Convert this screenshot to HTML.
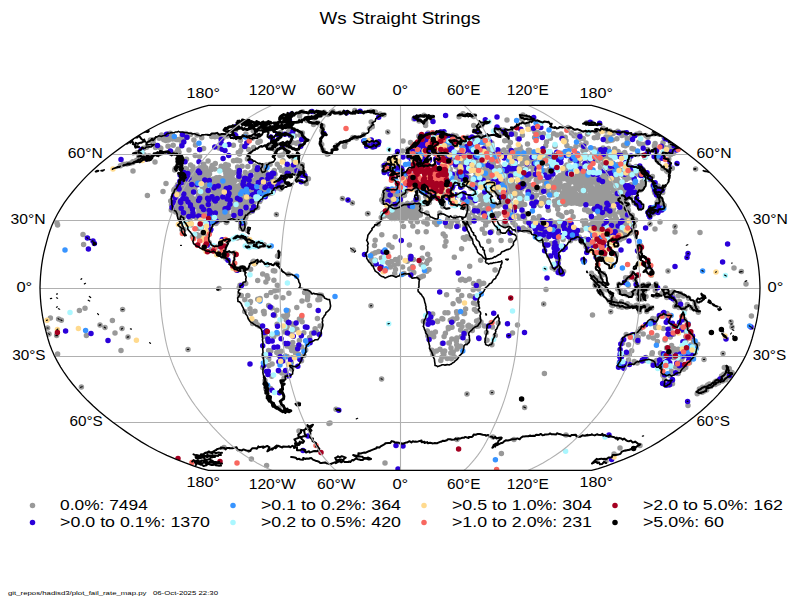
<!DOCTYPE html><html><head><meta charset="utf-8"><style>html,body{margin:0;padding:0;background:#fff}</style></head><body><svg width="800" height="600" viewBox="0 0 800 600" style="display:block;font-family:'Liberation Sans',sans-serif" fill="#000"><rect width="800" height="600" fill="#fff"/><clipPath id="c"><path d="M591.59 470.40L598.28 468.55L605.99 466.04L614.53 462.94L623.67 459.34L633.14 455.30L642.35 450.98L650.83 446.48L658.70 441.83L666.21 437.04L673.49 432.12L680.59 427.09L687.50 421.95L694.18 416.73L700.60 411.42L706.72 406.04L712.44 400.59L717.70 395.09L722.63 389.55L727.36 383.97L731.78 378.36L735.77 372.73L739.37 367.08L742.66 361.42L745.60 355.76L748.14 350.10L750.28 344.44L752.04 338.78L753.59 333.12L755.07 327.46L756.40 321.80L757.49 316.15L758.34 310.49L759.01 304.83L759.50 299.17L759.82 293.51L760.00 287.85L759.82 282.19L759.50 276.53L759.01 270.87L758.34 265.21L757.49 259.55L756.40 253.90L755.07 248.24L753.59 242.58L752.04 236.92L750.28 231.26L748.14 225.60L745.60 219.94L742.66 214.28L739.37 208.62L735.77 202.97L731.78 197.34L727.36 191.73L722.63 186.15L717.70 180.61L712.44 175.11L706.72 169.66L700.60 164.28L694.18 158.97L687.50 153.75L680.59 148.61L673.49 143.58L666.21 138.66L658.70 133.87L650.83 129.22L642.35 124.72L633.14 120.40L623.67 116.36L614.53 112.76L605.99 109.66L598.28 107.15L591.59 105.30L208.41 105.30L201.72 107.15L194.01 109.66L185.47 112.76L176.33 116.36L166.86 120.40L157.65 124.72L149.17 129.22L141.30 133.87L133.79 138.66L126.51 143.58L119.41 148.61L112.50 153.75L105.82 158.97L99.40 164.28L93.28 169.66L87.56 175.11L82.30 180.61L77.37 186.15L72.64 191.73L68.22 197.34L64.23 202.97L60.63 208.62L57.34 214.28L54.40 219.94L51.86 225.60L49.72 231.26L47.96 236.92L46.41 242.58L44.93 248.24L43.60 253.90L42.51 259.55L41.66 265.21L40.99 270.87L40.50 276.53L40.18 282.19L40.00 287.85L40.18 293.51L40.50 299.17L40.99 304.83L41.66 310.49L42.51 316.15L43.60 321.80L44.93 327.46L46.41 333.12L47.96 338.78L49.72 344.44L51.86 350.10L54.40 355.76L57.34 361.42L60.63 367.08L64.23 372.73L68.22 378.36L72.64 383.97L77.37 389.55L82.30 395.09L87.56 400.59L93.28 406.04L99.40 411.42L105.82 416.73L112.50 421.95L119.41 427.09L126.51 432.12L133.79 437.04L141.30 441.83L149.17 446.48L157.65 450.98L166.86 455.30L176.33 459.34L185.47 462.94L194.01 466.04L201.72 468.55L208.41 470.40Z"/></clipPath><g clip-path="url(#c)"><path d="M207.9 193.5h0M194.8 188.0h0M210.7 196.7h0M184.7 178.5h0M189.1 214.5h0M207.4 202.6h0M221.6 178.5h0M203.3 184.9h0M191.9 184.6h0M189.3 213.7h0M210.1 211.5h0M174.2 189.4h0M213.3 178.9h0M180.5 180.6h0M215.2 186.7h0M193.5 177.9h0M176.3 198.1h0M213.7 191.1h0M187.7 178.9h0M181.4 200.3h0M189.8 216.8h0M185.7 211.9h0M175.1 198.6h0M200.4 203.8h0M192.7 198.5h0M213.0 183.4h0M199.4 201.0h0M213.2 183.9h0M192.9 178.3h0M206.6 212.3h0M189.5 210.3h0M206.4 178.0h0M196.0 179.1h0M187.3 209.6h0M177.0 200.1h0M222.6 181.2h0M179.6 215.3h0M187.1 186.0h0M175.4 197.5h0M182.3 207.4h0M179.0 201.0h0M183.4 217.4h0M178.8 206.9h0M216.9 177.9h0M180.8 209.0h0M212.4 199.9h0M176.8 188.0h0M183.0 216.9h0M182.5 192.2h0M208.1 204.1h0M201.1 203.6h0M190.3 193.4h0M207.8 194.3h0M176.2 187.4h0M186.8 200.2h0M179.5 206.7h0M201.5 203.0h0M198.5 206.4h0M181.2 202.6h0M181.9 200.0h0M183.9 181.0h0M213.8 187.4h0M200.9 178.0h0M201.1 209.2h0M213.4 190.6h0M177.1 201.9h0M187.0 188.8h0M181.6 193.2h0M207.7 193.5h0M205.7 206.7h0M199.7 203.9h0M220.6 183.7h0M193.3 205.7h0M210.5 210.8h0M184.7 190.0h0M192.8 193.1h0M175.2 193.0h0M205.5 207.2h0M182.7 202.4h0M211.5 183.6h0M207.5 214.2h0M191.4 189.9h0M204.7 190.1h0M203.2 195.8h0M189.2 193.1h0M177.6 208.3h0M190.7 205.2h0M201.4 213.6h0M214.0 182.6h0M195.0 177.8h0M211.7 186.6h0M198.1 197.1h0M218.7 190.2h0M172.6 205.9h0M207.9 207.8h0M213.1 182.4h0M173.6 203.9h0M202.5 203.6h0M204.0 215.6h0M187.4 178.2h0M176.7 195.0h0M205.5 186.8h0M175.5 205.0h0M207.1 197.5h0M177.8 185.3h0M184.8 211.7h0M221.1 179.2h0M213.8 186.7h0M190.9 200.7h0M207.2 198.2h0M197.2 181.5h0M211.3 207.2h0M171.3 209.9h0M189.6 215.0h0M188.9 185.9h0M180.8 190.7h0M196.1 199.6h0M200.8 182.6h0M219.7 182.8h0M207.8 199.7h0M203.2 215.1h0M184.1 205.7h0M198.6 192.2h0M192.2 185.5h0M205.4 184.2h0M214.4 184.8h0M206.6 201.0h0M214.0 193.9h0M194.8 182.2h0M184.3 182.6h0M198.8 209.8h0M211.0 203.0h0M193.6 188.5h0M206.7 199.8h0M213.7 201.1h0M184.6 192.4h0M187.1 189.1h0M203.9 195.5h0M196.8 181.5h0M196.2 201.0h0M189.4 197.8h0M214.4 185.7h0M177.3 203.2h0M215.7 181.4h0M215.8 189.4h0M216.5 177.8h0M203.6 186.4h0M205.1 178.3h0M205.8 181.3h0M194.5 180.1h0M191.2 183.6h0M188.1 196.3h0M206.4 202.9h0M198.9 211.7h0M192.7 183.1h0M207.9 191.7h0M215.4 192.2h0M203.6 180.4h0M181.2 181.5h0M192.3 190.4h0M200.8 203.5h0M183.3 188.1h0M191.1 213.6h0M180.4 193.8h0M170.7 201.1h0M193.3 190.7h0M191.6 188.3h0M192.6 184.8h0M209.4 215.0h0M195.5 199.3h0M206.2 210.1h0M198.6 194.8h0M179.2 183.5h0M192.8 211.0h0M192.8 199.4h0M184.6 190.3h0M174.4 208.9h0M197.0 206.8h0M201.6 180.9h0M184.9 190.2h0M213.3 191.3h0M208.2 198.8h0M208.2 191.0h0M175.7 212.0h0M195.4 216.0h0M210.4 200.5h0M193.6 205.0h0M183.4 191.6h0M187.7 210.4h0M222.5 181.2h0M207.7 195.0h0M206.8 204.2h0M177.9 200.9h0M204.7 185.2h0M171.5 204.7h0M181.1 212.4h0M187.6 191.1h0M202.2 186.7h0M195.8 182.8h0M198.5 215.6h0M203.9 190.3h0M176.8 206.0h0M188.2 194.8h0M206.1 191.4h0M191.3 194.5h0M194.6 182.0h0M205.5 199.8h0M188.8 208.8h0M198.0 200.2h0M184.7 197.0h0M206.4 178.4h0M190.2 205.9h0M183.4 179.8h0M202.8 208.3h0M194.8 178.6h0M207.6 213.3h0M198.6 200.0h0M175.1 190.3h0M202.7 209.7h0M188.0 210.9h0M202.5 199.7h0M181.1 205.4h0M177.6 194.3h0M179.1 213.5h0M189.8 186.4h0M193.8 214.4h0M192.9 216.1h0M200.0 203.2h0M185.2 177.8h0M187.3 187.7h0M176.0 187.6h0M217.5 186.0h0M208.7 217.4h0M177.5 184.8h0M187.0 214.4h0M218.4 181.0h0M213.6 180.7h0M189.8 217.7h0M218.6 181.7h0M201.3 194.3h0M207.3 212.0h0M200.8 214.9h0M219.5 183.9h0M198.1 205.4h0M206.1 201.6h0M206.1 193.5h0M206.6 211.1h0M207.3 180.2h0M188.1 195.7h0M187.0 185.3h0M190.7 211.0h0M184.8 215.1h0M209.8 207.8h0M173.9 200.1h0M175.3 193.3h0M185.6 181.4h0M190.7 194.9h0M202.0 191.2h0M173.8 190.6h0M208.3 177.4h0M198.8 178.1h0M217.7 185.2h0M199.5 181.0h0M200.2 209.3h0M219.4 177.6h0M216.3 211.5h0M244.5 196.5h0M234.1 181.7h0M233.2 185.2h0M249.8 199.6h0M216.3 197.4h0M273.4 178.2h0M256.3 199.5h0M227.3 221.2h0M215.9 217.3h0M229.5 188.7h0M220.7 214.0h0M241.0 206.7h0M238.4 206.9h0M234.8 209.0h0M223.7 218.8h0M223.1 207.6h0M283.0 181.0h0M228.9 196.6h0M220.6 189.0h0M229.9 197.0h0M230.7 191.7h0M226.7 219.6h0M277.4 187.7h0M218.9 192.5h0M239.5 204.5h0M221.2 205.5h0M230.4 198.0h0M280.7 187.3h0M268.9 186.9h0M241.5 206.7h0M220.0 192.5h0M222.8 200.7h0M236.6 205.1h0M251.4 201.7h0M228.7 216.0h0M217.1 210.4h0M245.0 181.0h0M245.1 195.6h0M236.4 215.3h0M226.5 201.7h0M243.9 196.8h0M227.9 218.7h0M261.1 192.1h0M240.5 190.6h0M246.9 188.6h0M231.4 194.1h0M243.6 178.1h0M242.6 181.8h0M247.5 230.4h0M240.4 195.3h0M223.6 190.7h0M211.3 213.4h0M215.5 211.4h0M228.3 202.0h0M248.6 198.8h0M242.0 203.3h0M246.4 179.4h0M217.2 218.9h0M274.0 188.5h0M214.6 218.6h0M214.9 214.9h0M250.9 188.2h0M243.3 221.5h0M211.6 216.2h0M230.4 207.1h0M271.8 185.5h0M226.9 215.9h0M230.4 205.3h0M224.4 184.1h0M230.5 179.4h0M261.8 187.0h0M250.7 181.9h0M242.3 221.4h0M220.4 202.4h0M267.4 181.5h0M227.1 219.2h0M238.0 195.2h0M220.6 195.1h0M222.2 203.8h0M232.7 189.7h0M248.6 192.2h0M234.3 193.3h0M243.8 217.0h0M240.8 222.8h0M263.4 187.8h0M259.6 192.9h0M224.2 206.6h0M240.2 186.5h0M260.5 193.7h0M209.0 223.1h0M265.8 179.8h0M241.2 194.5h0M257.4 194.2h0M260.8 179.8h0M264.1 194.2h0M212.5 211.8h0M217.3 222.1h0M272.3 188.4h0M225.7 210.4h0M228.0 203.6h0M247.6 198.5h0M213.4 214.7h0M242.5 199.0h0M259.8 193.9h0M250.0 180.7h0M272.4 184.6h0M234.9 195.1h0M260.6 181.2h0M250.4 196.4h0M226.4 216.5h0M261.9 178.4h0M271.6 183.1h0M237.1 200.2h0M223.4 218.3h0M267.3 192.5h0M229.5 207.7h0M253.9 202.4h0M237.2 198.3h0M216.0 223.4h0M260.0 194.6h0M241.3 205.9h0M240.1 198.9h0M211.7 214.0h0M221.1 207.2h0M228.3 183.2h0M233.3 206.0h0M240.9 180.5h0M231.5 179.1h0M213.3 223.1h0M267.3 193.3h0M206.8 224.9h0M240.2 219.4h0M278.4 181.0h0M246.6 214.3h0M255.2 192.9h0M220.7 220.1h0M241.1 184.4h0M269.8 179.2h0M260.9 195.0h0M240.1 217.4h0M228.6 193.1h0M264.5 193.0h0M219.3 202.4h0M246.5 190.1h0M214.8 222.7h0M245.4 193.5h0M212.4 210.4h0M224.0 198.4h0M257.6 184.5h0M257.9 180.4h0M266.9 190.7h0M264.6 186.1h0M256.1 186.7h0M242.3 190.9h0M231.0 195.2h0M277.5 187.3h0M236.7 219.5h0M211.7 219.3h0M244.6 201.8h0M245.4 198.7h0M245.3 202.3h0M245.6 179.5h0M250.7 190.3h0M249.5 212.4h0M250.0 187.8h0M227.4 179.4h0M238.7 208.5h0M233.4 213.4h0M235.8 202.7h0M221.4 206.0h0M222.6 189.2h0M239.4 211.7h0M246.2 189.6h0M222.3 183.8h0M249.9 203.7h0M245.9 194.3h0M217.4 215.0h0M244.8 223.2h0M218.6 193.5h0M245.5 200.4h0M244.5 221.7h0M242.9 226.3h0M240.5 193.7h0M243.3 213.0h0M224.0 217.5h0M235.0 180.5h0M209.2 229.8h0M227.2 180.4h0M247.6 199.5h0M210.8 216.3h0M251.5 190.6h0M265.2 191.1h0M259.8 201.6h0M230.7 182.3h0M253.9 180.1h0M242.5 199.2h0M228.6 190.9h0M244.0 224.8h0M268.3 193.9h0M252.5 211.3h0M267.9 191.5h0M250.4 180.2h0M251.5 192.8h0M224.3 205.1h0M265.0 179.0h0M245.6 195.4h0M218.6 206.3h0M234.2 185.6h0M237.6 205.9h0M234.5 212.2h0M236.7 201.5h0M232.9 194.4h0M240.7 228.3h0M229.2 189.6h0M239.6 195.3h0M238.0 205.7h0M214.4 218.1h0M240.3 186.8h0M260.1 179.5h0M227.8 198.2h0M268.5 178.8h0M227.1 211.7h0M264.2 190.5h0M261.9 185.8h0M281.1 181.2h0M248.5 201.5h0M259.6 192.7h0M242.8 224.1h0M223.2 206.3h0M230.0 202.7h0M257.6 207.4h0M242.0 178.7h0M265.5 182.6h0M260.8 199.3h0M274.5 182.6h0M233.2 179.6h0M232.2 186.0h0M215.4 202.6h0M210.2 218.7h0M275.8 180.6h0M242.4 212.2h0M251.9 201.1h0M216.0 206.6h0M247.1 196.0h0M245.7 197.7h0M245.8 217.1h0M252.6 180.9h0M216.9 201.8h0M224.3 191.0h0M256.8 199.4h0M273.6 178.8h0M239.0 212.4h0M221.6 204.0h0M276.7 187.3h0M236.6 211.6h0M227.7 192.2h0M277.0 180.3h0M252.6 184.7h0M265.5 183.6h0M271.7 193.0h0M266.4 188.3h0M237.1 207.2h0M244.9 182.7h0M222.4 184.6h0M246.0 188.2h0M240.9 213.3h0M237.6 207.7h0M249.8 189.0h0M219.7 200.9h0M261.6 195.0h0M226.5 209.6h0M262.6 192.5h0M247.2 208.4h0M261.3 198.3h0M250.0 186.1h0M221.7 195.2h0M225.6 215.8h0M267.2 194.0h0M245.0 218.8h0M267.9 189.2h0M210.3 230.8h0M234.4 199.2h0M254.3 193.9h0M240.9 225.3h0M265.9 191.4h0M252.6 208.7h0M218.3 214.3h0M230.6 198.0h0M214.3 215.6h0M225.2 188.2h0M269.4 180.4h0M245.3 212.1h0M219.1 206.6h0M237.6 213.1h0M233.3 212.3h0M238.5 186.1h0M243.3 180.6h0M253.1 208.1h0M254.5 208.4h0M245.5 181.4h0M281.9 183.5h0M248.0 191.8h0M223.6 184.5h0M237.4 191.9h0M226.3 222.6h0M224.0 180.7h0M218.9 208.4h0M218.1 198.5h0M266.2 185.5h0M269.0 186.5h0M243.9 187.1h0M250.3 202.9h0M235.8 216.8h0M250.4 196.3h0M256.5 189.9h0M278.5 185.1h0M269.0 188.8h0M280.6 189.1h0M222.2 190.2h0M243.1 187.0h0M232.5 191.1h0M227.0 194.2h0M261.2 180.5h0M224.5 211.4h0M245.1 197.1h0M235.8 187.4h0M207.3 224.1h0M243.6 196.4h0M228.2 184.7h0M228.2 194.0h0M245.3 187.6h0M247.0 204.2h0M216.5 208.5h0M248.3 190.6h0M262.2 190.2h0M272.6 192.3h0M220.8 219.3h0M222.1 192.4h0M260.6 198.0h0M249.7 197.7h0M252.1 199.4h0M227.5 219.4h0M246.3 185.0h0M243.6 228.8h0M256.8 178.9h0M236.2 191.9h0M239.4 200.2h0M217.6 214.8h0M227.9 186.8h0M242.7 195.4h0M210.5 225.0h0M278.0 180.4h0M220.7 211.4h0M259.8 191.6h0M234.9 210.5h0M247.8 199.4h0M259.8 199.3h0M252.4 210.5h0M245.2 206.0h0M230.2 189.6h0M220.6 214.7h0M240.5 186.0h0M257.3 186.8h0M229.1 188.1h0M219.6 191.4h0M213.6 209.5h0M249.5 190.9h0M216.0 220.5h0M246.0 202.4h0M253.4 202.9h0M239.7 179.7h0M300.4 169.4h0M275.1 174.2h0M274.0 171.0h0M238.5 176.3h0M203.2 168.4h0M196.5 175.3h0M285.9 168.9h0M227.5 174.5h0M259.6 169.9h0M301.3 171.2h0M186.5 169.1h0M221.2 166.3h0M257.8 171.5h0M268.1 176.1h0M202.3 167.9h0M259.4 173.9h0M266.3 165.0h0M279.6 167.4h0M183.7 176.9h0M189.2 176.6h0M202.4 167.0h0M296.3 173.8h0M302.3 164.8h0M265.3 169.9h0M211.0 169.8h0M281.3 170.4h0M298.6 176.5h0M254.9 165.9h0M191.6 171.3h0M284.8 177.3h0M270.1 164.3h0M295.4 172.0h0M191.0 173.4h0M299.6 167.8h0M250.8 172.5h0M254.9 168.7h0M247.5 176.3h0M247.8 166.5h0M250.4 174.0h0M184.3 175.5h0M237.6 167.1h0M203.8 165.3h0M287.7 174.9h0M229.4 177.1h0M203.7 164.3h0M285.1 174.2h0M198.3 168.4h0M184.6 171.5h0M245.2 172.5h0M286.8 175.3h0M219.9 169.7h0M194.3 171.9h0M225.8 173.3h0M214.6 169.0h0M261.0 166.2h0M205.6 171.5h0M263.0 165.9h0M228.9 170.2h0M228.3 165.2h0M265.8 173.4h0M206.9 171.3h0M284.8 173.9h0M175.2 168.4h0M203.6 175.6h0M267.6 174.0h0M192.9 166.7h0M236.1 172.2h0M207.9 175.5h0M271.8 176.9h0M193.2 170.4h0M223.0 169.4h0M187.3 176.1h0M190.6 165.0h0M290.3 168.5h0M199.4 167.9h0M231.7 172.3h0M209.5 173.9h0M272.4 176.4h0M299.8 174.0h0M300.0 174.4h0M225.7 164.6h0M202.8 176.6h0M262.5 174.9h0M181.5 174.5h0M211.4 168.1h0M232.3 175.1h0M268.8 177.1h0M174.7 170.0h0M256.8 170.1h0M226.0 176.0h0M242.1 166.3h0M225.8 169.4h0M212.2 165.6h0M286.1 173.4h0M304.2 173.3h0M240.7 176.3h0M256.2 175.8h0M292.9 170.6h0M202.3 168.8h0M292.2 169.7h0M226.7 167.2h0M277.3 164.3h0M290.1 166.4h0M202.6 167.9h0M231.1 171.9h0M274.3 170.6h0M256.4 171.9h0M183.9 176.9h0M253.9 170.5h0M202.0 171.1h0M287.7 173.4h0M185.4 168.4h0M297.3 165.7h0M257.9 175.6h0M265.2 172.5h0M205.7 167.7h0M218.9 147.9h0M195.2 155.4h0M257.9 142.6h0M218.4 136.5h0M199.9 149.7h0M247.4 158.9h0M282.3 155.1h0M252.3 138.2h0M233.5 160.7h0M279.9 155.6h0M293.7 158.7h0M208.1 161.1h0M283.0 160.8h0M237.1 159.9h0M233.4 145.3h0M240.7 150.5h0M288.7 131.3h0M294.2 161.8h0M237.0 160.4h0M296.3 143.2h0M278.9 137.2h0M227.3 136.1h0M215.3 163.5h0M260.2 141.3h0M186.5 159.3h0M180.3 157.2h0M215.0 136.8h0M240.4 140.6h0M299.9 135.3h0M223.1 135.8h0M271.1 147.0h0M239.7 160.8h0M253.7 147.6h0M272.0 148.2h0M189.0 150.1h0M292.8 155.9h0M303.6 138.9h0M290.5 135.8h0M201.7 137.8h0M292.3 142.5h0M193.9 140.0h0M199.6 156.4h0M248.6 149.4h0M285.7 145.4h0M241.8 146.0h0M285.3 145.2h0M251.2 161.5h0M276.6 143.9h0M253.2 130.8h0M195.5 145.1h0M298.6 142.4h0M227.1 134.9h0M211.6 136.6h0M285.5 151.4h0M280.7 132.4h0M238.3 152.4h0M203.6 148.4h0M179.0 152.2h0M222.9 138.0h0M269.6 147.0h0M294.6 135.8h0M239.5 154.1h0M197.0 135.1h0M149.0 155.8h0M173.2 145.2h0M126.9 164.1h0M152.7 140.5h0M143.0 157.2h0M185.4 137.0h0M123.5 164.3h0M172.6 138.9h0M150.6 140.4h0M182.5 140.4h0M187.0 137.6h0M164.4 140.1h0M177.5 151.1h0M132.8 161.7h0M168.5 139.9h0M144.1 154.7h0M168.0 146.3h0M170.2 133.2h0M173.5 153.3h0M143.1 149.0h0M182.1 135.8h0M138.6 157.4h0M186.4 134.5h0M178.5 139.6h0M190.5 134.6h0M136.4 160.4h0M160.8 148.3h0M161.6 134.9h0M137.1 152.7h0M153.7 143.8h0M181.9 143.8h0M164.6 136.2h0M142.4 154.9h0M143.6 148.2h0M160.5 148.0h0M161.1 136.9h0M159.2 138.2h0M120.4 165.7h0M169.1 133.5h0M130.3 163.3h0M176.2 139.5h0M150.4 139.9h0M146.7 147.3h0M133.0 162.5h0M166.3 137.7h0M178.1 149.2h0M165.8 140.5h0M153.2 139.7h0M185.8 133.5h0M155.5 147.4h0M170.2 138.1h0M163.8 139.8h0M185.2 134.8h0M196.5 234.5h0M192.5 236.7h0M190.7 225.0h0M207.3 225.2h0M183.9 229.5h0M179.8 217.8h0M200.4 227.5h0M180.8 224.7h0M209.2 217.3h0M190.0 221.0h0M201.5 227.0h0M197.8 234.9h0M198.5 228.4h0M204.5 220.7h0M205.0 236.4h0M200.1 236.1h0M188.5 222.6h0M198.3 216.7h0M196.5 217.7h0M199.1 236.9h0M189.4 215.5h0M181.8 229.5h0M227.7 240.9h0M216.6 247.0h0M211.3 249.6h0M214.4 250.2h0M209.2 242.6h0M227.7 253.9h0M236.4 270.3h0M225.8 258.2h0M237.6 269.3h0M240.9 267.9h0M267.5 264.7h0M254.3 245.1h0M234.3 253.0h0M251.3 242.9h0M277.5 255.9h0M254.4 244.0h0M254.0 245.0h0M237.4 238.1h0M263.9 245.2h0M252.8 262.0h0M247.0 238.7h0M279.2 253.9h0M253.5 261.2h0M308.6 292.4h0M268.6 305.6h0M299.4 319.0h0M319.7 299.5h0M277.3 285.2h0M244.7 311.4h0M265.9 282.1h0M317.4 318.6h0M287.2 315.4h0M266.9 275.7h0M309.5 305.4h0M301.6 316.9h0M319.4 294.9h0M250.0 308.8h0M288.0 310.8h0M242.8 269.3h0M306.0 291.2h0M250.0 302.8h0M288.4 274.3h0M260.1 298.6h0M257.7 299.3h0M302.0 301.0h0M276.9 310.2h0M263.5 311.5h0M266.5 295.4h0M278.1 290.0h0M247.8 295.5h0M254.7 263.8h0M270.9 292.6h0M267.8 278.5h0M277.3 263.3h0M287.5 314.9h0M276.1 296.9h0M288.9 293.3h0M264.2 313.8h0M239.5 295.2h0M250.5 301.5h0M239.2 287.7h0M307.4 299.7h0M274.7 315.5h0M255.0 311.3h0M257.7 280.4h0M307.7 294.7h0M273.3 270.7h0M240.0 285.3h0M296.8 307.6h0M245.7 283.5h0M250.7 313.5h0M274.9 290.7h0M307.7 297.0h0M241.3 295.4h0M287.2 312.9h0M317.9 299.8h0M264.1 311.6h0M271.9 307.9h0M274.8 271.0h0M283.0 316.3h0M321.4 295.2h0M255.6 321.7h0M273.9 280.3h0M262.7 274.0h0M274.3 314.6h0M304.6 292.6h0M286.3 320.0h0M238.4 269.4h0M250.6 269.3h0M282.9 297.7h0M244.8 299.7h0M278.7 371.1h0M291.7 369.0h0M284.0 378.3h0M293.8 329.9h0M290.1 362.8h0M269.0 365.6h0M293.0 348.6h0M292.8 348.1h0M290.6 347.4h0M267.4 341.2h0M290.1 334.0h0M292.2 324.1h0M265.0 336.3h0M252.6 323.4h0M285.5 356.0h0M279.1 355.2h0M279.0 352.4h0M281.4 360.6h0M320.1 326.1h0M262.6 367.4h0M311.6 333.2h0M263.7 356.1h0M292.1 357.7h0M293.6 350.3h0M299.4 340.6h0M292.6 348.1h0M303.9 355.5h0M318.4 333.7h0M270.8 351.0h0M268.7 359.2h0M277.1 324.2h0M286.2 328.8h0M303.8 332.8h0M284.6 332.1h0M302.1 321.8h0M294.9 347.5h0M291.7 350.4h0M276.8 352.5h0M259.1 325.9h0M271.7 376.2h0M287.1 356.4h0M271.8 334.8h0M273.7 336.7h0M316.4 331.5h0M301.5 360.7h0M291.3 362.7h0M301.6 346.9h0M305.7 349.9h0M287.1 326.8h0M277.5 333.8h0M268.6 350.6h0M315.1 328.8h0M296.9 329.3h0M309.6 337.4h0M292.7 342.6h0M272.1 364.1h0M299.8 359.1h0M298.8 357.7h0M286.3 376.6h0M257.5 324.8h0M286.3 373.6h0M281.9 373.1h0M281.2 351.3h0M287.0 345.9h0M295.6 353.2h0M293.8 325.0h0M297.9 357.1h0M298.5 354.0h0M265.1 383.3h0M270.5 388.4h0M266.8 392.6h0M265.0 380.6h0M265.8 388.8h0M278.9 408.0h0M267.9 386.7h0M395.1 175.1h0M383.4 166.1h0M401.3 167.6h0M401.3 167.6h0M394.8 166.0h0M391.7 159.4h0M394.6 172.2h0M386.1 163.5h0M396.0 189.4h0M396.7 189.3h0M390.3 206.2h0M403.0 195.7h0M386.2 190.1h0M384.9 192.7h0M402.8 194.8h0M403.2 205.2h0M400.6 200.7h0M385.3 202.5h0M397.1 190.7h0M392.0 194.0h0M393.6 192.8h0M386.2 189.0h0M397.9 194.0h0M389.2 200.0h0M399.6 196.1h0M405.8 191.5h0M387.3 202.6h0M391.8 191.5h0M401.3 190.2h0M403.4 194.6h0M400.5 195.6h0M395.0 193.9h0M402.7 195.2h0M401.3 194.4h0M392.3 196.1h0M385.9 202.7h0M385.9 195.3h0M398.5 190.6h0M400.5 194.8h0M404.4 195.2h0M389.4 190.8h0M391.0 190.5h0M381.7 200.1h0M401.4 195.8h0M393.5 197.3h0M391.7 194.0h0M394.1 199.3h0M392.5 204.6h0M383.7 195.2h0M402.8 205.9h0M389.9 199.9h0M387.1 189.6h0M382.1 199.5h0M395.8 203.3h0M400.3 192.3h0M383.2 201.9h0M387.4 202.9h0M395.3 203.2h0M385.8 195.1h0M403.8 190.8h0M394.1 196.3h0M405.0 192.1h0M397.8 191.7h0M392.8 195.1h0M386.0 201.8h0M406.8 176.5h0M402.7 178.6h0M404.9 190.1h0M395.3 175.1h0M408.4 179.7h0M409.5 178.5h0M393.1 190.1h0M392.4 177.4h0M397.2 187.7h0M452.8 184.6h0M431.7 196.2h0M445.3 194.3h0M423.4 191.7h0M447.7 189.6h0M429.4 188.2h0M427.7 200.3h0M443.3 197.7h0M431.3 187.3h0M450.9 197.8h0M438.0 187.0h0M433.1 197.8h0M426.5 196.5h0M451.6 193.0h0M440.2 193.2h0M425.6 196.2h0M424.3 204.0h0M453.8 204.6h0M451.9 189.5h0M442.4 200.7h0M443.5 185.5h0M425.5 193.4h0M422.6 186.2h0M412.9 203.0h0M418.2 199.3h0M416.9 190.4h0M429.8 189.5h0M421.2 188.8h0M431.8 196.1h0M418.9 184.8h0M423.3 186.4h0M417.6 190.9h0M423.8 184.9h0M416.4 184.2h0M427.9 184.4h0M419.3 204.6h0M418.0 197.2h0M424.5 190.0h0M417.7 205.4h0M428.4 196.7h0M418.5 186.3h0M417.0 203.7h0M424.9 186.0h0M418.5 189.3h0M429.4 202.4h0M426.0 193.7h0M430.8 193.7h0M427.2 202.9h0M435.5 159.3h0M440.0 151.6h0M422.1 137.2h0M449.8 159.4h0M439.0 151.0h0M438.4 135.7h0M421.5 150.3h0M411.7 153.1h0M431.8 135.3h0M410.2 156.2h0M443.6 145.8h0M411.9 153.8h0M415.9 148.8h0M410.9 154.1h0M435.2 142.0h0M410.0 153.4h0M419.8 159.6h0M440.5 152.1h0M438.5 141.8h0M420.9 137.9h0M407.7 149.3h0M413.0 151.9h0M426.3 157.9h0M410.4 153.3h0M419.1 142.8h0M441.4 131.9h0M426.2 143.8h0M418.8 136.3h0M416.5 149.9h0M445.0 161.1h0M419.5 154.8h0M422.7 144.7h0M415.3 159.9h0M436.0 146.0h0M428.1 133.0h0M427.1 160.3h0M421.7 146.0h0M436.9 147.2h0M420.7 143.4h0M434.0 136.5h0M444.3 138.1h0M434.1 152.9h0M439.6 157.9h0M437.8 135.5h0M480.0 168.3h0M450.0 143.3h0M433.7 143.9h0M435.0 174.1h0M462.2 186.8h0M449.3 168.4h0M441.5 165.9h0M447.3 148.4h0M486.2 151.0h0M487.7 166.7h0M441.1 147.3h0M503.6 186.9h0M439.6 168.4h0M462.0 148.8h0M483.4 137.5h0M441.3 135.2h0M438.1 188.0h0M441.1 176.4h0M436.0 153.2h0M486.1 168.6h0M490.5 179.0h0M470.2 153.5h0M476.1 168.1h0M460.3 180.4h0M442.0 143.9h0M478.4 185.7h0M441.8 169.8h0M489.5 152.5h0M497.7 167.8h0M470.9 141.8h0M468.1 159.1h0M485.2 177.3h0M445.4 177.4h0M449.9 143.9h0M470.0 144.6h0M452.7 143.3h0M457.2 183.0h0M452.8 135.3h0M479.1 167.0h0M487.1 159.2h0M441.2 149.4h0M488.3 172.0h0M493.6 162.9h0M457.8 178.8h0M453.3 182.8h0M477.1 149.7h0M439.2 159.9h0M453.1 145.8h0M434.3 139.0h0M501.9 187.0h0M485.5 151.0h0M462.3 181.5h0M466.3 162.2h0M441.7 172.2h0M445.6 162.0h0M475.8 172.2h0M439.3 186.2h0M449.2 179.5h0M470.2 170.7h0M438.8 155.6h0M451.9 143.5h0M432.6 152.2h0M477.3 172.1h0M436.0 178.6h0M482.7 171.1h0M499.9 167.1h0M441.9 165.1h0M460.8 152.4h0M456.5 136.9h0M462.4 146.6h0M481.4 157.0h0M485.6 143.9h0M437.6 145.7h0M474.9 162.5h0M498.3 180.0h0M481.2 136.7h0M462.2 152.8h0M436.2 159.8h0M474.9 141.5h0M436.6 136.3h0M454.8 182.5h0M441.7 160.3h0M470.0 156.1h0M435.3 174.5h0M478.7 167.6h0M469.9 156.5h0M447.9 166.4h0M459.0 169.0h0M488.2 167.3h0M472.4 137.9h0M463.7 157.2h0M452.5 154.1h0M460.3 166.4h0M484.2 172.9h0M481.0 136.1h0M497.6 175.0h0M445.9 183.7h0M435.2 137.5h0M491.5 157.1h0M465.6 149.9h0M482.3 187.6h0M475.7 157.8h0M468.0 163.0h0M470.9 151.2h0M486.2 160.0h0M454.1 160.8h0M486.1 170.7h0M435.9 160.1h0M462.7 168.1h0M479.0 141.2h0M488.9 172.8h0M456.0 166.8h0M478.4 163.5h0M467.8 144.3h0M505.1 179.5h0M472.5 144.3h0M436.6 180.5h0M471.0 146.6h0M461.5 184.7h0M438.3 147.7h0M454.5 139.3h0M461.1 156.0h0M456.7 144.5h0M481.1 141.6h0M470.6 159.9h0M499.8 177.3h0M481.5 149.2h0M441.9 161.6h0M500.6 169.9h0M436.3 153.7h0M482.4 184.7h0M469.6 156.6h0M436.4 176.8h0M451.8 140.5h0M454.7 152.2h0M458.7 140.8h0M448.3 167.6h0M468.9 177.5h0M485.4 155.1h0M467.6 171.7h0M488.8 148.9h0M451.7 175.6h0M439.9 147.1h0M489.7 162.5h0M492.3 180.5h0M468.5 140.9h0M484.0 150.6h0M488.5 139.2h0M472.1 149.3h0M467.6 137.2h0M506.4 184.6h0M440.6 137.6h0M442.0 165.2h0M451.5 156.0h0M494.9 167.4h0M478.4 155.2h0M499.0 171.9h0M476.6 138.9h0M492.9 179.5h0M475.8 150.7h0M471.9 147.3h0M485.7 165.8h0M471.5 161.6h0M437.6 184.4h0M436.7 153.9h0M456.4 165.3h0M490.0 147.7h0M455.6 165.7h0M491.0 162.4h0M464.0 161.0h0M445.6 136.7h0M475.1 176.9h0M469.2 154.5h0M460.9 142.5h0M439.2 179.0h0M433.1 147.3h0M455.0 176.2h0M494.8 180.9h0M484.0 179.0h0M473.4 179.9h0M463.7 160.8h0M460.8 139.6h0M481.4 182.6h0M459.3 175.6h0M489.9 176.5h0M456.1 136.1h0M485.7 167.3h0M462.6 158.0h0M462.1 163.1h0M485.9 177.7h0M461.2 159.3h0M479.4 183.1h0M492.7 168.6h0M442.6 140.0h0M501.7 178.0h0M459.4 169.1h0M450.9 175.8h0M463.6 182.9h0M503.1 172.4h0M466.1 178.1h0M460.4 144.6h0M492.2 145.9h0M478.7 141.8h0M472.7 140.9h0M461.1 142.2h0M462.6 172.3h0M447.9 154.6h0M441.4 144.7h0M488.7 142.3h0M476.6 165.0h0M477.1 185.3h0M438.2 150.1h0M466.4 143.4h0M483.4 149.5h0M470.7 182.8h0M474.6 157.6h0M494.9 178.3h0M456.5 173.4h0M500.1 168.1h0M483.8 161.1h0M485.6 142.6h0M444.7 150.3h0M461.6 160.8h0M490.3 170.8h0M462.6 169.9h0M449.9 176.3h0M454.6 141.9h0M469.7 183.8h0M476.3 156.6h0M461.6 161.5h0M477.2 183.9h0M502.5 182.8h0M454.4 181.7h0M449.8 138.5h0M437.9 180.4h0M459.4 173.4h0M442.1 172.9h0M440.3 162.5h0M466.7 169.9h0M450.2 169.2h0M437.8 185.5h0M456.3 155.6h0M455.8 182.6h0M484.2 140.4h0M465.9 174.4h0M469.3 162.7h0M464.9 170.0h0M432.7 136.6h0M476.2 158.9h0M466.5 179.3h0M465.7 162.9h0M493.1 151.5h0M484.6 150.8h0M466.2 171.1h0M449.5 138.7h0M458.2 175.9h0M452.3 187.5h0M442.3 175.6h0M474.3 141.4h0M440.0 181.3h0M457.5 164.9h0M488.0 172.4h0M463.7 149.4h0M446.2 153.5h0M484.5 185.7h0M458.2 156.6h0M495.1 182.9h0M448.4 167.0h0M479.2 164.7h0M451.8 174.1h0M476.3 138.6h0M478.3 143.3h0M491.5 173.6h0M501.1 168.5h0M487.9 179.9h0M461.9 167.8h0M470.5 186.0h0M480.3 158.1h0M434.0 143.1h0M450.4 158.8h0M499.6 172.3h0M436.9 188.3h0M446.8 144.0h0M459.0 153.1h0M494.1 174.6h0M456.3 143.6h0M466.2 147.1h0M461.4 182.2h0M486.5 157.3h0M480.1 178.6h0M492.7 178.2h0M463.7 168.2h0M490.6 168.7h0M475.4 141.2h0M490.2 145.3h0M466.4 143.5h0M484.9 161.3h0M490.0 169.6h0M446.1 149.7h0M432.6 141.6h0M462.9 182.2h0M436.9 137.7h0M460.8 162.8h0M467.0 144.5h0M445.7 159.5h0M490.5 170.4h0M488.0 171.0h0M431.8 142.9h0M489.3 167.2h0M483.7 151.5h0M452.1 186.5h0M470.9 188.2h0M446.2 176.4h0M477.5 164.9h0M476.1 171.5h0M447.4 183.0h0M473.5 179.3h0M441.6 171.4h0M480.7 157.8h0M497.2 187.7h0M502.6 175.0h0M492.4 159.4h0M457.6 143.7h0M482.8 174.2h0M505.6 181.7h0M434.1 137.3h0M495.7 156.5h0M443.6 162.0h0M481.8 154.5h0M456.1 178.2h0M456.0 158.5h0M465.1 157.3h0M492.7 172.4h0M486.8 163.9h0M480.5 136.7h0M447.1 141.4h0M451.7 185.2h0M486.3 170.3h0M445.3 174.9h0M489.7 169.1h0M457.5 141.1h0M472.1 202.9h0M467.7 203.1h0M451.2 194.8h0M482.9 198.2h0M450.9 197.7h0M469.3 199.4h0M483.1 203.4h0M456.6 194.7h0M481.8 195.0h0M458.3 195.6h0M480.3 205.6h0M470.7 202.0h0M462.5 200.2h0M453.5 204.8h0M479.5 199.3h0M468.6 199.1h0M479.8 196.4h0M447.5 195.1h0M600.4 167.2h0M608.7 171.3h0M588.4 162.7h0M529.6 150.3h0M528.7 158.6h0M561.0 153.3h0M518.9 157.7h0M533.8 152.3h0M586.8 156.4h0M597.2 153.3h0M632.7 167.8h0M554.0 161.6h0M587.2 174.0h0M612.5 163.0h0M537.1 167.0h0M542.7 160.6h0M515.2 163.6h0M527.8 159.0h0M505.8 153.5h0M521.0 150.5h0M599.3 152.2h0M506.0 175.0h0M577.7 168.7h0M579.0 174.1h0M566.9 165.1h0M519.1 170.0h0M512.5 158.3h0M531.5 160.3h0M527.1 161.9h0M499.7 151.2h0M576.0 156.4h0M601.2 168.4h0M565.5 170.8h0M621.4 154.3h0M580.9 174.3h0M578.5 161.6h0M551.3 160.6h0M561.0 154.9h0M524.3 154.4h0M544.1 155.5h0M607.5 157.2h0M594.1 173.6h0M628.4 167.7h0M625.3 167.3h0M578.6 159.8h0M580.8 175.1h0M604.9 162.1h0M635.2 170.5h0M524.9 169.3h0M509.4 172.8h0M519.4 173.9h0M554.7 156.0h0M520.4 169.1h0M508.1 152.4h0M629.1 165.7h0M583.7 169.7h0M580.9 158.9h0M563.9 172.2h0M605.3 152.7h0M568.8 153.2h0M533.4 168.6h0M596.2 157.0h0M552.3 154.7h0M631.0 174.4h0M528.6 152.5h0M613.3 164.8h0M610.1 160.3h0M607.3 157.2h0M527.0 167.6h0M602.3 172.8h0M547.6 155.9h0M541.1 154.4h0M522.9 154.4h0M626.7 172.8h0M598.8 149.9h0M635.0 172.7h0M525.4 159.4h0M539.7 163.4h0M565.3 166.8h0M589.1 174.8h0M600.9 157.9h0M586.9 158.9h0M592.7 161.9h0M605.8 166.1h0M582.2 156.2h0M537.9 174.3h0M506.6 175.1h0M528.3 150.2h0M509.7 170.0h0M532.1 167.0h0M507.9 174.2h0M626.1 162.3h0M610.0 174.7h0M522.8 160.6h0M509.5 153.2h0M547.1 162.3h0M607.6 170.0h0M592.3 155.0h0M525.9 155.1h0M534.0 164.0h0M580.7 158.9h0M535.3 157.9h0M581.3 168.5h0M617.7 164.5h0M618.1 151.4h0M512.0 166.5h0M544.4 170.8h0M611.1 154.6h0M585.6 173.7h0M516.3 156.0h0M600.7 165.2h0M548.7 169.9h0M508.0 170.7h0M570.4 160.4h0M579.1 158.5h0M564.1 168.0h0M549.6 151.8h0M608.0 162.6h0M533.9 152.9h0M613.2 155.2h0M531.3 173.3h0M584.7 171.5h0M518.2 166.8h0M585.8 149.8h0M641.2 174.7h0M510.5 164.9h0M592.5 175.0h0M522.3 163.7h0M581.9 165.7h0M590.1 159.5h0M513.7 152.6h0M515.4 174.7h0M595.0 158.3h0M576.5 168.6h0M548.5 171.9h0M590.9 168.8h0M513.5 163.5h0M546.9 174.4h0M625.7 171.6h0M546.8 163.8h0M573.2 168.6h0M612.4 168.2h0M499.1 155.8h0M626.7 168.7h0M543.3 152.1h0M598.1 160.5h0M580.1 157.8h0M563.6 174.7h0M503.9 150.0h0M616.1 172.9h0M506.9 171.0h0M516.1 150.3h0M619.7 170.0h0M503.1 155.9h0M555.0 161.3h0M510.8 157.3h0M604.0 172.3h0M585.7 156.4h0M629.3 159.8h0M512.5 169.0h0M583.0 150.6h0M545.5 156.3h0M613.9 155.5h0M534.7 159.7h0M512.5 172.6h0M537.0 152.4h0M514.5 163.4h0M602.4 159.0h0M530.3 161.1h0M605.4 160.2h0M549.6 169.3h0M603.1 166.5h0M542.1 160.3h0M633.6 173.2h0M606.7 166.3h0M579.0 139.6h0M546.5 141.9h0M500.1 129.6h0M510.1 133.7h0M597.9 134.4h0M550.0 136.7h0M566.9 145.6h0M533.8 128.7h0M491.8 143.0h0M497.6 128.5h0M543.4 133.7h0M607.1 140.9h0M539.5 134.3h0M503.9 130.1h0M568.1 127.5h0M596.1 131.7h0M597.4 137.5h0M577.9 135.6h0M541.7 134.5h0M593.9 148.7h0M566.0 140.8h0M608.4 148.4h0M570.8 148.7h0M517.8 138.7h0M574.1 135.7h0M575.3 135.0h0M614.7 148.8h0M555.0 146.3h0M527.5 144.1h0M501.2 134.0h0M534.6 137.5h0M507.8 140.5h0M579.5 134.5h0M510.4 142.4h0M594.3 137.7h0M564.8 137.8h0M522.4 135.2h0M550.4 138.3h0M512.5 133.2h0M507.8 134.6h0M557.0 135.1h0M537.8 122.9h0M534.9 132.1h0M537.6 132.5h0M529.3 129.1h0M575.9 146.6h0M538.0 132.7h0M515.2 133.9h0M504.7 140.8h0M545.7 145.7h0M587.5 134.0h0M565.2 137.2h0M578.2 137.5h0M603.1 148.1h0M571.4 133.0h0M586.0 143.1h0M553.7 133.4h0M527.6 125.0h0M583.2 138.5h0M581.2 145.1h0M561.1 134.1h0M533.1 129.0h0M520.1 146.8h0M508.9 147.0h0M626.1 179.5h0M638.5 174.5h0M606.5 167.5h0M637.8 189.9h0M636.0 166.5h0M624.7 180.0h0M612.3 174.3h0M629.0 177.4h0M634.1 179.4h0M614.1 171.0h0M639.5 173.1h0M641.8 185.4h0M653.3 187.1h0M637.5 172.3h0M601.9 164.8h0M649.9 179.8h0M622.1 187.3h0M644.6 180.9h0M641.4 189.2h0M637.4 171.7h0M615.3 173.4h0M604.8 163.3h0M611.5 179.1h0M631.4 176.1h0M637.5 171.6h0M610.2 177.3h0M608.5 166.2h0M634.5 167.6h0M632.7 171.3h0M640.9 169.0h0M619.5 174.1h0M617.4 180.5h0M636.4 172.9h0M628.8 178.1h0M637.6 185.5h0M617.7 165.7h0M606.6 170.1h0M622.0 170.8h0M640.4 190.0h0M643.3 182.6h0M623.1 175.8h0M642.3 182.0h0M631.0 184.7h0M629.5 170.0h0M611.6 162.8h0M642.7 175.3h0M625.7 179.4h0M613.2 133.4h0M625.4 145.7h0M609.8 136.2h0M633.6 148.9h0M627.3 138.4h0M606.0 137.0h0M667.2 149.8h0M645.9 135.5h0M666.8 150.3h0M612.4 140.1h0M627.3 142.1h0M656.6 150.9h0M653.5 133.8h0M646.9 142.9h0M628.7 156.9h0M626.6 132.9h0M660.8 156.6h0M665.1 147.8h0M610.2 140.6h0M670.8 154.4h0M638.7 142.2h0M621.9 135.5h0M624.5 134.7h0M642.6 144.5h0M632.0 148.4h0M647.6 149.5h0M655.1 143.6h0M626.8 144.9h0M663.5 152.3h0M616.9 138.8h0M669.6 147.2h0M654.4 146.0h0M631.6 136.4h0M639.1 133.8h0M668.6 148.9h0M670.5 142.4h0M639.5 143.7h0M663.0 142.8h0M623.6 145.2h0M627.8 142.8h0M624.7 152.4h0M673.6 153.2h0M606.0 131.1h0M624.5 133.5h0M625.9 155.1h0M636.5 134.3h0M506.7 182.9h0M516.6 195.2h0M490.7 203.5h0M512.3 190.0h0M499.7 195.5h0M532.0 194.3h0M560.4 203.7h0M495.1 175.5h0M543.9 197.8h0M500.7 202.8h0M491.2 189.4h0M536.2 186.5h0M555.1 183.0h0M509.2 206.2h0M561.1 196.8h0M509.3 205.0h0M523.5 178.0h0M503.9 203.9h0M521.4 201.0h0M511.1 190.0h0M518.3 188.4h0M487.8 178.1h0M482.9 180.7h0M496.8 182.2h0M541.3 192.6h0M504.3 176.5h0M507.5 179.1h0M544.9 185.5h0M533.8 201.8h0M510.7 198.7h0M487.6 196.2h0M530.8 189.2h0M508.2 191.1h0M550.8 182.7h0M535.0 196.8h0M508.4 195.2h0M497.6 194.8h0M508.6 199.8h0M556.0 203.4h0M514.6 188.6h0M528.9 189.3h0M550.9 182.9h0M506.3 180.7h0M551.1 177.0h0M536.3 180.1h0M516.7 191.2h0M534.4 205.6h0M526.4 183.7h0M499.2 196.7h0M543.1 202.4h0M510.0 195.3h0M508.4 185.5h0M547.8 188.5h0M529.5 177.2h0M517.5 195.8h0M550.5 194.6h0M512.8 184.2h0M503.0 204.4h0M531.1 185.5h0M499.9 192.8h0M529.8 191.2h0M510.9 178.1h0M516.0 188.2h0M489.2 193.7h0M553.8 194.7h0M488.5 180.6h0M544.6 181.5h0M499.1 189.5h0M544.2 201.9h0M518.6 187.3h0M520.3 202.6h0M516.5 204.2h0M548.2 201.2h0M549.6 177.5h0M557.5 204.7h0M495.9 191.2h0M562.0 197.8h0M537.4 179.5h0M498.2 194.0h0M555.0 205.0h0M521.8 189.0h0M498.9 190.4h0M513.1 196.1h0M516.7 186.2h0M492.1 176.0h0M499.7 190.6h0M530.6 194.9h0M528.8 179.5h0M511.6 188.5h0M486.3 175.4h0M499.3 176.6h0M493.9 176.6h0M508.3 177.0h0M541.5 201.4h0M557.2 187.3h0M529.9 185.2h0M548.9 188.0h0M523.9 186.6h0M496.6 181.1h0M557.3 205.9h0M499.1 179.0h0M512.3 181.0h0M496.9 205.3h0M521.9 185.2h0M521.4 181.1h0M521.6 182.7h0M550.0 179.8h0M505.2 202.5h0M505.0 201.8h0M526.8 198.2h0M520.0 188.0h0M536.0 175.6h0M505.9 176.5h0M538.2 177.6h0M520.2 193.7h0M514.9 194.0h0M512.1 195.8h0M557.9 199.2h0M553.9 185.1h0M531.3 176.2h0M522.2 196.3h0M505.2 200.7h0M507.7 198.7h0M493.2 177.6h0M546.1 184.3h0M484.9 197.7h0M518.7 181.3h0M540.6 179.6h0M493.2 181.0h0M519.5 181.7h0M524.0 176.6h0M529.3 177.7h0M536.7 182.7h0M560.5 198.3h0M509.9 177.2h0M548.1 192.7h0M521.4 204.9h0M540.7 188.5h0M554.5 201.2h0M520.4 187.5h0M553.6 190.2h0M541.7 198.6h0M504.7 205.9h0M551.1 187.3h0M535.6 189.5h0M488.9 178.1h0M549.5 194.0h0M540.6 205.4h0M556.6 200.9h0M558.4 189.8h0M523.9 178.7h0M536.0 187.4h0M507.3 192.6h0M506.4 195.0h0M551.2 195.0h0M530.7 198.1h0M508.4 192.5h0M537.2 202.9h0M559.0 202.2h0M548.5 200.6h0M498.1 205.9h0M504.5 188.9h0M481.4 178.1h0M554.2 184.7h0M519.4 204.1h0M509.8 197.8h0M518.5 206.2h0M546.2 175.7h0M539.4 180.9h0M540.9 188.6h0M497.9 189.8h0M516.1 205.5h0M528.1 191.0h0M536.6 195.2h0M494.7 178.5h0M536.3 189.4h0M493.9 190.8h0M485.4 179.8h0M597.8 203.1h0M576.6 185.2h0M624.6 192.2h0M591.9 191.3h0M588.6 182.9h0M609.9 193.3h0M591.4 187.5h0M571.8 195.0h0M564.3 192.7h0M615.4 179.8h0M595.7 202.7h0M602.7 196.2h0M597.2 182.4h0M604.9 183.1h0M617.1 191.9h0M581.8 198.8h0M607.4 203.9h0M622.8 202.6h0M589.0 180.1h0M589.6 178.1h0M606.4 198.7h0M605.1 190.2h0M611.7 198.5h0M568.9 184.1h0M614.5 175.6h0M600.5 198.8h0M606.0 194.2h0M567.0 188.7h0M606.4 202.9h0M577.7 195.4h0M560.1 175.4h0M608.0 188.8h0M586.2 175.4h0M612.6 188.1h0M571.6 193.8h0M570.6 194.0h0M563.4 194.2h0M591.0 178.8h0M599.9 192.8h0M566.2 177.4h0M559.5 182.9h0M555.7 180.9h0M568.0 202.9h0M593.9 180.3h0M587.9 186.0h0M580.6 190.0h0M581.5 187.5h0M575.1 179.7h0M558.9 186.0h0M611.8 187.2h0M620.9 186.9h0M617.0 178.2h0M607.4 180.2h0M625.7 200.7h0M624.0 193.3h0M587.9 199.3h0M570.1 191.3h0M595.0 178.9h0M585.0 203.4h0M579.1 188.3h0M602.7 188.2h0M561.0 186.3h0M607.4 186.6h0M560.5 176.7h0M618.7 183.2h0M578.5 196.8h0M590.2 203.4h0M561.7 195.8h0M595.1 199.1h0M583.5 202.2h0M575.5 193.6h0M612.3 176.8h0M602.5 181.7h0M626.4 194.3h0M587.4 195.9h0M619.4 197.1h0M584.4 192.3h0M615.0 187.7h0M586.2 187.6h0M580.5 190.5h0M611.4 180.4h0M608.8 186.8h0M573.6 179.5h0M564.4 200.6h0M578.6 178.5h0M571.5 190.2h0M590.1 197.4h0M557.4 177.6h0M579.8 175.1h0M603.6 189.8h0M583.3 196.3h0M622.2 192.8h0M567.5 188.3h0M585.5 200.3h0M589.9 188.9h0M597.9 200.4h0M583.8 177.9h0M562.6 192.7h0M627.6 197.2h0M582.4 201.3h0M584.4 193.9h0M562.0 187.1h0M587.4 182.6h0M610.6 201.5h0M576.8 182.1h0M567.0 177.0h0M624.7 194.8h0M569.7 200.4h0M592.5 200.0h0M590.8 192.9h0M569.7 202.2h0M610.3 183.4h0M615.3 185.0h0M564.7 189.1h0M599.6 196.6h0M618.2 197.1h0M606.9 191.9h0M568.3 199.8h0M597.9 202.6h0M613.2 201.1h0M594.4 181.4h0M563.5 178.8h0M565.2 198.4h0M610.0 185.3h0M593.4 175.6h0M583.5 182.4h0M582.8 191.7h0M602.3 203.1h0M603.3 199.9h0M618.0 203.9h0M614.8 197.0h0M576.8 203.3h0M570.2 200.1h0M622.8 191.2h0M615.7 201.2h0M597.5 184.3h0M608.3 183.9h0M613.8 185.3h0M588.5 190.0h0M599.6 203.2h0M596.2 188.7h0M579.8 203.9h0M593.6 180.2h0M577.3 175.4h0M614.9 191.1h0M587.7 200.6h0M560.0 182.9h0M564.3 194.4h0M589.8 194.2h0M587.7 197.4h0M604.7 192.1h0M607.6 199.5h0M592.2 176.6h0M583.7 180.3h0M570.0 176.9h0M599.2 189.2h0M605.0 175.4h0M604.1 189.5h0M581.9 198.7h0M623.9 198.7h0M624.5 199.3h0M567.9 180.2h0M617.0 193.3h0M586.6 183.7h0M593.5 182.1h0M593.0 202.0h0M592.3 175.9h0M594.7 196.5h0M599.8 201.1h0M609.7 203.7h0M578.8 184.3h0M571.9 178.7h0M595.6 199.0h0M580.5 185.2h0M612.9 179.4h0M565.1 185.6h0M575.7 184.1h0M601.4 202.7h0M616.6 185.6h0M590.6 182.5h0M572.9 193.7h0M595.5 193.8h0M601.8 177.7h0M573.1 188.7h0M562.0 177.7h0M574.6 177.9h0M579.4 179.1h0M612.4 196.0h0M576.5 188.8h0M605.0 178.4h0M619.4 201.0h0M609.5 199.4h0M614.1 185.6h0M580.8 203.2h0M581.1 193.9h0M587.8 180.8h0M603.6 176.0h0M584.4 179.3h0M593.5 203.7h0M617.7 180.0h0M577.1 185.4h0M604.3 203.3h0M593.9 203.7h0M599.5 198.8h0M620.9 195.1h0M612.7 188.1h0M618.7 195.7h0M560.7 175.4h0M581.3 198.7h0M589.4 198.7h0M589.1 179.1h0M615.7 189.2h0M558.5 185.2h0M576.1 199.5h0M581.1 195.4h0M586.3 181.4h0M580.6 178.1h0M571.5 203.2h0M586.7 201.2h0M564.3 175.2h0M616.3 185.9h0M596.9 185.9h0M567.4 196.2h0M586.0 184.6h0M602.0 187.2h0M605.8 202.6h0M563.8 198.6h0M572.8 197.5h0M613.4 180.4h0M579.3 179.6h0M619.7 191.1h0M580.3 196.7h0M574.3 201.9h0M579.2 188.0h0M573.9 181.9h0M580.8 203.9h0M600.6 179.1h0M587.6 198.5h0M619.0 181.6h0M578.5 178.9h0M624.7 203.1h0M564.7 190.0h0M573.7 197.0h0M556.7 179.8h0M599.2 200.8h0M603.3 201.3h0M582.5 191.4h0M587.4 177.1h0M581.7 181.3h0M613.1 189.3h0M609.8 195.9h0M557.7 179.5h0M621.7 202.7h0M578.1 200.9h0M621.9 188.3h0M606.0 194.2h0M603.3 184.9h0M612.6 180.5h0M568.8 187.3h0M572.2 200.3h0M568.1 193.6h0M601.1 191.0h0M623.9 194.1h0M558.8 182.3h0M586.8 189.6h0M568.4 192.9h0M568.4 198.4h0M591.0 199.3h0M577.0 187.6h0M627.2 198.0h0M567.9 178.6h0M568.2 196.7h0M623.8 193.3h0M581.1 183.1h0M570.7 180.6h0M613.7 181.3h0M601.4 198.3h0M608.5 181.2h0M576.6 185.6h0M613.4 189.5h0M582.5 180.1h0M573.4 203.1h0M594.8 194.5h0M591.2 186.6h0M577.9 179.1h0M569.8 182.4h0M576.8 177.1h0M600.1 190.8h0M588.4 189.1h0M557.7 209.3h0M560.9 225.8h0M562.0 216.6h0M565.2 204.4h0M571.4 211.8h0M566.9 226.2h0M584.4 225.2h0M566.5 212.6h0M573.1 216.7h0M584.6 209.8h0M548.4 210.2h0M558.5 214.3h0M586.5 224.4h0M560.5 215.3h0M550.9 220.8h0M585.7 220.8h0M582.6 221.1h0M595.9 218.5h0M607.0 212.8h0M604.6 215.3h0M608.8 212.6h0M628.5 210.8h0M595.5 208.4h0M628.2 209.8h0M609.8 215.7h0M625.6 215.0h0M623.0 211.2h0M618.8 223.3h0M628.2 218.3h0M615.6 224.4h0M600.3 223.0h0M633.1 218.5h0M598.2 212.4h0M627.1 226.5h0M604.4 214.7h0M613.6 208.7h0M633.8 225.1h0M609.2 222.5h0M632.9 220.1h0M602.8 226.4h0M610.1 205.8h0M612.5 220.6h0M604.8 210.0h0M616.4 219.0h0M603.6 215.3h0M612.9 212.2h0M610.3 210.4h0M621.6 213.1h0M608.3 207.8h0M607.0 206.6h0M617.9 204.4h0M629.7 224.0h0M632.2 215.2h0M604.6 222.7h0M624.6 208.5h0M610.8 208.7h0M609.2 210.4h0M599.1 204.3h0M628.1 205.6h0M604.9 206.7h0M608.3 214.6h0M619.4 221.7h0M614.7 223.0h0M613.4 206.4h0M610.9 208.5h0M623.1 219.5h0M595.8 206.1h0M623.8 212.3h0M594.6 207.9h0M631.1 223.9h0M599.5 214.2h0M607.3 213.8h0M635.5 220.0h0M626.4 225.9h0M599.3 215.1h0M614.8 214.1h0M618.9 226.1h0M602.8 223.1h0M626.5 217.6h0M634.4 226.1h0M623.1 222.9h0M627.1 218.6h0M601.4 215.2h0M621.7 223.6h0M630.4 218.4h0M601.0 218.5h0M627.4 226.4h0M602.6 223.7h0M615.3 216.4h0M599.2 214.6h0M631.5 218.4h0M607.5 206.9h0M611.0 220.9h0M625.7 223.3h0M603.3 209.8h0M599.2 213.5h0M624.3 215.6h0M603.0 207.4h0M598.2 211.1h0M616.1 224.6h0M622.2 215.6h0M602.0 217.2h0M633.5 222.8h0M624.0 206.9h0M622.5 206.3h0M607.9 206.6h0M603.4 210.7h0M619.3 211.9h0M631.1 226.2h0M610.0 221.2h0M598.0 232.3h0M601.8 232.8h0M588.3 211.5h0M600.1 230.5h0M600.2 212.9h0M603.5 222.6h0M599.7 214.9h0M597.8 222.6h0M599.2 231.3h0M599.7 215.6h0M590.2 212.5h0M597.0 222.2h0M593.8 209.6h0M591.9 218.7h0M597.7 207.6h0M587.5 210.0h0M591.2 224.4h0M595.2 221.1h0M591.7 231.6h0M590.6 211.2h0M601.4 216.5h0M592.4 223.2h0M597.2 232.6h0M608.3 234.4h0M594.8 229.7h0M602.1 232.1h0M601.8 229.5h0M608.8 229.1h0M596.8 235.2h0M612.1 235.4h0M593.5 232.9h0M611.5 235.9h0M596.7 232.7h0M614.1 240.2h0M623.2 230.0h0M598.7 231.2h0M617.8 232.9h0M603.8 236.4h0M595.4 228.8h0M612.4 233.9h0M599.7 229.7h0M606.7 228.4h0M598.8 228.3h0M611.1 232.0h0M606.4 235.2h0M620.9 227.9h0M590.8 230.5h0M622.5 236.9h0M621.8 227.3h0M604.0 231.2h0M632.6 231.6h0M614.2 227.8h0M600.9 230.0h0M622.9 234.2h0M622.3 232.8h0M597.9 232.0h0M601.6 227.7h0M598.0 231.5h0M602.8 227.1h0M615.9 233.6h0M628.2 229.1h0M607.8 231.2h0M618.7 227.2h0M596.3 235.3h0M610.9 228.0h0M618.8 228.8h0M608.2 237.9h0M602.6 227.3h0M629.8 230.7h0M603.7 234.0h0M624.3 235.7h0M622.0 233.9h0M602.0 238.4h0M624.1 237.8h0M594.3 235.0h0M626.6 230.8h0M620.9 231.8h0M615.1 235.5h0M624.2 233.7h0M630.2 233.0h0M596.9 227.3h0M619.9 239.8h0M606.9 228.0h0M597.7 227.8h0M600.1 231.2h0M593.9 236.3h0M621.9 238.5h0M615.7 231.6h0M610.6 234.6h0M612.0 232.1h0M616.7 234.4h0M632.3 229.3h0M626.8 234.6h0M610.2 233.2h0M594.3 238.0h0M610.1 235.5h0M617.7 236.2h0M597.6 227.4h0M626.2 231.7h0M592.3 231.2h0M601.9 237.0h0M597.0 232.0h0M611.4 235.0h0M597.0 235.6h0M612.0 232.8h0M599.5 236.8h0M612.1 235.0h0M594.2 230.4h0M625.0 233.1h0M613.0 239.8h0M602.4 228.0h0M609.8 226.7h0M607.8 235.9h0M593.9 226.8h0M624.4 237.3h0M606.1 227.7h0M603.0 232.7h0M627.2 227.6h0M621.6 236.2h0M626.4 231.4h0M609.9 227.0h0M606.5 229.7h0M596.9 228.9h0M656.4 211.6h0M658.2 205.0h0M629.2 195.8h0M637.6 189.3h0M630.9 197.6h0M637.4 204.5h0M654.4 191.4h0M654.9 192.9h0M629.9 188.6h0M628.6 192.4h0M634.1 202.8h0M628.3 185.7h0M622.7 185.1h0M658.9 201.0h0M639.1 205.3h0M655.9 185.8h0M661.8 204.7h0M653.5 213.7h0M660.5 199.8h0M659.4 202.0h0M639.6 203.0h0M637.6 190.4h0M628.2 192.1h0M540.7 222.2h0M559.7 269.4h0M567.2 221.5h0M556.8 248.5h0M555.2 269.5h0M557.9 245.7h0M535.6 220.4h0M540.9 236.9h0M540.0 220.4h0M537.7 220.6h0M559.3 226.4h0M541.0 223.4h0M570.5 240.7h0M562.1 237.0h0M536.2 232.6h0M553.2 267.8h0M538.9 220.4h0M537.5 224.7h0M558.7 259.4h0M550.5 223.1h0M548.8 255.7h0M563.6 271.4h0M548.3 226.0h0M552.2 267.7h0M563.1 239.5h0M540.8 240.6h0M545.3 244.5h0M567.1 233.9h0M557.7 247.0h0M532.0 221.7h0M570.5 237.1h0M558.0 262.9h0M557.2 241.4h0M545.3 246.1h0M555.1 250.4h0M573.6 237.1h0M555.7 245.8h0M567.6 221.3h0M555.8 269.3h0M546.3 239.3h0M557.9 260.9h0M558.6 230.5h0M557.8 260.0h0M538.5 231.8h0M550.2 221.4h0M558.6 236.4h0M551.1 243.6h0M566.0 233.5h0M555.5 222.9h0M538.3 220.1h0M555.9 225.6h0M561.7 274.0h0M564.2 228.0h0M533.1 222.6h0M582.6 242.4h0M574.2 228.5h0M585.3 238.9h0M585.9 226.3h0M589.5 241.9h0M581.5 230.3h0M584.6 224.5h0M579.1 237.0h0M573.0 235.8h0M576.6 231.9h0M583.5 240.2h0M575.4 238.4h0M589.7 229.2h0M584.5 241.0h0M533.4 220.7h0M517.2 230.6h0M498.7 213.7h0M504.3 222.8h0M505.2 225.0h0M520.8 216.9h0M530.1 226.1h0M504.5 221.6h0M485.4 221.0h0M508.8 210.9h0M540.8 233.2h0M525.4 221.8h0M492.0 217.6h0M529.4 231.4h0M509.2 204.7h0M488.8 203.6h0M516.2 205.6h0M540.3 227.0h0M523.5 212.9h0M494.0 206.0h0M525.9 229.9h0M517.3 215.9h0M539.1 216.6h0M509.8 217.5h0M533.5 217.8h0M506.4 215.1h0M524.7 204.6h0M495.5 216.0h0M545.5 230.9h0M496.9 215.8h0M498.8 232.8h0M490.2 214.4h0M488.7 221.0h0M494.6 204.0h0M519.1 217.4h0M491.6 231.6h0M518.4 227.9h0M485.9 219.0h0M486.5 222.1h0M507.9 205.3h0M507.3 210.0h0M506.7 225.2h0M485.9 202.2h0M486.2 209.9h0M533.1 222.9h0M505.1 202.8h0M485.7 224.9h0M517.7 206.1h0M523.1 228.1h0M540.7 226.2h0M506.8 204.2h0M534.7 222.3h0M539.3 219.5h0M495.9 213.9h0M524.5 217.6h0M524.3 230.3h0M492.3 204.4h0M512.9 222.4h0M536.8 224.0h0M543.3 221.6h0M487.1 205.4h0M487.7 210.2h0M484.6 209.9h0M468.3 215.3h0M490.9 213.4h0M478.5 218.5h0M482.5 210.4h0M492.3 207.0h0M478.4 207.8h0M472.6 212.7h0M479.6 213.0h0M469.4 218.2h0M488.4 219.8h0M482.9 219.5h0M475.0 217.5h0M487.2 214.7h0M474.7 208.1h0M488.5 208.4h0M480.6 260.3h0M491.4 250.0h0M515.2 225.1h0M501.1 240.4h0M484.7 233.2h0M482.2 229.2h0M510.4 240.6h0M488.7 241.2h0M609.4 248.7h0M603.9 245.2h0M586.0 246.8h0M589.1 246.2h0M588.9 244.0h0M599.9 247.3h0M616.4 255.3h0M610.4 260.2h0M591.8 242.4h0M616.3 253.8h0M587.1 244.8h0M593.4 241.2h0M605.0 246.6h0M604.4 255.7h0M599.4 282.6h0M639.5 291.3h0M600.2 284.2h0M639.6 311.7h0M672.8 295.9h0M628.4 285.3h0M624.7 292.1h0M675.2 301.0h0M598.5 279.5h0M641.8 286.0h0M674.9 306.6h0M620.1 291.7h0M624.1 292.8h0M647.5 287.7h0M641.6 287.0h0M600.2 277.8h0M640.4 295.2h0M678.4 295.8h0M651.4 275.3h0M595.1 285.6h0M593.2 276.1h0M678.9 307.6h0M638.3 298.7h0M640.8 306.7h0M679.5 301.4h0M646.6 286.5h0M648.4 284.3h0M657.6 295.5h0M643.8 306.2h0M628.0 277.8h0M603.3 273.4h0M646.0 296.6h0M637.5 293.9h0M602.9 274.7h0M642.3 298.9h0M626.4 282.9h0M683.4 295.9h0M631.7 293.4h0M596.7 286.2h0M620.2 290.7h0M639.4 245.5h0M640.7 245.6h0M639.4 257.1h0M648.6 267.0h0M639.9 252.1h0M412.1 216.5h0M397.1 213.8h0M410.9 208.6h0M381.7 217.1h0M402.0 215.5h0M399.3 203.5h0M419.0 212.3h0M400.1 218.1h0M409.9 209.6h0M414.0 214.8h0M389.4 208.4h0M393.6 214.2h0M420.6 209.7h0M387.4 213.8h0M405.9 205.5h0M384.6 216.1h0M402.9 212.8h0M405.5 212.1h0M391.7 203.7h0M398.5 203.8h0M396.7 211.7h0M387.4 209.4h0M403.7 207.6h0M385.3 212.8h0M416.5 217.6h0M406.7 213.4h0M387.1 213.6h0M384.6 213.4h0M402.6 217.2h0M420.3 214.9h0M397.6 215.4h0M398.2 208.0h0M411.1 212.8h0M414.1 214.6h0M389.1 215.7h0M388.1 213.1h0M393.1 210.3h0M419.2 215.3h0M398.8 213.4h0M406.2 212.0h0M384.0 212.4h0M411.4 208.4h0M407.7 214.5h0M414.8 206.4h0M405.2 212.8h0M404.7 212.1h0M392.5 204.4h0M394.8 218.0h0M406.0 210.5h0M394.8 218.5h0M390.0 210.3h0M403.7 205.2h0M390.5 206.1h0M415.7 218.2h0M407.8 206.1h0M413.6 218.5h0M419.0 207.6h0M413.4 216.2h0M403.8 212.8h0M389.6 208.5h0M416.1 216.3h0M405.3 218.3h0M410.7 217.2h0M391.8 218.6h0M419.6 205.7h0M415.4 212.6h0M386.1 211.2h0M412.7 216.7h0M398.4 214.3h0M401.5 211.5h0M412.5 206.6h0M411.9 204.5h0M414.2 206.8h0M382.6 213.4h0M407.4 203.4h0M383.2 215.1h0M395.5 215.3h0M402.3 215.6h0M415.3 216.8h0M381.2 217.6h0M399.1 217.6h0M389.4 216.5h0M393.8 209.1h0M382.3 216.6h0M397.6 205.0h0M385.8 214.3h0M413.1 209.0h0M391.9 206.8h0M413.3 217.1h0M410.4 206.6h0M388.3 208.0h0M418.9 208.1h0M394.3 217.8h0M407.8 206.9h0M413.1 207.5h0M410.9 206.0h0M385.8 211.4h0M392.3 203.2h0M416.2 217.5h0M390.5 217.2h0M407.6 203.5h0M403.7 209.8h0M404.2 214.9h0M413.8 203.7h0M399.4 209.2h0M413.5 208.1h0M415.2 209.9h0M388.8 208.3h0M393.8 201.9h0M405.4 216.2h0M427.6 218.9h0M411.0 208.8h0M408.3 211.5h0M453.5 200.1h0M401.9 220.7h0M423.8 222.0h0M386.4 200.3h0M469.6 222.5h0M456.0 218.2h0M450.4 226.7h0M457.3 221.5h0M393.6 200.3h0M464.9 226.0h0M467.9 209.0h0M414.6 204.0h0M441.0 200.4h0M443.4 204.6h0M403.5 226.6h0M442.8 206.4h0M455.3 217.6h0M463.1 207.1h0M426.8 212.9h0M396.8 208.2h0M447.7 219.0h0M451.0 223.9h0M464.7 206.3h0M439.8 213.0h0M465.0 223.4h0M419.6 208.1h0M467.9 208.1h0M418.6 207.1h0M451.5 221.7h0M410.7 209.0h0M458.5 225.7h0M409.1 211.1h0M436.8 224.4h0M390.8 206.8h0M402.9 207.9h0M465.5 226.3h0M455.4 219.8h0M434.6 222.3h0M378.1 224.1h0M417.3 221.8h0M405.2 205.1h0M410.8 221.2h0M412.8 226.0h0M446.6 226.0h0M381.8 234.8h0M470.0 238.5h0M445.2 236.3h0M422.4 247.8h0M388.8 245.0h0M443.2 234.0h0M395.2 236.8h0M444.9 245.9h0M375.2 240.2h0M374.5 245.4h0M409.4 244.9h0M426.2 231.8h0M417.6 231.7h0M463.3 237.7h0M465.0 239.3h0M446.0 241.4h0M427.2 224.0h0M461.6 248.7h0M466.8 236.8h0M392.0 247.3h0M381.4 258.1h0M375.3 260.2h0M386.2 256.7h0M378.7 251.4h0M371.8 261.0h0M387.6 253.1h0M387.8 262.5h0M375.3 252.8h0M388.3 263.2h0M372.5 254.1h0M371.5 259.3h0M374.8 264.4h0M391.5 261.4h0M426.5 263.5h0M410.3 259.2h0M429.0 269.6h0M412.6 266.5h0M398.2 263.7h0M427.7 254.3h0M411.9 259.2h0M395.5 269.4h0M395.5 259.4h0M407.3 261.3h0M427.6 260.8h0M400.0 257.8h0M397.6 259.5h0M402.6 267.0h0M421.2 264.6h0M394.3 265.3h0M420.8 277.1h0M429.7 259.3h0M398.4 262.4h0M419.3 277.6h0M394.7 273.4h0M390.4 266.9h0M422.1 258.3h0M413.4 259.6h0M413.8 272.6h0M410.1 256.3h0M423.3 276.1h0M426.8 271.2h0M409.8 269.0h0M404.1 273.5h0M453.1 303.7h0M446.6 294.8h0M445.0 312.8h0M456.6 311.8h0M495.2 269.9h0M469.7 266.2h0M454.3 257.3h0M495.0 270.1h0M473.8 296.8h0M458.2 299.6h0M469.2 279.0h0M465.6 308.9h0M458.2 289.9h0M477.0 304.3h0M462.1 279.3h0M480.2 284.2h0M479.1 283.7h0M474.4 309.5h0M483.7 283.2h0M461.7 295.6h0M479.0 281.5h0M478.5 288.9h0M473.5 302.9h0M473.5 283.5h0M476.4 311.2h0M459.2 300.9h0M469.7 295.7h0M465.4 280.6h0M473.2 289.8h0M460.5 279.9h0M448.4 328.7h0M456.9 318.2h0M450.8 352.9h0M467.2 341.4h0M466.0 331.2h0M444.1 336.6h0M429.9 317.4h0M449.3 343.0h0M450.3 320.3h0M460.8 346.2h0M451.4 358.7h0M435.4 331.9h0M453.2 351.9h0M427.3 331.0h0M447.2 358.6h0M462.0 326.5h0M462.8 321.7h0M471.9 328.9h0M431.6 333.3h0M454.2 356.8h0M476.8 326.2h0M476.6 320.9h0M444.7 351.0h0M460.6 330.0h0M437.6 321.5h0M429.4 321.8h0M471.2 326.7h0M441.9 357.3h0M451.8 339.0h0M469.2 327.1h0M458.8 324.4h0M437.2 320.9h0M464.8 334.0h0M436.5 351.0h0M443.9 354.3h0M481.0 322.0h0M478.6 325.9h0M442.8 319.0h0M467.9 326.0h0M431.9 350.2h0M442.3 343.5h0M453.1 320.8h0M433.7 336.8h0M457.0 349.0h0M423.4 321.3h0M456.3 341.1h0M443.0 352.6h0M472.3 330.4h0M456.7 344.7h0M445.4 333.2h0M440.0 349.3h0M440.8 360.6h0M448.3 327.6h0M442.0 318.4h0M432.9 354.3h0M448.9 342.9h0M429.1 335.7h0M464.6 313.5h0M457.0 313.4h0M432.7 314.1h0M451.0 347.9h0M479.1 320.0h0M427.8 335.7h0M431.0 320.7h0M447.9 312.8h0M456.8 338.1h0M468.7 325.2h0M461.2 336.8h0M452.0 327.2h0M452.9 319.0h0M463.9 313.5h0M492.4 327.1h0M627.0 364.3h0M629.4 354.5h0M619.3 363.0h0M619.9 366.6h0M631.7 350.8h0M628.5 360.0h0M626.1 354.5h0M637.7 342.2h0M622.6 343.2h0M628.5 344.8h0M635.4 340.0h0M630.8 335.4h0M663.4 328.6h0M663.4 316.1h0M661.7 315.5h0M670.9 328.2h0M655.7 327.6h0M654.8 324.3h0M643.2 334.0h0M638.2 337.3h0M657.4 341.6h0M653.3 337.9h0M651.9 354.2h0M670.4 335.6h0M665.0 339.9h0M648.8 336.9h0M666.6 348.1h0M657.0 335.5h0M640.4 328.7h0M670.3 337.0h0M660.5 352.9h0M652.3 352.8h0M678.3 349.2h0M671.6 345.5h0M685.9 336.7h0M682.7 327.1h0M672.5 334.3h0M678.8 324.5h0M672.5 350.4h0M673.5 334.2h0M674.3 348.8h0M678.0 326.4h0M681.4 330.2h0M689.1 333.5h0M696.5 343.9h0M685.6 354.3h0M691.1 344.8h0M685.8 341.1h0M696.5 348.6h0M685.7 331.3h0M681.7 359.1h0M662.7 356.5h0M675.3 357.5h0M677.6 364.9h0M673.3 357.5h0M667.6 354.0h0M671.8 355.8h0M683.0 356.9h0M695.3 352.5h0M669.2 366.2h0M659.8 361.2h0M662.7 375.1h0M671.4 371.2h0M677.5 353.8h0M661.6 357.3h0M686.3 351.6h0M689.5 362.7h0M694.6 353.2h0M686.7 354.8h0M681.0 360.1h0M675.7 367.1h0M668.3 359.4h0M679.3 368.4h0M685.4 366.2h0M676.6 351.8h0M634.3 361.5h0M644.6 360.4h0M646.1 357.6h0M656.6 360.4h0M664.6 380.1h0M668.6 385.1h0M725.4 373.9h0M732.0 372.4h0M704.0 388.6h0M729.3 376.5h0M729.7 376.2h0M722.6 381.0h0M701.0 389.5h0M715.8 381.3h0M306.3 119.8h0M314.3 118.2h0M324.1 112.2h0M327.9 114.6h0M332.8 111.3h0M340.1 112.9h0M354.8 110.6h0M371.1 111.3h0M375.3 112.1h0M380.3 114.1h0M384.0 114.7h0M371.2 122.0h0M372.3 126.7h0M369.5 128.6h0M363.6 134.5h0M356.5 138.0h0M352.8 137.5h0M345.7 142.4h0M344.5 146.4h0M336.9 145.2h0M335.4 148.0h0M327.3 154.2h0M323.1 150.0h0M321.7 144.5h0M322.0 130.6h0M322.8 125.9h0M318.0 122.9h0M313.5 124.4h0M306.8 120.6h0M372.4 147.2h0M729.2 368.4h0M728.7 371.4h0M730.7 374.1h0M732.1 372.7h0M729.2 376.9h0M725.8 379.7h0M721.8 380.6h0M718.7 382.7h0M721.5 379.1h0M722.6 378.3h0M721.6 376.0h0M723.8 374.3h0M727.5 371.4h0M726.3 368.3h0M724.3 367.4h0M721.4 379.7h0M717.3 383.3h0M715.3 384.6h0M710.8 386.5h0M705.8 386.9h0M706.7 390.0h0M704.5 391.1h0M702.3 392.3h0M697.6 392.8h0M697.2 393.7h0M699.4 389.1h0M702.4 387.7h0M702.6 387.3h0M707.7 385.0h0M709.4 384.1h0M714.6 382.4h0M717.7 381.3h0M413.9 119.1h0M425.7 122.5h0M430.1 117.7h0M432.4 117.2h0M424.0 115.3h0M473.7 125.5h0M481.7 125.4h0M474.5 131.1h0M521.6 118.6h0M527.8 117.4h0M522.9 115.1h0M522.6 119.4h0M592.4 123.2h0M586.9 122.7h0M459.0 116.7h0M473.7 116.5h0M474.4 115.7h0M463.0 113.7h0M289.1 146.6h0M273.8 128.2h0M302.4 133.1h0M245.9 134.0h0M250.4 126.6h0M302.5 111.7h0M321.9 114.0h0M314.4 117.1h0M299.6 116.0h0M290.2 125.6h0M285.6 121.8h0M235.5 130.3h0M234.1 126.9h0M226.5 129.6h0M275.1 150.1h0M273.8 145.1h0M593.6 275.9h0M595.1 277.2h0M596.4 280.9h0M604.4 284.3h0M606.6 289.7h0M611.4 295.1h0M613.1 299.1h0M609.3 301.1h0M601.9 294.1h0M601.4 289.8h0M595.3 282.7h0M596.5 281.2h0M591.4 273.3h0M615.2 301.3h0M621.5 301.8h0M627.5 303.7h0M626.8 307.2h0M622.0 307.2h0M618.6 306.6h0M612.7 305.6h0M611.8 305.0h0M618.9 284.3h0M625.6 277.8h0M632.2 273.1h0M637.6 275.6h0M635.1 280.0h0M635.0 291.0h0M633.8 293.0h0M628.4 294.8h0M626.7 294.7h0M623.8 293.2h0M620.0 292.2h0M617.7 289.1h0M643.3 285.0h0M648.0 287.3h0M644.4 287.6h0M643.2 290.8h0M647.5 288.4h0M644.4 291.3h0M645.5 296.8h0M642.0 296.0h0M639.0 299.4h0M640.6 299.1h0M639.9 297.2h0M637.7 291.4h0M638.6 290.6h0M665.5 288.1h0M668.6 292.6h0M672.7 292.0h0M680.4 293.5h0M688.6 298.3h0M695.0 303.0h0M696.0 308.5h0M696.9 308.1h0M698.3 312.2h0M691.6 307.7h0M687.3 304.4h0M684.9 309.2h0M683.2 308.6h0M678.0 305.5h0M676.7 303.2h0M666.8 297.6h0M668.1 292.0h0M629.9 306.2h0M636.0 305.5h0M638.2 306.0h0M647.5 306.1h0M636.9 305.3h0M630.7 306.1h0M646.7 311.4h0M651.6 307.9h0M646.4 309.0h0M656.0 284.0h0M655.3 290.6h0M653.8 286.6h0M662.0 293.5h0M656.7 296.3h0M650.6 210.2h0M664.2 205.5h0M661.0 200.4h0M658.4 198.8h0M657.0 202.6h0M662.7 192.4h0M663.5 188.2h0M658.2 186.0h0M655.8 190.0h0M650.3 212.3h0M663.9 136.9h0M670.7 142.9h0M671.8 150.1h0M666.6 153.4h0M663.3 153.1h0M668.8 159.0h0M672.3 168.2h0M667.5 171.8h0M666.7 170.9h0M662.8 168.6h0M658.2 161.4h0M656.4 158.2h0M603.1 128.3h0M609.9 130.9h0M617.8 131.3h0M621.2 132.9h0M639.6 133.3h0M647.9 137.3h0M654.4 133.7h0M658.4 133.9h0M655.1 149.4h0M656.4 150.5h0M645.0 157.2h0M637.9 154.5h0M642.7 169.2h0M652.4 176.6h0M498.3 322.9h0M495.3 335.5h0M491.9 344.7h0M487.0 340.2h0M486.5 332.6h0M491.2 322.8h0M250.4 244.0h0M241.4 237.4h0M264.2 244.8h0M259.2 246.1h0M626.2 334.6h0M636.4 333.9h0M638.3 331.6h0M652.8 318.5h0M655.9 319.0h0M667.1 313.4h0M666.9 315.3h0M684.6 319.8h0M687.7 325.8h0M686.4 328.4h0M693.6 340.7h0M697.7 344.2h0M693.4 357.0h0M686.1 364.7h0M685.7 367.4h0M683.6 369.3h0M678.2 373.5h0M670.1 375.4h0M663.9 376.6h0M660.8 367.0h0M654.1 363.1h0M652.7 362.0h0M637.2 363.1h0M620.7 362.7h0M622.5 340.8h0M672.5 383.8h0M298.1 177.1h0M302.8 173.0h0M308.4 178.7h0M306.2 183.5h0M297.9 177.7h0M133.0 171.0h0M155.0 162.0h0M166.0 183.6h0M163.0 191.4h0M147.4 195.6h0M57.0 223.0h0M57.6 225.0h0M83.0 234.6h0M83.6 244.4h0M79.4 310.6h0M85.0 308.2h0M122.6 309.6h0M50.4 318.0h0M58.6 319.0h0M61.4 320.2h0M112.4 320.6h0M100.0 325.0h0M105.0 327.6h0M122.0 328.6h0M115.0 333.0h0M128.0 337.0h0M86.4 335.6h0M56.6 335.6h0M47.6 328.0h0M49.0 334.0h0M121.0 350.4h0M57.6 354.0h0M188.0 349.4h0M81.4 387.0h0M342.4 198.6h0M352.4 203.0h0M368.0 213.6h0M276.4 214.4h0M353.0 250.0h0M371.0 305.7h0M381.6 379.0h0M336.0 409.2h0M330.0 423.0h0M367.5 213.7h0M517.5 325.0h0M512.5 333.0h0M484.5 326.0h0M467.0 394.0h0M492.0 392.6h0M524.6 407.4h0M544.4 373.4h0M660.0 222.0h0M655.0 229.0h0M675.0 226.6h0M675.0 232.0h0M700.0 232.6h0M668.0 271.0h0M734.0 268.0h0M741.4 271.6h0M746.0 284.0h0M650.0 224.0h0M751.4 316.0h0M756.6 307.0h0M723.0 353.6h0M704.0 359.4h0M688.0 405.6h0M731.0 322.0h0M732.0 327.0h0M457.0 439.6h0M493.0 437.0h0M514.0 439.4h0M566.0 435.0h0M501.4 453.4h0M620.0 448.0h0M640.0 445.6h0M614.0 454.0h0M606.0 461.0h0M329.0 423.6h0M385.0 463.0h0M224.0 447.4h0M251.4 459.0h0M266.6 465.4h0M299.0 431.0h0M546.0 289.5h0M543.7 304.0h0M592.5 315.0h0M610.7 311.7h0M219.0 288.6h0M298.0 404.0h0M419.0 121.0h0M425.6 125.4h0M507.0 120.0h0M695.6 169.0h0M387.8 132.0h0M403.0 141.0h0M410.5 142.5h0M402.5 151.0h0" stroke="#999999" stroke-width="5.5" stroke-linecap="round" fill="none"/><path d="M188.9 178.3h0M188.8 216.4h0M179.9 181.3h0M192.9 213.1h0M201.9 207.0h0M182.9 198.4h0M209.2 210.6h0M214.6 186.7h0M218.2 186.0h0M214.3 199.7h0M180.3 201.1h0M198.6 216.0h0M178.3 186.6h0M199.8 183.6h0M187.9 179.3h0M209.3 180.5h0M190.3 204.7h0M212.0 196.7h0M173.4 202.6h0M188.0 201.9h0M193.3 215.8h0M181.2 208.3h0M208.6 199.8h0M179.1 188.9h0M199.7 198.3h0M197.4 184.8h0M203.6 209.5h0M175.3 197.7h0M192.5 209.2h0M183.5 212.8h0M191.8 184.5h0M207.6 198.2h0M183.8 194.0h0M208.2 190.4h0M173.8 195.9h0M180.8 202.4h0M181.2 182.8h0M186.2 199.0h0M208.3 204.4h0M214.1 187.8h0M193.6 192.0h0M198.6 200.5h0M204.8 180.0h0M190.5 205.9h0M172.0 207.4h0M272.8 190.9h0M227.3 192.0h0M216.2 221.1h0M256.3 191.4h0M267.9 178.4h0M247.7 194.6h0M228.3 195.4h0M252.3 186.4h0M265.2 196.7h0M225.1 208.8h0M240.5 211.5h0M233.9 215.6h0M246.4 178.8h0M243.8 185.9h0M229.4 187.7h0M229.0 193.6h0M215.4 201.1h0M279.5 181.3h0M269.7 184.2h0M252.8 194.7h0M261.0 193.3h0M242.0 223.0h0M243.0 184.2h0M237.5 198.2h0M209.7 214.8h0M240.1 199.7h0M208.8 221.3h0M230.2 200.2h0M271.8 188.3h0M245.9 191.7h0M253.7 206.7h0M258.3 182.5h0M210.8 229.6h0M277.9 185.7h0M210.4 212.3h0M226.3 188.6h0M209.7 221.6h0M228.1 207.7h0M249.1 185.1h0M246.0 207.2h0M265.0 187.6h0M249.1 180.0h0M283.5 178.5h0M248.3 186.7h0M227.2 199.0h0M225.5 191.4h0M229.9 204.2h0M271.2 185.4h0M240.4 213.5h0M252.3 210.3h0M251.8 201.2h0M243.5 181.7h0M252.6 187.6h0M259.7 199.2h0M257.5 191.4h0M215.3 213.1h0M270.8 188.7h0M208.3 224.2h0M244.7 178.2h0M265.3 187.3h0M261.9 179.8h0M282.4 179.9h0M264.2 182.8h0M246.0 207.7h0M222.8 197.0h0M217.2 198.5h0M272.3 173.3h0M183.4 175.5h0M257.7 167.8h0M293.5 164.9h0M250.8 175.4h0M271.0 176.2h0M239.0 176.2h0M180.1 175.0h0M199.6 172.7h0M287.2 173.2h0M287.2 164.3h0M239.1 172.7h0M271.1 176.5h0M198.2 171.1h0M257.2 169.5h0M296.9 170.8h0M183.8 172.6h0M273.7 173.4h0M239.4 170.4h0M288.3 173.4h0M268.4 174.9h0M187.8 173.4h0M288.5 173.8h0M228.7 155.6h0M221.0 143.1h0M244.8 146.6h0M250.8 161.4h0M222.1 149.3h0M199.6 149.6h0M234.7 134.8h0M221.2 139.5h0M199.0 161.7h0M301.7 139.4h0M214.8 147.1h0M228.9 144.5h0M185.0 161.7h0M225.0 150.5h0M246.8 143.1h0M272.5 138.9h0M223.1 158.4h0M270.9 137.0h0M181.9 145.8h0M166.5 134.2h0M141.2 149.5h0M182.5 134.6h0M170.4 151.1h0M143.8 159.6h0M183.8 142.0h0M169.4 152.4h0M186.9 137.2h0M157.5 145.5h0M210.0 230.7h0M199.9 216.4h0M222.2 239.7h0M218.4 253.2h0M207.2 245.3h0M228.0 260.2h0M237.3 270.2h0M241.5 285.4h0M270.2 306.9h0M318.2 310.4h0M273.4 315.0h0M274.1 347.3h0M285.4 343.4h0M281.1 338.7h0M288.3 322.5h0M319.5 334.4h0M268.3 371.2h0M266.4 331.8h0M264.3 332.5h0M278.4 370.5h0M272.2 341.0h0M268.5 341.6h0M310.0 340.6h0M282.7 360.9h0M267.9 339.0h0M263.7 365.6h0M290.5 359.8h0M278.9 361.8h0M300.0 359.5h0M289.0 322.6h0M266.4 330.7h0M287.4 333.0h0M297.8 366.3h0M301.3 335.7h0M289.0 375.8h0M298.8 345.1h0M297.7 348.7h0M262.7 345.8h0M296.1 322.9h0M285.6 370.4h0M269.7 354.9h0M305.4 326.9h0M267.5 371.9h0M293.3 336.3h0M277.6 346.9h0M277.5 326.2h0M287.8 343.4h0M262.6 326.1h0M266.5 371.5h0M314.0 332.9h0M307.0 327.3h0M310.1 342.8h0M267.9 374.4h0M280.3 356.8h0M279.4 392.8h0M272.0 390.2h0M394.8 175.0h0M388.9 164.9h0M396.8 168.0h0M385.4 171.2h0M384.2 172.4h0M393.2 170.2h0M402.1 170.6h0M397.0 167.6h0M400.6 169.5h0M388.2 167.2h0M394.8 174.3h0M391.3 168.2h0M392.6 163.8h0M393.3 163.1h0M392.7 169.7h0M402.0 173.2h0M394.7 169.6h0M398.8 172.4h0M394.7 156.2h0M397.1 163.3h0M392.7 170.1h0M401.6 168.4h0M396.0 199.6h0M387.9 201.6h0M400.3 199.4h0M390.2 195.1h0M388.4 189.5h0M395.2 204.1h0M409.8 172.9h0M407.1 185.3h0M395.3 174.3h0M407.2 180.7h0M399.4 190.2h0M411.2 176.7h0M408.6 173.3h0M397.8 173.0h0M447.8 197.8h0M425.5 189.5h0M426.9 188.2h0M432.4 196.5h0M452.2 187.5h0M454.7 194.8h0M433.8 192.9h0M432.4 186.9h0M432.6 188.8h0M416.0 199.4h0M427.3 187.2h0M425.3 192.2h0M417.5 156.0h0M436.0 146.4h0M431.6 140.8h0M424.0 163.2h0M412.7 147.4h0M434.0 147.7h0M427.1 134.4h0M442.6 133.2h0M422.8 144.3h0M414.0 160.6h0M443.9 131.8h0M427.8 135.3h0M421.9 137.8h0M412.8 149.5h0M426.1 141.5h0M428.8 147.0h0M425.2 154.5h0M443.1 144.4h0M433.1 147.1h0M418.3 151.4h0M413.9 156.3h0M421.0 157.6h0M445.0 161.5h0M424.9 161.5h0M423.6 148.2h0M415.3 152.0h0M418.2 160.2h0M420.9 161.4h0M431.5 143.7h0M435.9 138.8h0M428.5 145.9h0M412.4 157.7h0M429.4 160.3h0M426.1 162.6h0M418.2 157.8h0M439.9 132.5h0M428.2 147.1h0M442.9 152.1h0M440.2 133.3h0M413.7 150.3h0M449.2 158.4h0M442.0 140.0h0M432.6 147.9h0M436.8 140.3h0M426.2 138.9h0M440.6 131.9h0M443.7 158.8h0M411.2 159.0h0M414.4 152.8h0M435.1 137.2h0M418.1 146.2h0M438.5 154.1h0M415.0 148.0h0M433.1 145.1h0M422.8 163.8h0M428.1 148.9h0M441.6 139.7h0M443.6 152.1h0M421.7 153.3h0M425.0 158.0h0M433.0 149.7h0M422.3 145.4h0M427.2 142.2h0M449.3 161.3h0M419.8 141.7h0M417.2 159.7h0M439.0 162.5h0M427.8 150.8h0M440.0 155.9h0M437.2 149.3h0M435.8 159.1h0M438.9 136.1h0M440.5 145.1h0M449.0 152.9h0M420.9 136.0h0M426.2 154.9h0M432.8 133.0h0M433.0 133.3h0M413.6 160.6h0M420.1 153.2h0M420.9 137.8h0M425.9 150.2h0M448.2 150.1h0M429.9 134.2h0M408.8 156.9h0M431.1 144.8h0M438.9 144.7h0M450.3 178.3h0M460.5 176.6h0M473.1 152.2h0M485.6 161.3h0M463.6 180.2h0M497.1 179.0h0M455.2 183.6h0M472.0 137.0h0M463.4 171.4h0M467.1 146.4h0M437.0 138.3h0M432.4 137.5h0M464.2 167.2h0M470.0 167.5h0M439.6 183.6h0M495.9 182.0h0M476.6 157.0h0M483.2 180.3h0M433.6 136.9h0M437.3 138.6h0M491.5 167.1h0M475.6 156.0h0M448.4 136.6h0M467.9 138.6h0M439.1 178.9h0M464.3 151.2h0M488.2 139.3h0M451.2 162.8h0M457.3 159.6h0M477.3 142.3h0M483.8 148.7h0M466.1 177.5h0M452.8 186.6h0M462.6 169.3h0M498.7 182.2h0M431.3 144.7h0M459.9 171.3h0M478.2 172.5h0M488.1 165.3h0M452.3 174.3h0M469.1 150.0h0M458.1 155.4h0M460.3 173.8h0M489.7 141.4h0M468.2 161.6h0M461.0 155.8h0M499.9 188.1h0M460.7 187.2h0M442.0 176.6h0M451.4 136.7h0M477.3 178.9h0M476.1 157.1h0M451.7 148.2h0M464.0 176.8h0M455.5 164.8h0M466.9 171.0h0M441.7 162.9h0M473.2 143.3h0M445.8 152.3h0M493.9 181.1h0M471.4 163.1h0M439.0 151.1h0M476.9 178.3h0M459.0 173.6h0M438.2 148.9h0M477.5 179.7h0M444.6 186.8h0M474.9 188.1h0M489.0 182.3h0M502.0 177.8h0M446.2 159.0h0M469.4 141.9h0M439.9 148.1h0M437.9 143.0h0M436.6 141.6h0M486.4 139.7h0M496.7 156.9h0M448.6 138.6h0M454.0 195.4h0M472.6 197.4h0M475.2 200.6h0M464.0 193.3h0M470.3 196.8h0M463.4 198.0h0M453.9 201.8h0M363.8 141.1h0M374.2 146.1h0M374.8 146.6h0M373.2 144.0h0M373.0 146.7h0M558.6 159.9h0M534.4 163.6h0M501.2 155.4h0M556.7 166.9h0M510.4 168.8h0M593.1 174.2h0M566.2 155.5h0M618.8 155.5h0M532.2 157.2h0M605.1 149.7h0M537.5 167.7h0M620.4 157.1h0M592.3 160.9h0M561.0 158.5h0M619.3 156.4h0M584.4 168.4h0M625.8 162.8h0M536.8 169.3h0M495.7 150.9h0M505.1 157.1h0M621.0 155.8h0M632.3 168.0h0M597.5 174.5h0M567.9 173.5h0M507.7 156.5h0M614.0 166.2h0M603.4 154.2h0M571.9 157.7h0M503.1 169.2h0M539.1 152.6h0M576.4 161.7h0M514.7 166.8h0M609.4 173.4h0M585.3 166.2h0M570.9 155.4h0M604.2 170.7h0M527.0 163.8h0M535.4 174.2h0M552.9 173.9h0M627.0 166.2h0M497.7 149.8h0M560.9 162.6h0M610.7 166.2h0M556.8 152.2h0M509.8 157.1h0M527.1 174.9h0M512.4 168.8h0M580.4 168.7h0M522.4 174.5h0M528.7 174.1h0M585.0 163.6h0M572.3 158.6h0M550.1 153.5h0M516.4 169.8h0M507.9 167.6h0M551.9 169.9h0M544.7 175.0h0M590.4 160.3h0M504.2 158.0h0M506.6 170.8h0M624.7 174.2h0M565.9 151.5h0M600.8 149.8h0M515.4 161.8h0M511.3 150.5h0M615.6 169.0h0M540.8 127.4h0M504.6 131.9h0M511.4 134.3h0M603.2 139.5h0M542.9 148.7h0M562.0 138.5h0M520.8 129.3h0M519.1 139.1h0M533.6 128.2h0M583.7 146.2h0M542.3 137.6h0M503.9 131.4h0M579.9 136.6h0M611.8 173.1h0M632.5 192.6h0M634.2 178.4h0M640.9 175.6h0M629.0 189.1h0M619.8 172.8h0M613.8 174.4h0M661.2 146.3h0M618.8 132.8h0M665.1 138.5h0M632.5 139.5h0M643.2 148.2h0M648.1 142.6h0M669.0 164.8h0M548.9 176.9h0M504.2 190.5h0M510.5 176.0h0M520.8 184.2h0M484.8 191.9h0M509.4 202.2h0M520.7 187.4h0M531.6 196.9h0M522.5 186.0h0M543.7 191.2h0M533.5 205.9h0M531.8 203.4h0M523.8 185.0h0M547.5 177.6h0M522.3 186.4h0M499.8 197.6h0M528.3 191.8h0M602.5 181.4h0M606.9 203.2h0M617.4 193.5h0M599.1 179.7h0M547.6 206.4h0M585.9 204.7h0M620.6 222.6h0M609.8 211.1h0M630.8 222.0h0M622.0 220.9h0M608.0 205.1h0M617.2 204.5h0M611.5 225.6h0M597.5 206.5h0M602.3 212.6h0M606.3 221.6h0M606.5 208.7h0M599.9 207.8h0M618.1 226.1h0M619.8 207.3h0M627.6 214.8h0M604.1 225.8h0M594.4 209.0h0M591.4 216.6h0M593.0 235.6h0M595.6 235.3h0M604.9 234.0h0M606.9 237.4h0M612.8 233.2h0M597.6 237.0h0M593.6 227.7h0M590.8 229.6h0M615.1 231.8h0M615.2 235.9h0M628.9 228.5h0M597.7 235.4h0M602.9 237.4h0M627.7 195.1h0M639.3 204.3h0M661.9 210.1h0M648.8 214.9h0M628.3 193.5h0M628.3 194.4h0M639.4 206.2h0M636.6 198.4h0M650.6 207.8h0M625.7 185.7h0M653.3 185.3h0M662.0 190.3h0M636.5 203.7h0M628.3 185.7h0M658.0 212.5h0M632.3 187.2h0M661.5 208.2h0M626.7 187.7h0M654.6 189.8h0M657.3 208.6h0M659.4 189.2h0M634.9 192.2h0M552.4 230.8h0M547.9 244.9h0M556.5 254.7h0M550.9 256.1h0M572.5 237.0h0M557.2 249.2h0M555.5 233.0h0M536.2 233.5h0M539.8 234.4h0M548.9 236.6h0M543.5 235.0h0M565.2 247.8h0M570.4 227.8h0M570.1 234.3h0M537.5 225.3h0M544.6 250.7h0M571.1 223.7h0M531.6 225.4h0M563.4 246.4h0M558.4 257.0h0M564.4 223.5h0M549.0 224.5h0M556.2 237.0h0M554.1 248.0h0M535.2 229.1h0M542.6 220.3h0M558.3 231.3h0M537.1 227.9h0M546.3 223.7h0M549.9 222.0h0M554.7 245.9h0M554.3 226.8h0M556.7 249.6h0M572.5 237.7h0M540.9 227.6h0M549.5 225.2h0M535.3 222.8h0M562.3 273.8h0M568.8 236.8h0M565.7 234.4h0M545.1 245.1h0M563.3 249.5h0M554.9 242.7h0M546.3 224.5h0M564.5 229.0h0M553.3 231.3h0M561.6 273.2h0M574.4 236.9h0M562.2 235.4h0M558.2 272.4h0M573.8 231.9h0M549.8 232.7h0M554.4 236.5h0M554.9 265.7h0M545.1 232.2h0M551.5 234.0h0M546.1 221.9h0M565.7 230.3h0M556.7 256.5h0M554.6 252.2h0M541.2 228.5h0M556.2 245.9h0M570.9 231.6h0M557.9 263.4h0M546.9 224.2h0M544.3 226.0h0M563.6 226.1h0M559.4 270.7h0M577.5 230.4h0M576.3 234.7h0M581.1 239.6h0M588.3 239.4h0M537.2 227.5h0M505.5 206.9h0M522.0 210.1h0M493.2 218.2h0M536.3 201.9h0M518.2 229.0h0M535.8 228.7h0M523.2 216.3h0M511.1 218.8h0M488.4 216.4h0M528.9 222.7h0M490.3 232.6h0M483.9 213.3h0M514.3 210.7h0M477.5 210.9h0M474.5 210.7h0M474.1 221.0h0M510.1 233.1h0M587.6 249.3h0M603.1 242.4h0M603.8 246.2h0M596.1 257.2h0M608.8 241.0h0M583.0 259.8h0M599.6 252.2h0M616.0 242.3h0M593.3 247.7h0M598.5 258.7h0M586.7 252.4h0M671.0 297.6h0M657.6 287.7h0M650.3 266.2h0M637.5 250.7h0M409.9 205.7h0M456.8 226.5h0M445.3 222.4h0M401.3 240.4h0M464.8 229.0h0M380.9 269.5h0M364.5 254.5h0M383.1 252.1h0M381.0 266.7h0M376.2 263.7h0M410.7 258.7h0M410.8 275.0h0M411.0 256.4h0M439.7 292.1h0M458.3 272.9h0M475.5 298.0h0M476.3 285.4h0M430.8 316.9h0M428.7 313.8h0M428.8 320.0h0M463.0 337.8h0M432.5 322.8h0M429.1 339.4h0M428.1 324.3h0M451.7 322.2h0M443.0 343.3h0M488.6 326.1h0M618.5 367.3h0M626.4 352.3h0M621.5 356.8h0M625.3 363.7h0M619.8 356.7h0M621.5 356.7h0M619.9 366.3h0M620.2 354.1h0M623.7 339.5h0M632.7 336.5h0M666.2 322.3h0M663.2 313.1h0M637.9 340.5h0M668.0 334.2h0M668.1 329.3h0M681.3 330.0h0M671.9 333.9h0M680.4 354.1h0M687.3 337.5h0M690.6 348.3h0M692.1 354.0h0M682.9 341.8h0M669.7 362.7h0M667.4 361.2h0M658.8 365.0h0M669.4 357.1h0M676.2 355.0h0M679.4 365.7h0M665.9 365.6h0M668.1 353.6h0M688.8 356.5h0M659.9 363.7h0M659.6 359.9h0M664.9 362.3h0M681.5 354.9h0M676.8 363.2h0M686.2 354.8h0M668.4 361.9h0M663.5 353.7h0M688.2 352.9h0M680.7 365.1h0M682.5 355.9h0M660.4 363.2h0M642.1 361.0h0M645.1 358.1h0M672.4 379.4h0M672.5 380.0h0M346.5 112.7h0M360.1 111.3h0M378.7 117.2h0M323.9 133.5h0M371.3 140.0h0M378.8 141.7h0M378.3 143.7h0M378.1 144.4h0M374.8 144.8h0M366.6 146.2h0M367.7 144.3h0M365.7 141.2h0M416.7 117.5h0M476.6 131.6h0M485.3 119.7h0M533.7 117.4h0M590.2 122.2h0M599.6 123.3h0M300.7 146.3h0M282.5 146.1h0M290.1 135.1h0M284.8 134.2h0M277.6 134.4h0M292.9 131.2h0M235.7 135.6h0M236.2 126.4h0M289.5 120.6h0M291.7 113.9h0M312.0 111.4h0M276.3 126.0h0M624.5 282.6h0M636.1 284.6h0M680.6 304.3h0M673.0 298.7h0M656.0 209.5h0M657.5 208.7h0M656.6 194.9h0M657.2 205.2h0M650.8 208.1h0M655.4 189.6h0M655.7 190.1h0M655.8 192.5h0M649.8 216.9h0M648.0 212.2h0M653.0 208.9h0M653.0 211.9h0M667.9 139.6h0M674.2 146.0h0M676.7 150.1h0M671.2 151.8h0M662.0 158.3h0M656.5 150.4h0M626.5 132.7h0M634.7 135.7h0M654.1 156.6h0M648.3 152.8h0M647.0 153.7h0M631.0 156.1h0M639.8 165.9h0M647.0 172.7h0M655.1 182.8h0M650.0 178.8h0M644.8 176.4h0M641.5 168.7h0M632.5 334.7h0M645.6 324.7h0M653.5 322.6h0M659.3 315.4h0M663.8 312.4h0M667.9 320.3h0M672.4 323.2h0M679.5 322.4h0M681.9 320.1h0M689.4 331.9h0M692.5 336.0h0M688.8 359.9h0M675.7 372.7h0M664.5 374.7h0M653.2 365.3h0M642.4 360.1h0M629.5 364.6h0M623.8 368.3h0M622.1 365.4h0M620.1 361.6h0M620.1 349.6h0M620.8 344.0h0M669.4 382.2h0M669.6 384.7h0M666.1 385.3h0M662.6 383.4h0M389.9 174.0h0M395.0 174.8h0M402.8 173.7h0M401.8 169.0h0M401.2 168.6h0M392.7 158.9h0M391.7 161.6h0M395.0 170.4h0M393.7 172.6h0M386.4 170.5h0M389.2 169.1h0M388.7 163.8h0M384.4 165.5h0M385.4 165.4h0M302.1 175.2h0M305.0 175.8h0M301.2 181.8h0M121.0 159.4h0M87.4 238.0h0M93.0 241.0h0M94.4 243.4h0M88.4 249.0h0M108.0 340.6h0M91.0 333.4h0M65.6 331.0h0M348.0 200.0h0M338.8 410.2h0M507.5 323.7h0M524.5 332.5h0M508.7 335.7h0M478.7 338.0h0M464.0 333.6h0M479.0 338.4h0M493.7 313.2h0M727.6 244.0h0M688.0 253.6h0M687.0 257.6h0M722.6 262.0h0M675.0 266.4h0M645.6 228.0h0M629.0 241.0h0M621.0 250.0h0M726.0 339.0h0M751.0 327.0h0M729.6 375.6h0M720.0 379.0h0M687.6 401.4h0M609.0 435.0h0M611.6 459.6h0M308.0 436.0h0M303.0 450.6h0M396.0 445.6h0M403.0 446.0h0M398.0 469.0h0M547.0 278.0h0M584.5 261.0h0M250.0 364.0h0M415.0 118.4h0M433.0 121.6h0M445.6 115.6h0M497.0 117.0h0M497.0 127.0h0M677.0 163.6h0M397.5 151.5h0M403.0 157.0h0" stroke="#2a00d9" stroke-width="5.5" stroke-linecap="round" fill="none"/><path d="M222.9 181.0h0M197.8 183.3h0M209.7 185.0h0M212.1 218.1h0M225.0 212.1h0M242.2 191.5h0M242.7 221.6h0M240.6 194.1h0M269.0 191.0h0M212.6 222.5h0M267.0 167.6h0M245.4 136.9h0M199.0 143.2h0M174.3 136.5h0M271.2 246.0h0M259.6 192.5h0M264.2 195.4h0M247.1 193.2h0M264.9 194.6h0M246.4 189.3h0M256.7 186.7h0M259.9 301.1h0M296.6 276.2h0M286.3 310.3h0M305.6 340.7h0M285.2 357.0h0M290.2 364.7h0M263.4 363.1h0M276.8 332.5h0M298.2 355.8h0M280.0 365.0h0M303.9 351.5h0M307.3 344.5h0M267.6 385.3h0M392.5 168.9h0M386.2 169.4h0M398.4 200.1h0M392.0 189.0h0M403.6 174.5h0M398.7 187.2h0M400.8 185.7h0M397.0 191.0h0M395.8 180.6h0M398.0 173.0h0M413.8 186.0h0M422.7 192.3h0M450.8 202.5h0M431.1 184.2h0M451.1 198.6h0M453.4 199.5h0M419.2 188.3h0M423.7 190.9h0M421.4 154.5h0M442.6 148.5h0M445.4 153.1h0M443.2 152.0h0M446.5 141.6h0M417.5 152.1h0M435.4 149.4h0M463.1 148.5h0M476.7 155.2h0M443.6 136.2h0M471.4 147.3h0M502.3 170.2h0M466.6 162.6h0M482.9 158.2h0M479.1 156.4h0M482.2 142.6h0M485.4 173.3h0M438.0 176.1h0M494.2 174.5h0M434.5 147.0h0M451.6 177.5h0M472.5 187.4h0M461.4 175.5h0M500.2 173.8h0M459.1 144.3h0M475.2 178.0h0M444.8 150.6h0M482.2 164.6h0M496.0 156.4h0M487.1 136.4h0M458.2 160.8h0M447.1 184.6h0M484.6 188.1h0M496.7 173.2h0M435.3 139.3h0M436.3 170.5h0M438.6 151.2h0M443.9 138.2h0M449.9 142.5h0M502.2 184.9h0M452.4 199.3h0M466.9 201.7h0M454.6 201.5h0M560.9 157.1h0M609.5 151.5h0M570.9 171.0h0M596.7 153.8h0M553.1 157.0h0M575.2 159.9h0M576.1 165.6h0M523.8 153.1h0M534.1 152.0h0M551.7 166.5h0M541.3 165.7h0M573.7 156.7h0M593.0 169.9h0M540.2 161.6h0M616.5 166.3h0M565.0 151.7h0M613.4 164.0h0M535.8 163.0h0M577.5 153.8h0M537.9 156.3h0M542.0 170.5h0M518.2 153.4h0M568.6 150.7h0M615.0 171.3h0M587.9 174.9h0M580.8 157.6h0M508.7 159.9h0M549.8 161.4h0M540.8 165.4h0M568.2 155.6h0M536.0 122.8h0M536.2 137.9h0M576.5 141.9h0M549.0 129.9h0M590.7 147.8h0M635.1 182.5h0M635.5 181.3h0M610.9 139.2h0M658.1 156.1h0M637.6 150.9h0M627.1 143.3h0M521.2 176.8h0M528.1 194.4h0M546.7 183.4h0M504.0 196.7h0M501.5 186.1h0M504.9 187.4h0M549.6 195.0h0M597.5 211.2h0M627.0 229.1h0M593.1 234.4h0M653.8 207.6h0M572.4 234.9h0M535.4 236.9h0M552.8 229.7h0M587.9 228.6h0M512.2 215.1h0M492.8 205.3h0M532.4 210.9h0M490.1 211.6h0M583.8 261.9h0M596.3 250.6h0M613.0 265.3h0M600.0 239.2h0M627.6 284.3h0M439.5 221.7h0M412.5 206.5h0M385.0 249.9h0M370.5 255.7h0M385.9 268.7h0M401.9 274.5h0M424.5 270.4h0M460.6 311.5h0M481.2 294.1h0M462.8 350.9h0M619.6 363.4h0M631.6 336.4h0M650.3 323.7h0M656.4 345.3h0M683.9 353.0h0M695.1 341.1h0M689.5 350.6h0M695.8 348.6h0M689.9 346.3h0M689.9 334.5h0M688.5 351.9h0M664.6 355.4h0M686.5 364.3h0M667.7 373.8h0M670.1 366.3h0M679.3 356.4h0M693.5 358.9h0M364.8 140.6h0M366.1 141.3h0M663.7 208.6h0M655.0 186.7h0M671.1 315.6h0M688.2 323.8h0M661.7 365.1h0M65.0 250.0h0M85.6 330.4h0M702.6 271.0h0M639.4 241.6h0M622.4 268.0h0M749.6 326.0h0M495.4 459.8h0M335.0 296.5h0M516.6 120.4h0M405.5 164.5h0M409.0 164.0h0" stroke="#3894ff" stroke-width="5.5" stroke-linecap="round" fill="none"/><path d="M201.1 184.3h0M200.6 191.6h0M259.9 198.5h0M236.0 204.4h0M272.4 192.6h0M214.5 217.5h0M219.8 171.1h0M224.9 145.4h0M292.5 135.9h0M295.7 158.0h0M141.8 152.3h0M188.2 226.0h0M199.6 225.1h0M206.4 223.7h0M185.4 222.3h0M194.6 234.6h0M205.0 220.3h0M201.0 227.1h0M205.1 245.6h0M213.4 245.8h0M250.8 241.4h0M245.2 246.0h0M232.9 238.9h0M266.6 264.0h0M242.4 235.8h0M256.4 198.8h0M257.6 197.1h0M255.9 197.0h0M287.4 283.1h0M280.0 319.7h0M247.2 304.2h0M250.0 274.8h0M292.2 329.6h0M284.7 326.6h0M273.6 374.9h0M265.4 361.6h0M272.0 333.9h0M265.6 354.5h0M274.5 392.6h0M391.6 174.7h0M404.4 189.2h0M410.2 185.0h0M407.1 183.0h0M396.7 182.2h0M451.9 202.3h0M438.0 198.5h0M441.5 203.6h0M439.3 185.7h0M428.3 185.9h0M434.2 185.3h0M447.2 187.8h0M421.8 185.1h0M422.7 202.4h0M429.8 189.8h0M456.2 161.7h0M487.3 137.9h0M482.2 157.6h0M448.1 176.3h0M455.9 144.4h0M489.9 183.4h0M434.6 174.3h0M473.3 179.3h0M449.8 174.0h0M489.7 155.0h0M493.0 149.3h0M491.9 145.6h0M479.0 165.4h0M444.4 134.2h0M466.1 184.2h0M480.8 183.9h0M486.7 154.2h0M499.7 170.5h0M468.7 168.4h0M443.5 163.6h0M464.9 183.2h0M453.9 155.1h0M448.5 182.9h0M461.9 184.6h0M481.5 187.4h0M454.2 151.9h0M473.4 149.7h0M479.6 177.8h0M475.7 143.0h0M484.9 183.3h0M494.7 171.0h0M463.8 138.4h0M480.6 151.5h0M433.1 137.2h0M465.6 141.0h0M468.8 159.8h0M486.3 159.1h0M433.4 137.3h0M448.9 140.8h0M482.0 154.7h0M477.5 140.4h0M447.7 168.6h0M453.0 182.3h0M455.1 182.5h0M440.9 144.7h0M469.9 141.1h0M441.9 155.0h0M434.7 140.2h0M477.6 153.2h0M473.5 162.5h0M488.1 138.6h0M448.5 174.7h0M441.9 176.8h0M495.4 172.1h0M466.6 162.5h0M463.2 140.0h0M459.9 195.3h0M475.8 199.2h0M452.7 205.2h0M473.8 195.1h0M455.0 205.7h0M452.4 193.5h0M460.7 204.7h0M475.6 192.9h0M605.1 167.8h0M550.2 161.4h0M594.3 152.0h0M552.7 165.1h0M627.8 158.2h0M546.6 152.4h0M568.9 166.0h0M585.2 157.7h0M515.9 173.8h0M586.2 165.9h0M534.2 156.8h0M504.8 164.3h0M515.1 163.3h0M557.2 154.1h0M593.1 172.6h0M585.1 167.1h0M625.4 157.0h0M570.5 166.9h0M599.3 172.5h0M514.3 163.0h0M590.5 158.8h0M589.2 172.3h0M627.0 167.3h0M545.6 151.6h0M580.4 157.6h0M632.1 174.8h0M556.5 164.8h0M542.9 155.1h0M570.7 174.0h0M625.0 168.0h0M591.1 156.4h0M525.7 169.7h0M575.1 165.8h0M613.1 156.1h0M537.3 164.0h0M542.6 163.0h0M557.6 169.9h0M615.0 157.6h0M575.9 169.9h0M596.4 173.0h0M635.5 167.9h0M610.8 155.1h0M553.6 162.2h0M513.2 163.2h0M549.9 151.8h0M625.5 163.7h0M585.0 154.9h0M489.0 121.8h0M548.3 136.0h0M493.5 130.9h0M541.1 123.2h0M555.0 144.6h0M588.8 132.0h0M622.1 182.1h0M609.2 163.1h0M636.1 170.8h0M616.0 174.4h0M645.9 179.0h0M616.1 185.7h0M625.0 169.6h0M621.1 174.1h0M645.5 156.8h0M663.7 151.8h0M640.6 138.7h0M501.1 176.3h0M556.3 194.4h0M486.4 200.0h0M519.6 175.1h0M485.7 197.6h0M511.2 204.1h0M487.8 196.3h0M527.0 198.2h0M541.1 175.8h0M494.8 176.8h0M501.1 189.9h0M503.9 176.0h0M519.8 198.5h0M559.6 202.4h0M491.9 201.2h0M490.0 188.3h0M548.8 202.4h0M510.4 180.7h0M510.3 196.4h0M488.6 195.7h0M583.4 190.4h0M620.3 192.5h0M631.5 224.7h0M625.1 229.3h0M622.2 227.6h0M605.9 238.6h0M606.8 227.7h0M605.6 233.9h0M605.0 228.8h0M607.4 239.1h0M553.8 264.3h0M561.4 246.1h0M562.3 236.9h0M559.8 221.2h0M564.7 233.6h0M540.0 239.0h0M533.6 225.7h0M586.1 228.6h0M490.3 218.1h0M489.8 214.1h0M497.8 227.4h0M583.4 241.0h0M596.7 256.1h0M608.3 248.3h0M595.6 248.7h0M382.9 214.2h0M392.0 210.0h0M375.0 260.8h0M384.8 257.6h0M382.4 261.9h0M423.5 267.0h0M419.3 260.5h0M477.4 295.6h0M425.7 315.4h0M622.9 361.8h0M631.9 336.5h0M682.2 345.6h0M692.3 346.9h0M687.3 331.5h0M685.4 345.2h0M685.0 342.9h0M670.7 366.0h0M665.7 362.8h0M667.0 366.7h0M677.4 357.0h0M677.8 357.6h0M236.6 237.1h0M244.5 237.2h0M247.8 240.8h0M234.9 238.1h0M253.8 246.4h0M256.6 243.0h0M261.0 242.4h0M256.5 246.8h0M249.2 247.6h0M268.7 246.5h0M676.7 326.9h0M684.0 313.3h0M695.4 350.9h0M657.8 368.4h0M648.3 361.2h0M621.2 353.6h0M70.0 312.4h0M388.7 323.7h0M512.5 311.0h0M493.6 339.4h0M725.4 275.6h0M565.6 451.2h0M605.0 437.0h0M545.0 268.7h0M389.0 149.5h0" stroke="#aaf7ff" stroke-width="5.5" stroke-linecap="round" fill="none"/><path d="M201.3 183.8h0M176.9 194.8h0M263.5 182.0h0M273.8 182.0h0M224.3 191.9h0M282.3 161.9h0M295.6 162.3h0M142.4 160.5h0M187.4 224.6h0M206.1 230.9h0M178.4 224.4h0M191.4 223.7h0M206.5 226.2h0M200.7 220.1h0M221.5 241.4h0M206.1 251.6h0M219.6 253.8h0M202.6 240.1h0M216.7 254.7h0M203.8 248.2h0M215.9 252.3h0M203.9 238.3h0M233.0 268.3h0M236.1 254.1h0M254.1 263.6h0M246.6 196.9h0M259.2 300.0h0M251.8 318.7h0M294.5 357.7h0M292.3 336.1h0M280.7 361.3h0M283.2 325.9h0M298.8 332.7h0M289.0 364.6h0M389.0 168.8h0M389.6 161.2h0M393.5 158.8h0M395.1 160.6h0M386.6 204.9h0M393.8 199.2h0M403.1 180.3h0M411.4 175.8h0M403.8 179.6h0M435.3 174.7h0M444.8 183.9h0M427.7 175.7h0M428.8 187.7h0M425.4 174.7h0M414.8 185.9h0M440.3 180.6h0M439.9 173.4h0M441.7 169.2h0M438.6 178.1h0M430.1 177.4h0M410.0 177.8h0M443.2 164.8h0M418.8 176.8h0M424.4 180.8h0M414.7 179.0h0M428.6 183.2h0M434.0 180.8h0M420.0 186.3h0M422.9 179.1h0M421.9 184.8h0M437.8 178.1h0M445.9 186.3h0M423.2 170.6h0M421.4 170.2h0M420.0 166.9h0M439.2 173.3h0M443.0 164.5h0M420.7 187.4h0M439.6 195.6h0M438.3 195.3h0M452.6 198.5h0M450.7 193.2h0M442.8 189.8h0M429.0 199.2h0M411.8 189.6h0M430.3 191.0h0M427.7 160.7h0M431.6 139.7h0M443.3 160.5h0M444.4 160.7h0M444.4 147.5h0M424.2 150.8h0M449.6 154.9h0M413.1 160.4h0M419.9 157.8h0M438.4 137.5h0M421.6 139.2h0M438.1 147.8h0M430.9 146.5h0M435.2 149.7h0M434.9 176.6h0M456.5 145.2h0M446.8 166.5h0M471.1 170.6h0M460.6 158.6h0M460.5 167.0h0M484.1 151.3h0M498.4 187.3h0M473.9 170.2h0M496.5 174.0h0M467.6 182.5h0M477.9 173.8h0M438.2 139.2h0M439.1 147.2h0M481.2 172.1h0M438.9 184.5h0M488.2 182.3h0M471.9 164.9h0M441.6 155.4h0M481.0 187.3h0M488.4 143.8h0M493.3 184.0h0M443.0 184.6h0M499.5 176.3h0M501.0 178.9h0M444.2 145.6h0M461.0 168.7h0M484.7 160.9h0M463.0 150.4h0M441.8 140.3h0M455.2 202.2h0M447.6 193.9h0M539.8 157.5h0M509.7 157.0h0M519.2 168.9h0M519.4 170.9h0M579.9 158.3h0M619.0 170.5h0M527.0 162.9h0M611.1 163.2h0M606.0 161.2h0M501.3 156.6h0M542.0 153.9h0M520.0 158.7h0M614.2 152.2h0M625.9 173.0h0M512.0 161.6h0M576.9 171.2h0M538.1 150.6h0M568.7 154.3h0M562.7 168.5h0M621.5 158.3h0M538.9 171.0h0M564.2 141.7h0M522.1 131.5h0M518.3 144.4h0M563.3 140.8h0M528.0 129.2h0M625.7 167.0h0M666.1 165.8h0M610.1 132.4h0M602.0 131.6h0M666.5 149.6h0M511.5 180.1h0M548.3 186.2h0M541.4 203.5h0M503.6 190.0h0M517.7 179.9h0M514.7 193.4h0M492.6 189.8h0M510.9 206.1h0M611.2 178.5h0M613.7 205.8h0M629.2 220.9h0M612.9 237.5h0M606.6 233.7h0M620.2 235.1h0M629.2 231.5h0M602.1 233.3h0M592.8 230.2h0M590.9 229.1h0M595.0 238.5h0M596.9 234.1h0M626.3 230.0h0M546.2 224.4h0M573.7 227.3h0M549.8 229.3h0M515.9 202.2h0M514.0 216.8h0M535.6 222.8h0M607.3 259.2h0M611.4 259.8h0M601.5 253.7h0M606.1 250.4h0M591.2 250.4h0M594.8 251.6h0M609.8 242.4h0M614.4 245.5h0M611.2 266.0h0M651.3 274.8h0M638.6 263.9h0M383.2 271.7h0M405.2 260.6h0M464.5 302.9h0M659.0 327.6h0M678.6 333.0h0M692.0 349.9h0M682.4 348.9h0M688.1 363.4h0M369.0 140.5h0M249.7 239.7h0M399.0 161.4h0M394.9 157.5h0M394.0 164.0h0M113.0 169.0h0M47.0 320.2h0M136.4 340.2h0M78.4 328.6h0M57.4 329.4h0M716.0 272.0h0M639.0 249.0h0M725.0 336.0h0M614.0 457.0h0" stroke="#ffda8e" stroke-width="5.5" stroke-linecap="round" fill="none"/><path d="M249.2 140.9h0M209.3 234.2h0M194.9 228.8h0M204.0 215.9h0M182.4 233.6h0M197.5 245.2h0M199.7 241.0h0M225.3 254.6h0M193.5 238.7h0M206.6 238.8h0M222.4 251.2h0M214.5 248.0h0M205.2 245.2h0M225.6 239.6h0M206.5 241.6h0M234.7 263.3h0M236.1 269.4h0M301.9 315.5h0M392.8 173.8h0M393.2 190.6h0M402.0 177.7h0M409.9 189.0h0M405.5 183.2h0M391.4 180.3h0M410.5 185.0h0M406.9 181.9h0M400.4 187.5h0M408.0 182.6h0M396.9 174.4h0M423.5 180.6h0M415.3 174.5h0M434.8 171.8h0M411.7 182.7h0M437.2 169.6h0M422.8 169.3h0M429.7 184.9h0M435.2 182.9h0M434.2 173.9h0M418.9 166.5h0M436.4 172.5h0M409.7 172.9h0M444.4 179.6h0M425.5 165.6h0M438.6 177.8h0M414.9 180.1h0M440.1 169.1h0M446.2 177.9h0M433.9 176.9h0M414.9 167.4h0M412.0 185.7h0M426.2 178.7h0M431.0 178.5h0M435.3 169.4h0M408.9 181.4h0M439.1 180.4h0M410.5 175.2h0M417.2 181.9h0M418.8 177.6h0M431.2 178.2h0M444.9 166.8h0M436.7 175.9h0M413.0 186.8h0M422.4 179.2h0M419.4 167.1h0M441.9 166.6h0M437.5 187.7h0M417.8 165.8h0M422.3 166.8h0M415.2 165.3h0M425.6 170.8h0M442.1 183.3h0M418.3 164.4h0M418.9 167.9h0M417.7 169.6h0M428.6 188.4h0M434.8 185.3h0M452.3 203.6h0M446.4 195.3h0M432.7 191.8h0M438.4 188.4h0M438.0 158.7h0M443.4 139.9h0M432.5 132.8h0M415.5 162.2h0M414.4 144.5h0M440.0 138.4h0M413.0 146.3h0M427.8 144.5h0M450.4 162.4h0M445.0 150.1h0M412.2 153.9h0M417.4 149.4h0M413.0 153.7h0M416.1 162.3h0M441.2 149.7h0M426.4 154.7h0M480.0 149.9h0M430.8 141.8h0M463.3 137.8h0M435.9 153.7h0M477.3 146.8h0M478.5 170.5h0M472.5 184.7h0M492.1 175.3h0M497.9 161.1h0M457.6 157.8h0M487.4 157.3h0M436.3 181.5h0M438.8 185.2h0M492.0 159.6h0M452.7 138.9h0M442.0 157.6h0M464.1 156.0h0M462.0 150.5h0M485.3 140.6h0M486.7 153.5h0M441.2 176.8h0M463.5 204.4h0M590.0 167.3h0M560.6 154.3h0M512.5 152.8h0M498.6 154.2h0M600.1 157.7h0M577.9 155.4h0M539.0 167.0h0M593.0 163.6h0M594.7 157.0h0M538.7 174.0h0M558.5 152.7h0M574.5 151.1h0M620.8 164.0h0M583.2 171.3h0M545.6 160.7h0M536.1 140.5h0M566.9 130.3h0M536.1 134.5h0M537.6 126.5h0M641.8 174.3h0M628.1 170.4h0M659.9 146.9h0M562.8 201.6h0M503.4 192.4h0M540.2 177.5h0M533.6 184.4h0M553.8 187.4h0M594.7 234.9h0M609.4 229.9h0M610.3 231.2h0M627.8 227.9h0M603.3 235.4h0M618.7 235.4h0M558.6 237.0h0M570.0 220.3h0M488.5 208.7h0M493.6 219.9h0M505.3 215.2h0M484.5 216.1h0M507.0 214.2h0M602.0 247.0h0M613.6 239.8h0M601.9 247.8h0M602.0 247.8h0M614.5 238.1h0M598.7 244.5h0M604.4 240.6h0M597.8 264.8h0M597.4 252.4h0M592.4 242.1h0M594.6 252.9h0M639.6 249.7h0M650.8 265.6h0M650.8 274.5h0M387.0 212.5h0M385.1 270.7h0M388.7 256.4h0M413.1 267.5h0M630.3 337.3h0M661.8 316.2h0M669.5 316.1h0M665.3 338.8h0M651.6 332.8h0M686.5 336.3h0M683.1 327.2h0M689.2 338.1h0M673.2 332.9h0M687.0 325.1h0M690.7 335.5h0M665.8 365.4h0M677.5 363.8h0M683.6 351.8h0M688.4 363.0h0M678.2 149.5h0M665.4 159.5h0M643.0 327.0h0M681.9 316.5h0M662.8 371.2h0M492.0 322.5h0M636.4 233.0h0M627.6 264.4h0M496.6 469.5h0M316.0 445.6h0M192.0 462.4h0M237.0 463.0h0M346.0 128.5h0M386.5 168.0h0" stroke="#f8675f" stroke-width="5.5" stroke-linecap="round" fill="none"/><path d="M200.2 224.0h0M208.6 218.5h0M207.5 251.7h0M226.6 255.0h0M206.3 244.1h0M220.8 247.1h0M224.5 246.0h0M197.7 245.1h0M213.2 251.0h0M236.1 254.4h0M232.9 266.0h0M267.3 331.4h0M391.7 177.8h0M397.4 183.4h0M423.0 183.9h0M428.0 185.0h0M446.9 184.7h0M445.3 173.0h0M413.8 182.7h0M443.6 174.4h0M423.5 179.9h0M441.1 183.4h0M436.7 183.5h0M431.8 184.2h0M432.1 185.3h0M433.3 187.8h0M423.2 164.8h0M424.3 178.4h0M418.7 186.1h0M408.7 171.4h0M441.1 170.3h0M415.8 171.7h0M416.2 182.0h0M443.2 169.8h0M442.9 184.9h0M424.5 173.9h0M443.9 170.9h0M436.0 187.1h0M431.3 170.3h0M430.4 178.1h0M427.8 169.3h0M409.3 184.4h0M420.0 171.6h0M410.4 178.0h0M416.4 167.8h0M430.0 173.4h0M421.3 170.3h0M425.9 182.2h0M421.6 168.8h0M438.2 169.1h0M415.0 178.5h0M428.3 165.6h0M419.2 184.3h0M441.0 171.4h0M446.2 174.6h0M432.0 182.3h0M413.0 168.7h0M442.7 170.5h0M438.4 175.2h0M421.4 187.1h0M434.3 166.2h0M419.9 169.9h0M446.4 179.7h0M417.1 174.2h0M413.4 164.5h0M429.9 174.1h0M422.5 184.4h0M439.7 184.9h0M435.5 186.6h0M442.2 174.2h0M437.7 169.2h0M426.1 170.7h0M423.3 181.2h0M409.8 180.7h0M424.0 165.2h0M428.3 182.4h0M414.8 181.4h0M444.7 169.6h0M445.5 170.3h0M441.9 188.4h0M451.8 195.3h0M443.9 184.2h0M437.8 198.4h0M449.9 184.2h0M436.4 191.1h0M448.6 191.1h0M440.9 191.4h0M429.7 184.1h0M422.0 139.4h0M436.8 143.3h0M417.6 142.0h0M444.7 135.9h0M445.9 151.0h0M428.0 136.5h0M434.5 148.8h0M421.6 134.5h0M440.8 149.4h0M444.5 160.5h0M439.7 160.1h0M416.1 159.2h0M425.4 150.5h0M446.4 161.0h0M443.3 158.6h0M460.4 172.1h0M437.6 169.6h0M469.8 156.6h0M436.0 169.3h0M432.4 143.3h0M455.9 142.0h0M482.0 160.1h0M440.7 141.3h0M443.2 137.4h0M469.7 143.4h0M543.3 151.2h0M523.8 172.8h0M571.5 174.3h0M555.3 155.9h0M554.3 157.0h0M556.9 167.6h0M516.7 127.8h0M606.1 162.7h0M644.0 155.2h0M518.1 187.1h0M503.4 196.8h0M507.8 201.2h0M607.5 231.3h0M602.2 229.2h0M594.2 228.2h0M612.9 239.9h0M618.0 237.5h0M505.2 221.2h0M504.3 212.2h0M514.6 207.3h0M599.7 241.6h0M613.0 253.4h0M609.5 249.0h0M595.5 246.2h0M598.2 259.7h0M604.7 253.6h0M603.1 242.6h0M603.5 252.3h0M597.0 239.2h0M647.8 260.2h0M643.7 263.8h0M631.7 277.1h0M641.5 247.3h0M638.0 275.0h0M385.5 211.0h0M380.0 268.6h0M419.1 260.5h0M687.9 337.0h0M677.5 331.6h0M674.7 326.3h0M667.7 347.7h0M686.5 347.8h0M688.1 324.4h0M690.8 331.7h0M675.5 355.9h0M666.2 355.4h0M684.7 364.5h0M57.4 332.6h0M510.7 298.0h0M458.6 449.0h0M321.0 452.4h0M178.0 458.6h0M220.0 461.6h0" stroke="#a50021" stroke-width="5.5" stroke-linecap="round" fill="none"/><path d="M203.3 232.5h0M204.2 247.2h0M224.0 254.8h0M220.6 243.2h0M218.5 253.9h0M446.6 184.6h0M413.0 177.6h0M415.1 185.2h0M447.3 182.0h0M439.3 168.6h0M423.3 188.2h0M441.3 201.5h0M433.3 139.9h0M433.2 139.2h0M430.0 147.4h0M448.8 161.1h0M433.7 151.0h0M426.7 160.6h0M441.6 135.9h0M465.4 179.8h0M476.6 152.1h0M551.0 171.1h0M542.3 162.9h0M537.0 187.6h0M523.0 183.8h0M607.1 234.0h0M543.6 223.1h0M492.2 215.4h0M528.3 213.7h0M601.3 252.8h0M601.5 259.2h0M581.2 240.9h0M611.6 253.4h0M651.9 272.8h0M386.4 252.3h0M668.9 351.7h0M521.6 399.0h0M735.0 338.6h0M721.4 329.4h0M711.4 332.6h0M633.6 448.4h0" stroke="#000000" stroke-width="5.5" stroke-linecap="round" fill="none"/></g><g clip-path="url(#c)" fill="none" stroke="#000" stroke-linejoin="round" stroke-linecap="round"><path d="M156.0 137.1L157.5 136.7L158.7 135.8L160.7 136.3L161.3 136.4L163.0 135.8M163.0 135.8L164.8 135.5L166.0 134.9L167.5 133.3L168.7 133.3M168.7 133.3L170.0 133.0L171.1 132.5L173.3 132.7L174.2 132.8L175.2 132.0L177.2 132.0L178.4 131.4M178.4 131.4L179.8 132.1L181.2 132.0L182.9 132.0L183.6 132.4M183.6 132.4L184.5 132.5L187.0 132.7L188.3 133.1M188.3 133.1L191.0 133.2L192.0 133.9L194.1 133.7L194.7 133.7M194.7 133.7L196.4 134.6M196.4 134.6L197.6 134.9L199.3 135.4L200.8 135.8M200.8 135.8L201.9 134.9L203.3 134.9L204.8 134.8M204.8 134.8L206.0 134.5L207.7 134.8M248.2 160.0L249.3 159.8L250.8 159.2L252.3 160.0M252.3 160.0L253.3 161.1L254.9 161.1M254.9 161.1L256.0 162.1L257.5 162.9L258.4 163.6M258.4 163.6L260.1 163.4L261.5 164.1L262.8 163.9M262.8 163.9L262.5 165.0L262.1 166.9L260.8 168.6M260.8 168.6L261.4 170.7M261.4 170.7L262.3 172.5M262.3 172.5L264.4 171.8M264.4 171.8L265.5 170.9L265.5 169.1L266.6 167.5L267.0 166.4M267.0 166.4L266.7 164.7M266.7 164.7L267.9 164.6L269.4 163.1L270.7 162.8L272.5 162.1M272.5 162.1L273.5 161.9L274.7 160.1L275.0 159.0M278.6 179.5L277.6 180.6L276.5 180.8L275.3 181.4L274.1 182.2M274.1 182.2L276.0 181.8L276.5 181.4L278.2 180.6M285.9 187.0L284.0 187.6L283.5 188.5L281.6 189.5M281.6 189.5L280.8 187.9M276.7 187.7L274.8 187.7L273.6 189.0M273.6 189.0L273.3 190.2L271.6 191.3M271.6 191.3L272.2 193.3M272.2 193.3L270.7 193.5L269.2 194.2M269.2 194.2L267.7 194.2L266.6 195.0L265.2 195.1M265.2 195.1L264.0 196.2M264.0 196.2L263.3 196.7L262.2 198.9M262.2 198.9L260.9 199.4L259.8 200.7M259.8 200.7L258.5 202.1L257.9 204.1M257.9 204.1L257.6 205.4L257.6 207.5M257.6 207.5L256.1 208.8L254.6 209.5M254.6 209.5L253.8 211.4L252.3 211.1M252.3 211.1L250.7 211.4L250.1 212.1L248.9 213.1M248.9 213.1L248.3 213.5L246.9 215.3L245.5 215.4M245.5 215.4L245.0 217.3L244.0 218.8M244.0 218.8L243.7 220.0L244.5 222.7L244.7 223.3M244.7 223.3L244.9 225.4L245.0 227.2M245.0 227.2L244.4 228.8L243.8 230.6M243.8 230.6L242.2 230.8M242.2 230.8L241.3 228.5M241.3 228.5L240.3 227.4L240.2 224.9M240.2 224.9L241.0 223.2L240.7 222.2M240.7 222.2L239.6 220.7L238.7 219.9M238.7 219.9L237.3 220.9L235.7 220.4M235.7 220.4L234.5 219.7L233.2 219.0M233.2 219.0L231.7 218.7L230.2 219.3M230.2 219.3L228.2 219.7M228.2 219.7L228.1 222.0M228.1 222.0L225.8 221.8M225.8 221.8L224.6 221.3L223.1 220.8M223.1 220.8L220.9 220.7L219.3 220.8M219.3 220.8L218.2 221.2L216.7 222.2M216.7 222.2L214.9 223.4L214.3 224.0L212.5 224.9M212.5 224.9L212.8 226.1L211.7 227.5L211.1 229.0M211.1 229.0L210.5 230.2L210.1 231.8L209.5 233.5M209.5 233.5L209.1 234.7L209.3 236.7L208.7 237.4M208.7 237.4L208.7 238.8L208.9 240.2L209.2 241.4M209.2 241.4L210.6 243.0L211.1 244.8M211.1 244.8L212.9 245.7M212.9 245.7L214.8 246.7M214.8 246.7L216.0 245.9L217.5 246.4L218.8 245.7M218.8 245.7L220.9 244.8M220.9 244.8L221.2 243.8L221.3 241.7L222.5 240.8M220.6 256.4L218.9 255.9L217.7 255.0M217.7 255.0L216.7 254.0L215.4 252.6L215.1 252.1M215.1 252.1L213.2 251.2M213.2 251.2L212.1 251.7L210.1 252.3M210.1 252.3L209.1 251.0L207.8 251.3L206.3 251.0M206.3 251.0L205.0 250.3L204.0 249.7L202.6 249.4M202.6 249.4L202.0 248.9L200.1 248.1L199.0 247.1M199.0 247.1L198.3 246.5L196.2 246.0M196.2 246.0L194.8 244.4L193.6 243.7M193.6 243.7L192.9 241.4M192.9 241.4L193.7 239.2M193.7 239.2L194.0 237.3L192.9 235.8M192.9 235.8L192.0 234.3L191.2 233.3L190.6 232.4M190.6 232.4L189.5 231.3L188.2 229.7M188.2 229.7L187.7 229.0L187.9 226.7M187.9 226.7L186.5 224.7M186.5 224.7L185.5 223.0L184.3 222.2M184.3 222.2L184.4 220.7L183.7 219.6L183.7 217.7M183.7 217.7L181.8 217.0L181.1 215.9M181.1 215.9L180.4 217.3L180.1 218.8M180.1 218.8L180.8 220.1L181.4 222.2M181.4 222.2L181.9 223.3L182.4 225.6M182.4 225.6L183.4 227.2L183.9 229.0M183.9 229.0L184.7 230.4L184.7 232.4M184.7 232.4L185.0 233.7L186.1 235.3M186.1 235.3L184.7 235.8M184.7 235.8L183.2 233.9L182.6 233.2L181.9 231.9M181.9 231.9L181.3 230.3L182.1 228.5M182.1 228.5L180.9 227.6L179.3 226.3M179.3 226.3L177.8 224.9M177.8 224.9L179.1 223.8L180.1 223.3M180.1 223.3L179.8 222.3L179.1 220.4M179.1 220.4L177.8 218.4M177.8 218.4L177.7 217.4L177.1 215.5L177.3 214.3M177.3 214.3L176.4 212.3L175.9 211.3M175.9 211.3L174.3 210.5L172.4 209.8M172.4 209.8L172.3 207.5M172.3 207.5L172.4 206.0L171.7 204.6M171.7 204.6L171.8 202.3M171.8 202.3L171.6 200.2L171.2 198.5M171.2 198.5L171.4 196.4M171.4 196.4L172.1 196.5L172.5 193.4L173.7 192.9M173.7 192.9L174.4 190.6M174.4 190.6L175.0 189.3L176.5 188.6L176.8 187.4L177.7 186.2M177.7 186.2L178.4 184.8L179.5 183.3M138.2 161.5L137.4 162.3L135.6 161.9L133.5 163.4L133.0 163.2L131.8 163.6M131.8 163.6L130.4 164.0L129.2 164.8L127.3 164.7M127.3 164.7L125.3 165.1L123.6 165.4M123.6 165.4L124.9 164.6L126.4 164.3L127.9 163.2L129.8 163.2M129.8 163.2L130.9 163.6L132.4 162.9L134.2 162.1M143.3 148.2L145.1 148.4L146.0 147.1L147.9 147.0M147.9 147.0L149.4 146.9L151.2 147.0L152.1 146.2M152.1 146.2L154.1 144.6M154.1 144.6L152.5 144.8L151.3 144.4M151.3 144.4L149.0 144.8L147.8 144.5L146.5 144.6M283.3 272.0L285.3 273.2L286.2 274.3M286.2 274.3L286.9 274.6L288.9 274.3L290.2 274.5M290.2 274.5L291.6 274.3L293.2 275.2M293.2 275.2L294.3 275.6L296.1 277.2M296.1 277.2L297.7 278.8M297.7 278.8L298.4 279.6L298.6 280.5L299.0 282.4L300.0 283.8M300.0 283.8L300.2 285.3L300.0 286.7M300.0 286.7L299.0 287.9M299.0 287.9L300.2 288.1L301.8 288.4L303.0 288.5M303.0 288.5L304.0 289.4M304.0 289.4L305.0 289.9L307.3 290.0L308.0 290.3M308.0 290.3L309.4 291.0L311.0 292.4M311.0 292.4L312.0 294.0M312.0 294.0L313.6 293.2L315.0 294.0M315.0 294.0L316.1 293.7L318.0 294.4M318.0 294.4L318.6 294.5L321.1 294.6M321.1 294.6L322.7 295.5L324.1 296.9M324.1 296.9L324.4 298.1L326.1 298.7M326.1 298.7L327.7 299.5L329.5 299.6M329.5 299.6L329.8 301.1L330.0 302.0L330.2 303.7M330.2 303.7L330.6 306.0M330.6 306.0L330.3 307.2L329.7 309.4M329.7 309.4L328.8 310.2L327.4 311.6M327.4 311.6L326.0 312.5L325.5 314.6M325.5 314.6L324.3 315.7L323.6 317.3M323.6 317.3L322.3 318.8L322.7 320.7M322.7 320.7L322.2 322.2L322.9 324.5L322.9 325.2M322.9 325.2L322.7 326.3L322.1 328.6M322.1 328.6L321.2 330.1L321.2 331.6L321.4 333.1M321.4 333.1L320.5 334.7L320.0 335.6L319.7 337.0M319.7 337.0L318.9 338.1L317.9 339.7M317.9 339.7L315.4 339.8L315.0 339.9M315.0 339.9L313.7 340.8L312.2 341.5M312.2 341.5L310.9 342.0L309.4 342.6M309.4 342.6L308.2 344.4L306.7 345.1M306.7 345.1L306.2 347.1L305.8 347.8M305.8 347.8L305.7 348.6L305.8 351.0L306.0 351.9M306.0 351.9L305.1 353.3L304.9 354.5L303.9 355.3M303.9 355.3L303.1 356.8L302.2 357.3L301.6 359.2M301.6 359.2L301.1 360.6L300.2 362.6M300.2 362.6L299.2 364.1L298.7 364.8M298.7 364.8L296.9 366.1L296.2 366.6M296.2 366.6L295.1 366.6L293.3 366.4M293.3 366.4L291.3 365.5L289.9 365.3M289.9 365.3L289.7 365.9M289.7 365.9L290.6 367.3L292.4 368.2M292.4 368.2L293.2 370.5M293.2 370.5L292.7 371.9L292.6 373.9M292.6 373.9L290.6 375.4M290.6 375.4L288.7 376.2L287.2 375.9L288.1 376.1L285.2 376.1M285.2 376.1L285.2 377.5L285.5 379.5M285.5 379.5L283.6 380.6M264.2 377.2L263.6 375.4L263.3 374.7L262.9 372.7M262.9 372.7L263.0 370.9L262.9 370.4L263.2 368.2M263.2 368.2L264.0 367.0L264.3 365.7L264.0 363.7M264.0 363.7L263.8 361.9L263.9 361.2L263.5 359.2L263.2 358.0M263.2 358.0L263.3 356.8L262.6 354.9L262.5 353.5M262.5 353.5L263.0 352.7L262.9 350.6L262.7 349.0M262.7 349.0L263.3 347.0L262.7 345.9L262.8 344.4M262.8 344.4L263.0 343.0L262.8 341.7L262.4 339.9M262.4 339.9L262.8 338.8L262.3 337.3L262.3 335.4M262.3 335.4L262.1 333.7L262.3 332.4L261.7 331.0L261.5 329.5M261.5 329.5L259.8 327.7L258.9 327.0M258.9 327.0L257.6 326.0L255.8 325.6L254.7 324.7M254.7 324.7L253.8 324.1L252.3 322.9L251.2 322.5M251.2 322.5L249.9 321.4L248.7 319.5M248.7 319.5L248.1 318.5L247.5 316.5L247.0 315.5M247.0 315.5L245.7 314.0L245.5 312.7L244.8 311.2M244.8 311.2L243.8 309.6L243.2 307.8L242.5 306.6M242.5 306.6L241.9 305.4L241.4 304.0L240.3 302.6M240.3 302.6L239.3 301.7L237.9 301.4M237.9 301.4L237.9 299.9L237.6 298.0M237.6 298.0L238.6 296.6L239.5 295.5M239.5 295.5L240.1 293.5M240.1 293.5L238.3 292.8M238.3 292.8L238.2 291.7L239.0 290.1M239.0 290.1L240.0 287.9M240.0 287.9L240.0 286.0M240.0 286.0L241.2 285.4L242.4 284.7M242.4 284.7L243.1 282.2M243.1 282.2L245.1 282.0M245.1 282.0L246.0 280.8L245.7 279.2M245.7 279.2L246.2 277.1L245.3 275.4M245.3 275.4L244.9 274.0L245.6 272.7M388.9 206.8L390.0 206.6M390.0 206.6L391.3 207.4L392.5 208.2M392.5 208.2L394.4 208.6L396.2 208.4M396.2 208.4L397.8 207.8L398.9 207.5L400.0 206.8M400.0 206.8L401.0 205.9L402.8 205.2M402.8 205.2L404.4 204.6L405.6 204.6M405.6 204.6L407.3 204.4L409.4 204.6M409.4 204.6L411.5 204.3L413.1 204.1M413.1 204.1L414.8 203.3L416.8 203.7M416.8 203.7L419.0 203.4M419.0 203.4L420.6 204.1M420.6 204.1L419.7 206.4M419.7 206.4L420.4 208.6M420.4 208.6L419.3 210.4M419.3 210.4L420.5 211.8M420.5 211.8L421.8 212.7M421.8 212.7L423.6 212.7L424.7 213.4M424.7 213.4L425.8 213.8L427.5 214.9L429.0 214.7M429.0 214.7L429.9 216.2L430.6 217.0M430.6 217.0L432.5 217.6L433.1 218.1L434.5 218.6M434.5 218.6L436.1 218.9L437.4 219.0M437.4 219.0L438.3 217.7M438.3 217.7L438.2 216.3L438.1 214.7M438.1 214.7L439.5 214.1L440.9 213.4M440.9 213.4L442.1 214.0L443.8 214.1M443.8 214.1L444.9 214.7L446.5 215.7L447.7 216.1M447.7 216.1L449.1 217.1L450.6 215.9L451.6 217.0M451.6 217.0L453.4 217.7L454.4 217.6L455.5 217.9M455.5 217.9L456.8 217.1L458.7 217.0L459.2 216.5M459.2 216.5L461.8 217.0M461.8 217.0L461.7 217.9L462.6 219.9M462.6 219.9L462.4 220.4M462.4 220.4L463.0 222.2L464.3 223.5L464.7 224.5M464.7 224.5L465.7 225.8L466.2 227.1L467.0 229.0M467.0 229.0L467.5 230.3L468.1 231.5L469.2 233.5M469.2 233.5L469.8 235.8M469.8 235.8L470.5 236.8L471.7 238.6L472.5 239.2M472.5 239.2L472.5 240.1L473.1 242.6L473.1 243.7M473.1 243.7L474.1 244.8L475.3 247.0L475.9 247.1M475.9 247.1L476.2 248.7L477.1 249.8L477.6 252.3L478.2 252.8M478.2 252.8L480.0 254.5L481.2 255.0M481.2 255.0L482.1 256.1L483.2 257.5L484.4 258.4M484.4 258.4L486.0 259.6M486.0 259.6L485.5 261.6M485.5 261.6L486.2 263.0L487.4 263.2L488.6 264.1M488.6 264.1L490.1 263.4L492.2 263.4L493.5 262.7M493.5 262.7L495.2 262.6L495.5 262.5L497.4 262.3M497.4 262.3L499.0 261.9L500.7 261.8L501.7 260.9M501.7 260.9L502.1 262.6L501.5 264.3M501.5 264.3L500.8 265.3L501.0 267.4L500.1 268.0L499.7 269.7M499.7 269.7L499.1 271.0L498.6 272.9L497.8 274.3M497.8 274.3L497.1 275.5L496.2 276.3L495.9 277.7M495.9 277.7L495.4 278.6L493.6 279.4L492.3 281.4L492.0 282.2M492.0 282.2L490.9 283.3L489.3 283.8L489.0 284.6L488.0 285.6M488.0 285.6L487.0 286.6L485.4 287.9L485.0 289.0M485.0 289.0L484.3 290.2L483.9 291.1L483.0 292.4M483.0 292.4L481.4 293.6L479.9 294.6M479.9 294.6L480.2 296.4L478.9 298.0M478.9 298.0L478.2 299.9L477.9 301.4M477.9 301.4L478.2 303.1L478.8 304.8L478.8 306.0M478.8 306.0L479.6 308.1L478.3 309.2L478.6 310.5M478.6 310.5L479.8 311.5L480.6 312.7M480.6 312.7L480.7 313.9L480.0 315.7L480.4 317.3M480.4 317.3L480.3 318.8L481.0 320.1L480.6 321.8M480.6 321.8L479.8 323.1L478.6 324.4L478.0 325.7M478.0 325.7L476.9 326.3L475.1 327.0L474.2 327.7L472.9 328.6M472.9 328.6L471.8 330.1L470.8 330.9M470.8 330.9L469.5 331.8L468.8 333.1M468.8 333.1L468.8 335.3L469.3 335.5L469.3 337.6M469.3 337.6L469.6 339.5L469.7 340.5L469.2 342.2M469.2 342.2L467.8 343.6L467.1 344.6L465.6 344.3L464.1 345.6M464.1 345.6L463.9 347.2L463.5 349.0M463.5 349.0L463.3 350.1L462.7 351.7L462.6 352.8M462.6 352.8L461.7 353.7L460.5 354.8L459.5 355.8M459.5 355.8L459.0 356.5L458.1 358.0L457.3 359.2M457.3 359.2L456.2 360.2L455.0 361.0L454.2 362.1M454.2 362.1L452.5 363.0L451.2 364.1M451.2 364.1L449.1 364.9L448.3 364.8M448.3 364.8L447.3 364.6L444.9 365.1L443.5 364.8M443.5 364.8L442.2 364.8L440.7 365.5L439.3 366.0L437.7 366.6M437.7 366.6L436.3 365.7L435.0 365.5M435.0 365.5L435.0 363.8L434.8 362.6M434.8 362.6L434.6 361.3L434.4 359.2M434.4 359.2L433.8 358.2L433.0 356.1L432.7 354.6M432.7 354.6L431.8 352.4M431.8 352.4L431.2 351.2L430.3 349.7L429.5 348.3M429.5 348.3L429.7 345.9L429.2 344.4M429.2 344.4L428.9 342.9L428.5 341.8L428.3 339.9M428.3 339.9L428.0 338.0L427.6 336.8L427.5 335.4M427.5 335.4L426.3 333.6L425.6 333.0L425.7 331.6L424.6 329.7M424.6 329.7L424.0 327.5L423.3 326.3M423.3 326.3L423.6 325.4L423.9 323.6L423.8 321.8M423.8 321.8L424.1 320.8L424.7 319.3L425.5 318.7L425.8 316.8M425.8 316.8L426.3 315.2L426.8 314.6L427.4 312.7M427.4 312.7L426.6 311.0L426.3 309.4L425.9 308.2M425.9 308.2L426.1 306.7L425.6 305.5L425.5 304.0L424.9 302.6M424.9 302.6L424.4 300.3M424.4 300.3L423.9 298.5L423.0 296.9M423.0 296.9L422.0 295.7L421.4 294.5L420.0 293.5M420.0 293.5L419.6 292.6L418.2 291.5L418.0 290.1M418.0 290.1L418.3 288.4L419.0 286.7M419.0 286.7L418.9 285.2L419.0 283.3M419.0 283.3L419.1 281.2L419.6 279.9M419.6 279.9L418.0 278.1M418.0 278.1L417.0 277.4M417.0 277.4L416.1 277.6L414.0 277.9M414.0 277.9L412.0 278.1M412.0 278.1L411.1 276.7L410.0 274.9M410.0 274.9L409.0 273.6M409.0 273.6L407.2 274.0L406.2 274.0L405.0 273.6M405.0 273.6L403.6 273.9L402.0 274.5M402.0 274.5L400.2 274.6L399.1 275.9L398.0 276.1M398.0 276.1L396.0 277.2M396.0 277.2L394.0 276.3M394.0 276.3L392.6 275.7L391.2 275.6L390.0 276.1M390.0 276.1L388.8 276.2L387.3 277.1L386.3 277.4L385.0 277.9M385.0 277.9L383.6 276.9L382.0 276.5M382.0 276.5L380.9 275.9L379.4 274.7L379.1 274.1L378.0 272.9M378.0 272.9L376.4 271.9L375.1 270.9M375.1 270.9L374.4 269.3L373.5 267.5M373.5 267.5L372.9 265.6L371.8 265.7L371.1 264.1M371.1 264.1L370.2 263.0M370.2 263.0L369.1 262.1L368.2 260.7M368.2 260.7L367.6 259.7L366.7 258.4M366.7 258.4L366.7 256.2M366.7 256.2L365.3 254.6M365.3 254.6L366.1 253.0L367.4 251.6M367.4 251.6L367.6 250.9L367.7 248.6L367.9 247.1M367.9 247.1L367.4 245.3L368.3 243.7M368.3 243.7L367.5 241.7L366.7 240.3M366.7 240.3L367.3 238.9L367.7 236.9M367.7 236.9L367.9 235.2L368.8 234.0M368.8 234.0L369.7 232.7L370.8 231.3M370.8 231.3L372.1 229.7L371.9 228.5M371.9 228.5L373.2 227.3L374.3 226.5L374.9 224.9M374.9 224.9L376.9 224.9L377.8 223.8M377.8 223.8L379.4 222.8L380.8 221.3M380.8 221.3L381.4 218.8M381.4 218.8L381.3 216.5M381.3 216.5L382.1 214.9L382.9 213.6M382.9 213.6L384.5 212.5L385.8 211.6M385.8 211.6L386.7 210.7L387.7 209.8M387.7 209.8L388.6 207.7L388.9 206.8M388.9 206.8L388.9 206.8M389.9 206.1L388.2 205.2M388.2 205.2L386.2 203.7M386.2 203.7L384.9 204.1L383.4 204.1M383.4 204.1L383.1 202.0L383.7 200.7M383.7 200.7L382.4 200.0M382.4 200.0L383.1 198.4L383.6 196.9M383.6 196.9L383.6 194.7L384.1 193.3M384.1 193.3L383.1 192.4L383.3 190.6M383.3 190.6L384.4 190.2L385.6 189.0M385.6 189.0L387.4 189.2L388.6 189.6L390.1 189.5M390.1 189.5L391.9 189.9L393.7 189.5M393.7 189.5L394.8 189.9L396.7 189.7M396.7 189.7L397.4 188.2L397.8 187.0M397.8 187.0L397.5 185.5L397.9 183.9M397.9 183.9L396.9 183.7L396.1 181.7M396.1 181.7L394.7 180.4M394.7 180.4L393.8 179.7L392.1 179.7M392.1 179.7L391.8 178.4M391.8 178.4L392.8 177.8L394.7 177.7M394.7 177.7L397.2 178.0M397.2 178.0L396.9 175.8M396.9 175.8L398.1 176.4M398.1 176.4L400.3 176.2M405.2 172.3L406.8 170.7M406.8 170.7L408.0 168.6M408.0 168.6L409.3 167.7M409.3 167.7L411.8 167.5M673.5 143.6L672.6 144.6M672.6 144.6L670.5 144.2M670.5 144.2L672.0 144.7L672.9 145.4L675.1 145.5L675.4 146.8L677.1 146.9L678.7 148.0M678.7 148.0L677.6 147.9L675.9 148.6M675.9 148.6L674.6 149.1L673.1 150.0M673.1 150.0L672.3 152.4L672.3 153.7M672.3 153.7L671.1 153.6L668.9 152.6L667.5 153.3L666.0 153.1M645.6 177.3L645.9 179.0L645.3 180.6M582.6 242.1L581.0 240.3M581.0 240.3L580.3 238.7L579.6 237.4M579.6 237.4L578.5 237.0L577.0 236.9M577.0 236.9L575.6 237.4L574.3 238.5M574.3 238.5L572.4 238.7M572.4 238.7L570.5 239.6M570.5 239.6L570.4 241.4M570.4 241.4L569.0 241.9L568.0 243.0M568.0 243.0L567.6 244.1L566.7 245.2L565.4 246.0M565.4 246.0L564.5 247.3L563.6 248.7L562.5 249.8M562.5 249.8L561.1 250.6L560.2 251.6M560.2 251.6L558.7 252.8M558.7 252.8L559.0 254.4L558.6 256.2M558.6 256.2L559.4 258.2M559.4 258.2L559.2 260.2L558.8 261.8M558.8 261.8L558.3 263.6L558.8 264.5M558.8 264.5L558.4 265.6L557.4 266.8M557.4 266.8L555.8 267.7M555.8 267.7L554.5 269.5M554.5 269.5L553.8 268.6L552.4 267.5M552.4 267.5L552.2 266.0L551.2 264.1M551.2 264.1L550.2 261.8L549.6 260.7M549.6 260.7L548.9 258.7L548.2 257.3M548.2 257.3L546.9 254.9L546.5 253.9M546.5 253.9L545.5 252.6L545.7 251.4L544.7 249.4M544.7 249.4L544.7 247.4L543.3 245.8L543.3 244.8M543.3 244.8L542.8 242.8L543.0 242.0L542.6 240.3M542.6 240.3L542.1 239.2M542.1 239.2L541.2 240.3M541.2 240.3L540.2 240.6L538.3 240.8M538.3 240.8L536.9 239.9L535.3 238.0L535.0 237.6M535.0 237.6L536.8 236.0M536.8 236.0L535.4 235.0L533.7 234.9M533.7 234.9L531.7 234.2L531.1 232.4M531.1 232.4L529.8 231.3M529.8 231.3L527.9 231.0L527.2 230.9L525.5 230.8M525.5 230.8L523.8 230.8L522.1 231.1L520.6 231.0M520.6 231.0L520.1 230.8L517.8 230.6L516.7 230.6M516.7 230.6L515.5 231.0L514.8 229.7L512.7 229.9M512.7 229.9L511.7 228.8L510.4 227.2M510.4 227.2L509.0 226.5M509.0 226.5L507.2 226.9L505.7 227.6M505.7 227.6L503.7 227.4L502.6 226.7M502.6 226.7L500.5 225.6L499.5 224.9M499.5 224.9L498.2 223.2L497.6 221.8M497.6 221.8L496.8 220.0L495.9 219.5M495.9 219.5L493.6 219.3M493.6 219.3L492.2 220.4M492.2 220.4L493.1 222.7M493.1 222.7L493.8 223.9L494.8 225.6M494.8 225.6L495.8 226.3L497.3 227.6M497.3 227.6L497.6 229.9M497.6 229.9L499.1 229.4M499.1 229.4L500.1 230.1M500.1 230.1L500.5 232.4M500.5 232.4L502.3 233.1M502.3 233.1L504.0 233.1L505.3 233.1M505.3 233.1L506.4 232.0L507.5 230.6M507.5 230.6L509.1 228.5M509.1 228.5L508.7 229.9L509.8 231.3M509.8 231.3L510.3 232.8L511.2 233.5M511.2 233.5L512.9 234.2L514.4 234.4M514.4 234.4L515.9 235.7L517.0 236.9M517.0 236.9L516.2 238.1L516.0 239.6M516.0 239.6L514.6 240.9L513.9 241.7M513.9 241.7L513.3 243.4L513.5 244.8M513.5 244.8L512.7 245.8L511.4 247.1M511.4 247.1L510.3 248.6L508.6 249.4M508.6 249.4L507.2 249.6L505.2 250.5L503.8 251.2M503.8 251.2L501.9 251.7L500.9 253.2M500.9 253.2L500.2 254.3L498.6 254.8L497.1 255.7M497.1 255.7L495.5 257.0L494.8 256.5L493.3 257.7M493.3 257.7L491.6 258.6L490.9 258.4L489.3 258.9M489.3 258.9L488.2 258.9L486.4 259.1M486.4 259.1L485.7 257.3M485.7 257.3L485.4 255.8L484.7 253.9M484.7 253.9L484.3 252.3L484.4 250.5M484.4 250.5L482.8 249.5L483.1 247.8L481.8 247.1M481.8 247.1L480.7 246.7L479.9 244.9L479.6 243.7M479.6 243.7L479.2 242.0L478.1 241.0L476.8 239.9M476.8 239.9L476.1 238.7L475.8 236.5L475.2 235.8M475.2 235.8L473.5 234.8L473.6 232.8L472.7 232.4M472.7 232.4L471.5 230.7L470.9 229.0M470.9 229.0L470.7 228.2L469.6 226.9L469.2 226.2L468.0 224.5M468.0 224.5L467.1 222.2L466.9 221.1M466.9 221.1L467.6 222.6L466.6 223.4L466.1 224.9M466.1 224.9L465.4 223.1L464.0 222.7M464.0 222.7L463.5 221.0L462.6 219.9M462.6 219.9L463.1 217.9L461.8 217.0M461.8 217.0L464.1 217.5M464.1 217.5L465.6 216.8M465.6 216.8L465.8 215.9L466.4 214.3M466.4 214.3L467.1 212.3L467.2 211.1M467.2 211.1L467.8 209.6L467.5 207.5M467.5 207.5L467.6 205.0M467.6 205.0L465.7 204.3L464.6 204.8M464.6 204.8L463.7 204.7L461.9 206.1M461.9 206.1L460.2 205.2L459.6 204.8L458.0 204.6M458.0 204.6L457.2 205.7M456.8 194.6L458.6 193.9L460.2 192.9M460.2 192.9L462.1 192.3L463.8 192.9M463.8 192.9L464.8 193.6L466.8 194.4M466.8 194.4L468.2 194.9L469.7 195.1M469.7 195.1L471.3 195.3L473.3 195.1M473.3 195.1L474.2 194.2L475.9 194.0M475.9 194.0L475.3 192.5L475.0 191.1M475.0 191.1L474.0 190.6L472.5 189.5L471.3 189.0M471.3 189.0L469.8 187.6L468.3 187.3M468.3 187.3L466.2 185.7M466.2 185.7L466.6 184.5L467.5 182.8M467.5 182.8L469.0 181.3M469.0 181.3L467.2 181.2L465.5 181.7M465.5 181.7L464.7 182.5L462.8 183.3M462.8 183.3L462.5 184.6M462.5 184.6L464.5 184.9L465.3 185.7M465.3 185.7L463.7 186.4M463.7 186.4L462.4 186.5L461.2 187.5M461.2 187.5L460.0 186.2M460.0 186.2L458.1 185.3M458.1 185.3L459.7 183.9M459.7 183.9L458.7 183.7L456.8 182.8M456.8 182.8L455.0 182.6M420.0 191.7L419.6 191.1L418.6 189.5M418.6 189.5L417.7 188.2M417.7 188.2L415.8 187.5M415.8 187.5L414.4 188.5L413.5 188.8M413.5 188.8L411.8 190.4M411.8 190.4L410.8 190.3L409.0 189.7M409.0 189.7L407.2 189.5M407.2 189.5L405.4 190.2M405.4 190.2L405.8 192.2M405.8 192.2L404.9 193.4L404.0 194.2M404.0 194.2L402.8 194.2L401.5 195.5M401.5 195.5L400.0 197.1L399.4 198.5M399.4 198.5L400.4 200.0M400.4 200.0L399.9 201.0L398.7 202.5M398.7 202.5L397.4 203.7L396.3 204.6M396.3 204.6L395.4 204.5L393.3 205.1L391.8 204.8M391.8 204.8L389.9 206.1M389.9 206.1L389.9 206.1M484.0 185.0L485.7 183.8L487.0 182.8M487.0 182.8L488.7 182.6L490.4 182.2M490.4 182.2L492.1 182.4L494.1 182.8M494.1 182.8L494.7 183.6L494.8 185.5M494.8 185.5L493.7 185.4L492.0 186.2M492.0 186.2L491.7 187.3M491.7 187.3L490.5 187.5M490.5 187.5L491.3 189.0L492.1 190.6M492.1 190.6L494.5 191.3M494.5 191.3L495.4 192.5L496.6 194.0M496.6 194.0L497.3 194.9L498.8 195.5M498.8 195.5L497.8 197.8M497.8 197.8L499.7 199.6M499.7 199.6L499.9 201.0L500.3 202.5L500.6 203.4M500.6 203.4L499.4 203.6L497.3 204.6M497.3 204.6L496.3 203.4L494.3 203.4M494.3 203.4L492.7 202.9L491.3 202.5M491.3 202.5L491.4 201.0L490.8 199.6M490.8 199.6L490.3 198.1L491.1 196.7M491.1 196.7L492.5 196.4M492.5 196.4L491.2 194.9L489.6 194.0M489.6 194.0L488.9 192.7L487.3 191.7M487.3 191.7L486.3 190.8L485.9 189.5M485.9 189.5L485.6 187.9L484.5 187.3M484.5 187.3L484.0 185.0M484.0 185.0L484.0 185.0M373.8 112.8L375.8 114.1M375.8 114.1L376.9 113.7L378.9 114.2L380.4 114.5L381.2 113.7L382.4 113.8L384.7 113.9L385.5 114.1M385.5 114.1L384.4 114.4L382.8 115.6L382.0 115.4L380.5 116.1L378.9 116.4M378.9 116.4L377.3 117.9L375.8 118.7M375.8 118.7L375.2 121.2M375.2 121.2L373.4 122.1L372.1 123.0M372.1 123.0L373.7 124.7M373.7 124.7L371.8 125.3L371.3 126.5M371.3 126.5L369.6 127.9L368.6 129.2M368.6 129.2L368.8 130.6L368.8 132.0M368.8 132.0L367.6 133.1L366.3 133.3M366.3 133.3L365.6 134.1L363.9 134.8M650.0 176.2L651.3 176.9L652.6 177.3M652.6 177.3L652.1 179.0L652.4 180.6M652.4 180.6L653.6 181.3L654.4 182.7L655.3 183.5M559.1 269.7L559.7 267.1L559.7 265.9M559.7 265.9L560.7 267.1L561.8 268.6M561.8 268.6L562.7 270.3L563.2 271.3M563.2 271.3L562.7 273.4M562.7 273.4L561.7 273.5L560.1 274.3M560.1 274.3L559.2 272.0M559.2 272.0L559.1 269.7M559.1 269.7L559.1 269.7M710.9 302.6L710.3 303.2M712.2 303.7L714.1 304.5L715.1 305.5M715.1 305.5L716.5 306.0L717.9 306.6M717.9 306.6L716.5 306.7L715.0 306.0M715.0 306.0L713.5 305.4L712.2 304.1M712.2 304.1L712.2 303.7M712.2 303.7L712.2 303.7M718.1 308.9L720.2 310.0M720.2 310.0L719.2 310.3M719.2 310.3L718.1 309.4M718.1 309.4L718.1 308.9M718.1 308.9L718.1 308.9M719.9 307.1L720.0 308.4L721.2 309.4M721.2 309.4L720.6 309.6M720.6 309.6L719.9 307.5M719.9 307.5L719.9 307.1M719.9 307.1L719.9 307.1M722.1 333.3L723.3 334.5L724.6 335.4M724.6 335.4L725.8 336.2L726.7 338.3M726.7 338.3L725.9 337.4L724.2 336.7M724.2 336.7L723.6 335.9L722.0 333.8M722.0 333.8L722.1 333.3M722.1 333.3L722.1 333.3M623.2 337.2L624.3 336.9L625.9 335.3L627.6 334.9M627.6 334.9L629.2 334.4L629.6 334.5L631.7 333.8M631.7 333.8L633.6 333.1L634.7 333.1M634.7 333.1L636.2 332.8L637.9 332.0M637.9 332.0L638.9 330.8L639.8 329.8L640.9 328.6M640.9 328.6L641.4 326.3M641.4 326.3L643.7 327.0M643.7 327.0L643.9 325.9L645.1 324.7M645.1 324.7L646.6 323.1L647.5 321.8M647.5 321.8L647.8 321.1L649.8 319.5M649.8 319.5L651.2 319.6L652.8 319.5M652.8 319.5L653.8 321.8M653.8 321.8L656.4 321.8M656.4 321.8L657.0 320.7M657.0 320.7L658.1 318.7L658.0 317.3M658.0 317.3L659.8 315.9M659.8 315.9L660.4 315.1L662.3 315.0M662.3 315.0L663.5 313.4M663.5 313.4L664.8 314.2L666.8 315.2L668.2 315.5M668.2 315.5L669.8 315.5L671.8 315.5M671.8 315.5L670.8 316.8L669.8 318.4M669.8 318.4L669.6 319.8L668.3 321.8M668.3 321.8L669.6 323.5L671.0 323.6M671.0 323.6L672.3 324.8L673.4 325.4L674.4 326.3M674.4 326.3L675.8 326.9L677.2 327.5M677.2 327.5L677.9 326.0L678.8 324.1M678.8 324.1L679.8 322.5L680.1 321.0L680.5 319.5M680.5 319.5L680.9 317.7L681.4 316.1M684.2 315.0L684.3 316.5L684.5 317.9L684.5 319.5M684.5 319.5L685.8 320.1L687.2 321.4M687.2 321.4L687.0 323.4L687.5 325.2M687.5 325.2L687.3 326.5L687.8 328.3L687.5 329.7M687.5 329.7L688.5 330.6L690.0 332.0M690.0 332.0L690.4 333.2L692.3 334.9M692.3 334.9L693.1 336.2L694.1 337.3L694.3 338.8M694.3 338.8L694.5 341.5L694.6 341.7M694.6 341.7L694.8 343.1L696.7 344.1L697.1 345.1M697.1 345.1L697.3 347.0L696.7 349.0M696.7 349.0L696.4 350.3L696.1 351.3L695.9 352.8M695.9 352.8L695.2 354.2L693.7 354.9L693.8 356.9L692.8 358.0M692.8 358.0L691.4 359.0L690.7 360.2L689.9 361.4L689.0 362.1M689.0 362.1L687.7 362.7L687.3 363.5L686.2 364.8M686.2 364.8L684.9 366.1L684.0 367.3L683.2 367.9L682.0 369.3M682.0 369.3L680.9 370.8L680.7 372.1L679.8 372.7M679.8 372.7L678.1 372.8L677.1 373.1L675.6 373.6M675.6 373.6L673.9 375.2L673.0 375.3L671.4 376.1M671.4 376.1L669.5 374.5M669.5 374.5L667.9 375.3L666.1 375.7M666.1 375.7L664.8 374.5L663.0 374.5M663.0 374.5L661.2 372.7M661.2 372.7L661.5 371.0L661.9 369.3M661.9 369.3L659.7 368.2M659.7 368.2L661.4 367.0L660.5 365.3L662.1 363.3L662.2 362.6M662.2 362.6L661.4 363.6L659.8 365.4L659.2 366.1L658.3 367.1M658.3 367.1L656.4 367.1M656.4 367.1L655.8 366.4M655.8 366.4L655.6 365.6L655.2 363.9L654.8 362.1M654.8 362.1L653.3 360.9L651.7 360.3M651.7 360.3L649.4 359.5L648.3 359.4M648.3 359.4L647.6 359.8L645.1 359.9L644.1 360.3M644.1 360.3L642.7 360.4L641.6 360.9L640.0 361.0M640.0 361.0L638.8 361.9L637.6 361.5L635.6 362.6M635.6 362.6L634.6 363.6L633.9 364.6M633.9 364.6L632.4 364.1L630.4 364.3L629.2 364.4M629.2 364.4L627.3 365.2L625.8 365.7M625.8 365.7L624.4 366.7L622.5 367.1M622.5 367.1L620.7 366.9L618.9 366.6M618.9 366.6L617.4 365.5M617.4 365.5L618.5 363.7M618.5 363.7L619.4 362.2L620.1 361.3L620.7 360.3M620.7 360.3L620.9 358.3L620.7 357.9L620.8 355.8M620.8 355.8L620.6 354.3L620.8 352.4M620.8 352.4L620.5 351.1L620.6 349.1L620.1 347.8M620.1 347.8L620.3 346.8L620.8 344.5L621.1 343.3M621.1 343.3L622.0 341.5L623.1 340.3L622.4 338.5L623.2 337.2M623.2 337.2L623.2 337.2M665.7 379.9L667.0 380.1L668.5 380.8M668.5 380.8L669.9 380.8L672.0 380.2M672.0 380.2L671.0 380.8L670.5 382.8M670.5 382.8L669.5 384.3L668.0 384.7L667.0 385.8M667.0 385.8L665.4 386.1L664.2 386.4M664.2 386.4L664.3 384.0M664.3 384.0L664.7 382.7L664.7 380.7L665.7 379.9M665.7 379.9L665.7 379.9M498.0 315.0L498.1 316.3L498.3 317.3L499.2 318.5L498.9 320.5L499.4 321.8L499.5 322.9M499.5 322.9L498.7 324.9L497.7 326.3M497.7 326.3L497.4 327.4L496.6 329.1L495.4 330.2L495.9 331.3L495.3 333.1M495.3 333.1L494.1 334.4L494.8 335.5L494.2 337.4L493.4 338.6L492.8 339.9L492.7 341.0M492.7 341.0L492.4 342.6L491.5 344.4M491.5 344.4L489.8 344.8L488.4 345.6M488.4 345.6L486.7 344.9L485.6 344.4M485.6 344.4L485.5 343.0L484.9 342.2L485.2 340.5L485.1 338.8M485.1 338.8L485.8 336.9L486.0 335.6L486.2 334.7L487.0 333.1M487.0 333.1L487.5 331.6L486.7 330.5L486.7 328.6M486.7 328.6L487.4 326.9L487.1 325.9L488.0 324.5M488.0 324.5L489.3 324.0L490.9 323.2L492.0 322.9M492.0 322.9L492.5 321.9L493.7 320.4L494.2 319.6L495.2 318.4M495.2 318.4L496.0 317.7L497.5 316.2L498.0 315.0M498.0 315.0L498.0 315.0M415.0 195.1L416.0 195.0L417.8 195.1M417.8 195.1L417.8 196.2L418.0 197.5L417.8 199.1M417.8 199.1L415.7 199.6M415.7 199.6L415.5 198.0L414.6 196.9L415.0 195.1M415.0 195.1L415.0 195.1M415.6 191.7L417.2 190.6M417.2 190.6L417.2 192.4L417.2 194.0M417.2 194.0L416.1 194.0M416.1 194.0L415.6 191.7M415.6 191.7L415.6 191.7M460.9 208.6L461.8 207.6L463.6 207.2L465.0 207.0M465.0 207.0L464.3 208.6L463.2 209.3M463.2 209.3L460.9 208.6M460.9 208.6L460.9 208.6M295.3 403.9L297.6 403.7L298.3 403.0L300.3 403.4M300.3 403.4L300.1 405.4M300.1 405.4L298.0 405.4L296.7 405.4M296.7 405.4L295.3 403.9M295.3 403.9L295.3 403.9M520.1 398.4L521.6 397.9L523.1 398.6M523.1 398.6L521.8 399.9M521.8 399.9L519.8 399.5M519.8 399.5L520.1 398.4M520.1 398.4L520.1 398.4M336.0 409.3L337.1 409.7L339.5 409.9M339.5 409.9L340.1 411.0M340.1 411.0L338.6 410.1L337.0 409.9M337.0 409.9L336.0 409.3M336.0 409.3L336.0 409.3M93.7 242.1L95.7 243.7M95.7 243.7L93.6 245.1M93.6 245.1L93.4 243.3M93.4 243.3L93.7 242.1M93.7 242.1L93.7 242.1M388.6 149.6L389.8 149.0M389.8 149.0L389.3 150.7M389.3 150.7L388.6 149.6M388.6 149.6L388.6 149.6M264.0 196.0L265.2 195.6L266.6 194.7L268.0 194.9M268.0 194.9L267.9 195.3M267.9 195.3L265.3 196.0L264.3 196.2M264.3 196.2L264.0 196.0M264.0 196.0L264.0 196.0M665.9 185.0L666.0 185.9M666.0 185.9L664.7 187.2L663.1 187.7M667.2 183.9L668.1 182.3L668.8 181.3M668.8 181.3L669.2 178.8L669.5 177.7M669.4 178.2L668.3 179.9L668.8 181.7M668.8 181.7L668.1 182.4L667.2 183.9M667.2 183.9L667.2 183.9M675.7 163.6L676.4 164.5L678.2 164.7M678.2 164.7L677.9 164.9M677.9 164.9L675.7 163.6M675.7 163.6L675.7 163.6M123.5 165.1L124.9 165.1L126.7 164.5M126.7 164.5L126.3 164.9M126.3 164.9L124.8 165.3L123.1 165.6M123.1 165.6L123.5 165.1M123.5 165.1L123.5 165.1M116.3 167.5L117.7 166.7L118.8 167.0L120.1 166.4M120.1 166.4L119.5 167.1M119.5 167.1L118.1 167.4L115.9 167.9M115.9 167.9L116.3 167.5M116.3 167.5L116.3 167.5M112.9 168.8L114.9 168.1L116.0 167.5M116.0 167.5L115.5 167.9M115.5 167.9L113.7 168.4L112.5 169.2M112.5 169.2L112.9 168.8M112.9 168.8L112.9 168.8M101.2 170.5L102.2 170.6L104.1 169.9M104.1 169.9L103.7 170.3M103.7 170.3L102.7 170.9L101.0 170.7M101.0 170.7L101.2 170.5M101.2 170.5L101.2 170.5M95.7 171.4L97.3 170.5L98.6 170.7M98.6 170.7L98.1 171.2M98.1 171.2L96.9 171.6L95.5 171.6M95.5 171.6L95.7 171.4M95.7 171.4L95.7 171.4M694.1 169.0L695.6 168.8M695.6 168.8L695.2 169.2M695.2 169.2L694.1 169.0M694.1 169.0L694.1 169.0M703.3 170.7L705.8 171.2M705.8 171.2L707.4 171.8L708.4 172.1M708.4 172.1L707.1 171.4L705.2 171.4M705.2 171.4L703.3 170.7M703.3 170.7L703.3 170.7M247.9 227.4L250.3 227.9M250.3 227.9L250.0 229.3L248.6 231.3M248.6 231.3L247.7 232.4M248.3 230.8L247.9 229.3L247.9 227.4M247.9 227.4L247.9 227.4M217.0 288.5L218.4 289.0M218.4 289.0L218.0 290.1M218.0 290.1L217.0 289.7M217.0 289.7L217.0 288.5M217.0 288.5L217.0 288.5M505.8 259.3L508.2 259.3M508.2 259.3L507.3 260.0M507.3 260.0L505.8 259.3M505.8 259.3L505.8 259.3M478.3 301.0L479.0 301.9M479.0 301.9L478.4 302.6M478.4 302.6L478.3 301.0M478.3 301.0L478.3 301.0M485.9 313.9L486.4 314.8M486.4 314.8L486.0 315.0M486.0 315.0L485.9 313.9M485.9 313.9L485.9 313.9M583.9 257.3L584.5 258.5L584.8 260.7M584.8 260.7L584.3 261.9L584.6 263.9M584.6 263.9L583.9 261.8M583.9 261.8L583.9 260.3L583.8 258.6L583.9 257.3M583.9 257.3L583.9 257.3M586.9 271.3L587.4 272.5M587.4 272.5L586.7 272.0M586.7 272.0L586.9 271.3M586.9 271.3L586.9 271.3" stroke-width="1.6"/><path d="M146.4 142.4L147.6 142.4L148.4 141.4L149.4 141.3L152.3 139.1L151.9 138.7L153.1 140.3L155.6 137.4L156.0 137.1M207.7 134.8L208.7 134.9L210.2 135.0L211.7 133.6L212.9 133.6L215.0 133.5M215.0 133.5L217.1 132.9M217.1 132.9L218.1 133.7L219.3 134.8M219.3 134.8L221.1 134.2L221.3 133.9L224.0 134.1L225.7 134.2M225.7 134.2L226.9 135.6L228.0 134.1L229.9 135.8M229.9 135.8L230.7 137.9M230.7 137.9L232.2 137.8L233.5 138.4L234.9 137.6L236.0 139.1L238.0 137.9M238.0 137.9L240.3 138.7M240.3 138.7L241.1 138.3L242.1 136.7M242.1 136.7L244.3 136.1L245.0 136.4L246.8 136.3M246.8 136.3L248.5 137.2L249.6 138.1M249.6 138.1L252.5 138.9L252.8 137.8L254.8 138.1M254.8 138.1L257.3 138.3L258.1 136.7M258.1 136.7L258.9 135.7L260.0 135.2L261.9 134.8M261.9 134.8L262.8 132.8L263.7 132.0M263.7 132.0L266.3 131.5L266.4 131.0L267.5 130.1M267.5 130.1L267.4 131.5L268.6 132.9M268.6 132.9L267.7 134.8M267.7 134.8L267.6 136.7M267.6 136.7L268.9 137.6L270.8 135.6L271.7 136.2M271.7 136.2L271.3 138.7M271.3 138.7L272.4 137.7L274.3 136.9L275.2 135.7L276.4 134.8M274.1 141.0L273.8 140.2L271.4 140.6M271.4 140.6L270.5 143.2L268.9 143.8L268.6 144.6M268.6 144.6L267.2 146.1L265.2 145.2M265.2 145.2L262.0 146.8L261.5 146.0M261.5 146.0L259.6 146.7L258.7 147.4L257.3 148.7L255.8 148.6M255.8 148.6L255.0 149.9L253.0 150.5L251.8 151.7L251.3 151.7M251.3 151.7L250.5 153.3L249.8 152.9L248.1 154.2L247.3 155.8M247.3 155.8L249.7 156.5M249.7 156.5L249.7 158.5L248.2 160.0M275.0 159.0L273.8 157.1L273.1 156.5M298.7 159.0L299.0 160.8L299.0 162.1M299.0 162.1L299.8 164.3M299.8 164.3L300.7 164.6L302.7 165.4M302.7 165.4L303.6 167.5M303.6 167.5L303.2 169.2L304.2 170.7M304.2 170.7L302.1 172.1M302.1 172.1L300.5 171.8L299.0 172.0L299.3 173.6L296.7 175.0L296.0 174.7M296.0 174.7L295.4 174.7L292.8 174.5L292.6 174.0L290.2 174.4L289.1 174.5M289.1 174.5L287.9 174.8L286.6 174.4L284.8 175.5L283.3 176.2M283.3 176.2L281.1 175.5L281.2 176.9L280.2 177.2L278.6 179.5M278.2 180.6L279.5 180.2L280.3 178.5L282.2 178.7L283.7 178.4L283.8 177.3L285.2 177.0L286.5 176.9M286.5 176.9L287.5 177.7M287.5 177.7L286.0 177.8L285.2 179.9L283.9 179.5M283.9 179.5L284.9 181.7M284.9 181.7L285.2 183.5M285.2 183.5L287.6 184.4M287.6 184.4L288.6 183.7L290.3 184.4M290.3 184.4L291.4 184.3L293.2 183.5M293.2 183.5L291.6 184.0L290.9 185.5M290.9 185.5L289.8 185.7L287.6 186.1L285.9 187.0M280.8 187.9L282.2 186.8L283.6 185.7M283.6 185.7L282.0 186.3L279.9 186.2M279.9 186.2L278.3 186.4L276.7 187.7M222.5 240.8L223.6 239.9M223.6 239.9L224.9 240.6L226.1 239.3L227.6 239.2M227.6 239.2L229.5 239.2M229.5 239.2L230.0 240.4L227.1 242.3L228.0 243.7M228.0 243.7L226.7 246.0M226.7 246.0L225.8 248.2M225.8 248.2L225.5 250.1L223.9 250.8L224.2 251.9M224.2 251.9L224.8 251.5L226.9 252.1M226.9 252.1L229.2 251.1L229.9 251.9M229.9 251.9L231.4 252.4L232.4 252.2L233.9 252.1M233.9 252.1L235.3 253.9M235.3 253.9L234.9 255.9L234.3 257.3L234.3 258.4M234.3 258.4L234.5 259.4L233.5 261.1L233.5 263.0M233.5 263.0L234.8 265.2M234.8 265.2L234.8 266.9L236.6 267.5M236.6 267.5L238.6 267.9M238.6 267.9L240.8 266.8M240.8 266.8L242.7 266.3M242.7 266.3L244.6 266.8M244.6 266.8L245.9 268.4M245.9 268.4L245.5 269.5L244.6 271.6M244.6 271.6L244.0 270.9M244.0 270.9L243.5 268.6M243.5 268.6L241.6 267.5M241.6 267.5L239.9 269.3M239.9 269.3L240.4 271.1M240.4 271.1L238.5 270.6M238.5 270.6L236.5 269.3M236.5 269.3L234.5 269.1M234.5 269.1L233.4 267.5M233.4 267.5L232.4 265.8L230.8 265.2M230.8 265.2L229.3 264.1M229.3 264.1L229.6 262.7M229.6 262.7L229.3 261.2L227.7 259.3L227.3 258.9M227.3 258.9L226.0 258.0M226.0 258.0L223.4 257.5M223.4 257.5L221.5 257.4L220.6 256.4M143.8 159.4L143.1 159.6L141.3 161.2L139.6 162.3L138.2 161.5M134.2 162.1L135.7 161.4L137.0 160.8L138.7 159.4L139.8 160.0M139.8 160.0L141.0 158.5L142.3 158.5L143.3 156.6L144.9 156.9M144.9 156.9L142.5 156.9M142.5 156.9L140.8 156.2M140.8 156.2L139.8 156.2L138.1 156.5M138.1 156.5L140.1 156.1L141.3 153.6L141.3 153.7M141.3 153.7L139.7 152.7L138.5 152.7M138.5 152.7L138.7 150.7M138.7 150.7L140.5 150.0L140.6 150.2L142.3 147.5L143.3 148.2M146.5 144.6L146.4 142.4M146.4 142.4L146.4 142.4M245.9 268.4L246.9 269.7M246.9 269.7L248.2 268.4L249.0 266.6M249.0 266.6L249.6 265.0L249.8 263.9M249.8 263.9L251.2 263.0M251.2 263.0L253.5 262.3L254.9 261.8M254.9 261.8L256.5 260.1L257.6 259.8M257.6 259.8L258.2 261.8M258.2 261.8L257.0 263.4M257.0 263.4L258.2 261.3L260.4 261.8M260.4 261.8L261.3 260.2M261.3 260.2L261.6 261.0L263.8 262.5M263.8 262.5L264.7 263.9M264.7 263.9L266.1 263.9L268.1 263.0L268.7 263.9M268.7 263.9L271.3 264.1L271.6 264.8M271.6 264.8L273.4 265.3L274.7 263.6M274.7 263.6L276.6 263.6M276.6 263.6L277.5 265.7M277.5 265.7L278.9 266.8M278.9 266.8L280.4 268.6M280.4 268.6L280.9 269.1L282.3 271.3L283.3 272.0M245.6 272.7L244.6 271.6M244.6 271.6L244.9 270.0L245.9 268.4M400.3 176.2L401.9 174.9L402.6 174.9M402.6 174.9L402.9 173.1M402.9 173.1L405.2 172.3M411.8 167.5L414.0 167.1M414.0 167.1L414.6 165.4M414.6 165.4L413.6 163.2M413.6 163.2L413.2 161.1L413.3 160.0M413.3 160.0L415.6 159.4M417.0 161.1L417.9 162.1M417.9 162.1L416.7 164.3M416.7 164.3L418.1 165.8M418.1 165.8L418.5 166.4M418.5 166.4L420.2 166.0M420.2 166.0L422.7 165.6M422.7 165.6L423.9 166.6M423.9 166.6L424.8 165.5L426.9 165.8M426.9 165.8L428.0 165.9L430.1 164.7M430.1 164.7L431.6 165.6M431.6 165.6L433.0 165.4M433.0 165.4L435.0 163.9M435.0 163.9L435.0 162.4L434.6 161.1M434.6 161.1L435.2 159.2M435.2 159.2L436.7 158.6M436.7 158.6L438.2 160.0M438.2 160.0L439.8 159.4M439.8 159.4L439.6 157.3M439.6 157.3L438.0 156.2M438.0 156.2L437.8 155.2M437.8 155.2L440.1 154.8M440.1 154.8L442.1 154.7L443.3 154.8M443.3 154.8L444.8 154.4M444.8 154.4L446.5 153.3L448.3 154.0M448.3 154.0L446.2 153.3M446.2 153.3L444.5 152.7M444.5 152.7L442.5 153.0L441.4 152.9M441.4 152.9L439.1 153.5M439.1 153.5L436.6 154.0M436.6 154.0L435.6 152.3L433.8 152.1M433.8 152.1L433.7 149.6M433.7 149.6L432.9 147.6M432.9 147.6L434.7 146.2M434.7 146.2L436.1 145.4L437.3 144.2M437.3 144.2L438.3 143.0M438.3 143.0L436.9 142.0M436.9 142.0L434.8 142.0L433.6 142.2M433.6 142.2L432.7 144.0M432.7 144.0L432.2 145.6M432.2 145.6L432.5 147.2L429.4 147.2M429.4 147.2L429.3 148.2L427.4 149.2M427.4 149.2L427.2 151.7M427.2 151.7L427.8 152.7M427.8 152.7L430.0 153.7M430.0 153.7L429.8 155.4M429.8 155.4L427.8 156.5M427.8 156.5L426.9 158.3M426.9 158.3L426.9 160.9M426.9 160.9L426.5 161.9M426.5 161.9L424.0 162.1M424.0 162.1L423.6 163.4M423.6 163.4L421.6 163.4M421.6 163.4L421.0 162.1M421.0 162.1L420.6 160.5M447.8 135.0L449.1 134.6L450.9 135.9L452.2 135.4M452.2 135.4L453.6 135.4L455.8 136.4L456.0 136.6L456.6 137.7L458.9 137.9M458.9 137.9L459.7 137.6L461.6 140.0M461.6 140.0L460.0 141.2M460.0 141.2L459.8 142.1L457.1 141.4M457.1 141.4L456.1 140.3L453.8 141.3L454.6 140.0L451.5 140.4M451.5 140.4L449.2 140.2M449.2 140.2L450.3 141.8L452.1 142.6M452.1 142.6L452.9 144.2L453.6 145.0M453.6 145.0L454.7 146.1L456.9 145.8M456.9 145.8L457.4 143.6M457.4 143.6L458.4 143.2L460.7 144.4M460.7 144.4L461.2 142.6M461.2 142.6L462.9 140.8M462.9 140.8L464.7 141.5L466.0 141.2M466.0 141.2L465.5 138.7M465.5 138.7L465.3 138.0L463.6 136.7M463.6 136.7L465.6 137.2L467.4 137.1M467.4 137.1L467.4 138.3L469.2 139.6M469.2 139.6L470.8 138.3M470.8 138.3L472.2 137.4L473.4 137.3M473.4 137.3L474.9 136.5L475.4 136.9L477.2 136.2M477.2 136.2L479.0 136.3L479.9 137.1M479.9 137.1L481.4 138.0L483.3 136.5M483.3 136.5L485.2 136.0L485.8 135.8M485.8 135.8L487.2 134.2M487.2 134.2L488.7 135.8M488.7 135.8L490.2 135.2L491.8 134.9L492.6 135.0M492.6 135.0L493.8 134.7L496.0 135.8M496.0 135.8L498.0 136.7M498.0 136.7L500.4 137.1M500.4 137.1L500.3 135.8M500.3 135.8L498.8 135.4L497.3 134.1L496.3 133.9M496.3 133.9L495.5 132.5L494.6 131.1M494.6 131.1L494.7 128.5L495.5 128.3M495.5 128.3L497.1 128.8L498.1 129.4L499.9 128.7M499.9 128.7L501.0 130.0L502.7 131.1M502.7 131.1L504.4 132.6L503.5 134.3L504.8 134.8M504.8 134.8L505.5 135.5L505.8 136.1L508.1 137.3L508.7 138.7M508.7 138.7L508.7 136.2L507.9 135.8M507.9 135.8L506.3 133.8L507.0 133.1L506.7 133.1L504.4 131.1M504.4 131.1L505.2 129.2M505.2 129.2L506.9 129.4L507.4 129.9L509.1 129.8M509.1 129.8L510.9 129.6L512.5 129.6M512.5 129.6L511.6 128.9L511.0 127.4M511.0 127.4L512.4 127.4L513.4 127.9L515.0 126.9M515.0 126.9L515.9 126.6L517.5 125.1M517.5 125.1L516.8 124.4M516.8 124.4L518.6 125.3L519.4 123.6L521.2 123.5M521.2 123.5L522.7 122.2L524.6 123.6L524.8 123.6L527.1 122.8M527.1 122.8L528.7 122.6L530.3 121.2L531.6 122.1M531.6 122.1L533.5 120.2L534.3 120.1M534.3 120.1L535.7 120.7L537.4 120.3L538.8 121.0L540.4 121.8M540.4 121.8L542.3 122.4L542.8 122.4L544.5 121.5L547.1 122.0L547.4 122.1M547.4 122.1L548.4 121.7L550.2 124.1L551.7 123.8M551.7 123.8L550.9 125.9L550.2 126.5M550.2 126.5L551.7 127.2L554.9 127.9L555.0 127.0M555.0 127.0L556.4 128.0L556.6 128.4L558.6 128.1L559.6 126.9L562.3 127.4M562.3 127.4L563.5 127.2L564.8 127.3L565.8 128.1L568.2 127.9L570.2 127.3L570.3 127.8M570.3 127.8L570.9 127.2L573.5 129.1L573.4 129.2L574.9 129.8L577.0 129.2M577.0 129.2L577.2 129.1L580.2 130.2L580.8 130.7L582.5 131.4L583.4 131.6M583.4 131.6L585.8 130.7M585.8 130.7L586.7 131.7L588.7 131.0L590.5 131.7L591.9 131.1M591.9 131.1L594.4 131.5L596.1 131.5L596.9 131.1M596.9 131.1L595.1 129.2M595.1 129.2L596.5 129.1L598.1 129.2L599.9 130.5L600.9 129.4L601.0 128.4L604.0 129.6M604.0 129.6L607.2 128.2L606.4 130.4L609.0 129.9L610.4 130.7L611.4 130.9M611.4 130.9L613.0 131.9L614.3 131.2L616.6 132.0L617.5 132.2M617.5 132.2L619.4 132.3L620.2 132.8L622.7 131.8M622.7 131.8L624.3 131.6L625.5 132.5L627.3 133.5L626.7 132.6L629.1 133.3M629.1 133.3L631.3 133.0L631.3 134.1L632.8 134.8M632.8 134.8L634.8 135.0L635.8 133.8L636.1 134.1L638.3 134.6M638.3 134.6L639.8 134.3L641.7 134.1M641.7 134.1L642.9 134.5L645.3 134.1M645.3 134.1L646.7 136.0L648.6 135.8M648.6 135.8L650.8 135.4L651.6 135.3L653.5 134.2M653.5 134.2L655.8 135.0L655.8 134.3L657.7 134.5L658.8 134.5L659.5 135.7L661.7 135.8M661.7 135.8L663.2 135.6L664.4 136.9L665.2 139.1L667.1 139.6L667.9 139.3L669.5 140.7L668.8 141.9L671.3 142.3L672.1 142.7L673.5 143.6M666.0 153.1L662.9 152.4L662.4 154.2M662.4 154.2L663.4 155.1L664.8 156.9M664.8 156.9L664.0 158.3M664.0 158.3L666.3 159.1L668.7 159.3L668.1 161.1L669.4 161.7M669.4 161.7L671.1 163.3L670.2 164.3M670.2 164.3L669.4 166.4M669.4 166.4L671.1 168.1M671.1 168.1L669.5 169.0M669.5 169.0L670.4 171.0L670.5 171.1L670.1 172.9M670.1 172.9L669.1 172.8L667.6 170.3L667.2 171.1L666.2 169.4L664.3 168.6M664.3 168.6L663.8 166.4L662.2 167.3L660.7 165.1L659.7 164.3M659.7 164.3L658.2 163.5L657.9 162.3L655.6 160.8L655.8 160.0M655.8 160.0L655.4 157.9M655.4 157.9L655.1 157.3L655.4 155.5L655.6 153.7M655.6 153.7L656.5 153.1L655.8 150.7M655.8 150.7L655.6 148.6M655.6 148.6L654.6 148.8L652.7 150.4L651.9 150.0M651.9 150.0L653.1 151.7M653.1 151.7L651.5 151.3L650.2 151.5L648.7 149.3L647.5 150.9L646.7 150.2M646.7 150.2L647.8 151.3L647.9 153.6L648.7 154.8M648.7 154.8L646.5 154.6L645.1 155.8M645.1 155.8L643.4 154.9L641.7 154.4L639.4 155.1L638.9 154.6M638.9 154.6L637.2 154.6L635.2 156.0L633.7 155.0M633.7 155.0L631.6 155.9L629.9 156.3L629.3 155.4M629.3 155.4L629.1 156.7L628.8 159.0M628.8 159.0L627.8 159.9L627.9 161.5M627.9 161.5L627.3 162.6L626.9 164.9M626.9 164.9L627.7 166.0L629.2 166.3L631.5 166.4M631.5 166.4L633.6 166.9M633.6 166.9L634.3 166.9L636.3 167.1M636.3 167.1L638.2 168.1L639.3 167.3L640.4 169.2M640.4 169.2L640.9 170.1L641.5 172.9L642.1 172.9M642.1 172.9L642.4 173.7L644.5 174.8L644.2 176.3L645.6 177.3M645.3 180.6L645.8 181.3L645.9 183.9M645.9 183.9L645.6 186.0L644.5 187.3M644.5 187.3L643.6 189.2L642.7 190.2M642.7 190.2L640.5 190.7L639.1 190.2M639.1 190.2L638.2 191.7M638.2 191.7L637.3 193.3M637.3 193.3L638.1 195.5M638.1 195.5L637.0 195.5L635.9 197.3M635.9 197.3L635.8 198.9M635.8 198.9L637.3 199.4L638.8 201.2M638.8 201.2L639.6 201.0L641.0 202.6L641.9 204.1M641.9 204.1L643.4 204.5L643.4 206.8M643.4 206.8L643.1 208.4M643.1 208.4L641.1 209.8L640.7 209.3M640.7 209.3L638.8 209.8M638.8 209.8L638.0 208.5L637.7 206.8M637.7 206.8L637.5 205.4L636.7 204.1M636.7 204.1L635.3 204.2L634.3 201.6L632.6 201.8M632.6 201.8L632.4 201.2L631.5 198.5M631.5 198.5L631.2 198.9L629.1 197.3M629.1 197.3L627.9 198.1L626.0 199.6M626.0 199.6L625.1 199.6M625.1 199.6L625.8 198.2L624.2 196.0M624.2 196.0L622.0 195.3M622.0 195.3L621.2 195.4L620.5 197.8M620.5 197.8L618.4 199.1M618.4 199.1L618.3 200.3M618.3 200.3L620.0 202.0L621.3 202.3M621.3 202.3L622.8 203.7M622.8 203.7L625.0 202.3M625.0 202.3L627.1 203.4L628.6 203.2M628.6 203.2L628.8 204.6M628.8 204.6L628.2 205.1L626.1 205.9M626.1 205.9L625.8 205.8L624.7 208.2M624.7 208.2L625.3 209.5M625.3 209.5L626.2 210.5L627.7 210.9M627.7 210.9L628.6 211.7L629.2 213.6L630.3 214.3M630.3 214.3L631.7 215.4L632.5 216.1M632.5 216.1L633.4 217.9M633.4 217.9L632.6 217.8L631.1 219.3M631.1 219.3L633.7 219.8L634.3 220.2M634.3 220.2L633.7 222.4L634.7 223.3M634.7 223.3L633.5 225.1M633.5 225.1L632.4 226.1L633.4 227.6L632.4 229.0M632.4 229.0L631.6 231.3M631.6 231.3L629.9 232.6M629.9 232.6L628.4 234.7M628.4 234.7L626.7 236.0M626.7 236.0L625.4 236.2L623.6 237.1M623.6 237.1L622.1 237.6M622.1 237.6L621.1 237.5L619.4 238.7M619.4 238.7L617.8 239.7L616.6 239.6M616.6 239.6L616.7 241.7M616.7 241.7L616.0 239.9L615.2 239.4M615.2 239.4L613.4 240.3L612.5 238.7M612.5 238.7L611.3 240.7L609.8 240.3M609.8 240.3L608.1 242.0L608.3 243.0M608.3 243.0L608.1 245.3M608.1 245.3L608.8 246.6L610.1 248.2M610.1 248.2L610.7 249.4L612.4 250.5M612.4 250.5L613.8 251.8L614.6 252.1M614.6 252.1L615.5 253.3L615.6 253.9L616.5 256.2M616.5 256.2L617.2 257.8L617.1 259.6M617.1 259.6L616.7 261.8M616.7 261.8L615.8 263.1L613.9 264.1M613.9 264.1L612.4 265.2M612.4 265.2L612.1 266.3M612.1 266.3L611.5 267.9L609.2 268.2M609.2 268.2L609.5 267.1L609.0 265.2M609.0 265.2L607.0 264.1M607.0 264.1L604.9 263.0M604.9 263.0L603.7 260.7M603.7 260.7L602.9 259.7L600.5 259.1M600.5 259.1L600.2 257.3M600.2 257.3L598.4 257.5M598.4 257.5L597.9 259.9L598.5 260.7M598.5 260.7L597.4 262.2L597.6 264.1M597.6 264.1L597.4 264.5L597.8 266.8M597.8 266.8L598.2 267.0L599.7 268.6M599.7 268.6L600.5 271.2L600.5 271.6M600.5 271.6L602.5 272.5M602.5 272.5L604.2 273.8M604.2 273.8L605.7 274.6L606.3 276.5M606.3 276.5L606.8 278.0L606.8 279.9M606.8 279.9L607.3 282.2M607.3 282.2L608.6 284.1L608.4 284.7M608.4 284.7L607.0 284.9M607.0 284.9L605.6 283.2L603.9 282.6M603.9 282.6L602.5 281.1M602.5 281.1L602.7 279.9L600.8 277.7M600.8 277.7L600.7 276.4L600.2 274.3M600.2 274.3L598.9 272.8L598.5 271.3M598.5 271.3L599.0 271.2L596.4 269.7M596.4 269.7L595.8 268.7L595.8 267.0M595.8 267.0L597.2 265.0L596.2 264.1M596.2 264.1L597.4 261.7L596.1 260.7M596.1 260.7L595.8 258.7L595.4 257.6L594.8 256.8M594.8 256.8L595.5 255.9L593.4 253.9M593.4 253.9L593.4 252.6L593.0 250.5M593.0 250.5L591.5 249.6M591.5 249.6L589.7 250.5M589.7 250.5L588.5 252.1M588.5 252.1L586.4 251.6M586.4 251.6L586.6 250.5L586.9 250.0L586.3 247.6M586.3 247.6L585.1 245.6L585.0 244.8M585.0 244.8L583.7 243.2L582.6 242.1M457.2 205.7L455.0 204.8L454.3 204.8M454.3 204.8L451.4 203.9L451.4 204.1M451.4 204.1L450.6 201.8M450.6 201.8L449.2 200.7M449.2 200.7L449.5 198.5M449.5 198.5L448.3 197.3M448.3 197.3L450.6 196.2M450.6 196.2L452.1 195.7L453.2 195.1M453.2 195.1L454.8 195.3L456.8 194.6M455.0 182.6L453.5 184.4M453.5 184.4L453.2 185.7M453.2 185.7L452.8 187.4L451.7 188.4M451.7 188.4L451.6 189.7M451.6 189.7L450.7 191.1M450.7 191.1L450.6 192.0M450.6 192.0L451.6 194.0M451.6 194.0L453.1 194.6M453.1 194.6L451.3 195.1M451.3 195.1L449.6 196.0M449.6 196.0L448.2 196.2M448.2 196.2L447.7 195.5M447.7 195.5L445.9 195.3M445.9 195.3L444.1 195.8M444.1 195.8L443.9 197.3M443.9 197.3L442.1 196.2M442.1 196.2L441.9 198.5M441.9 198.5L443.0 199.6M443.0 199.6L443.1 200.6L444.7 201.8M444.7 201.8L443.8 202.3M443.8 202.3L443.3 203.4M443.3 203.4L443.1 205.2M443.1 205.2L441.8 205.2M441.8 205.2L440.4 204.1M440.4 204.1L439.5 201.8M439.5 201.8L439.0 200.7M439.0 200.7L439.0 200.1L437.3 198.5M437.3 198.5L435.7 197.3L435.7 196.2M435.7 196.2L435.4 194.6L435.6 193.5M435.6 193.5L435.1 192.1L433.6 191.7M433.6 191.7L432.6 190.7L430.8 190.2M430.8 190.2L428.7 190.6L427.9 188.4M427.9 188.4L427.7 187.5L426.5 186.2M426.5 186.2L424.6 184.8M424.6 184.8L424.1 184.6M424.1 184.6L422.2 185.5M422.2 185.5L422.3 187.3M422.3 187.3L423.3 187.7L424.4 189.3M424.4 189.3L425.2 190.8L425.8 191.7M425.8 191.7L426.7 191.5L428.3 192.9M428.3 192.9L429.2 193.3M429.2 193.3L430.6 193.4L431.9 195.7L433.8 196.3L434.1 197.1M434.1 197.1L433.8 197.8M433.8 197.8L431.7 197.0L431.3 196.2M431.3 196.2L430.6 197.8M430.6 197.8L431.7 199.6M431.7 199.6L430.6 200.7M430.6 200.7L429.8 202.1M429.8 202.1L429.2 201.4M429.2 201.4L429.6 199.6M429.6 199.6L428.8 197.3M428.8 197.3L427.6 196.7L426.6 195.8M426.6 195.8L425.8 195.5L423.8 194.4M423.8 194.4L422.3 193.3M422.3 193.3L421.6 192.9L420.0 191.7M138.3 135.8L139.7 136.7M139.7 136.7L141.2 138.7M141.2 138.7L142.8 140.0L144.2 139.6M144.2 139.6L145.0 141.4M145.0 141.4L143.4 141.6L141.6 142.6M141.6 142.6L139.3 143.1L139.1 143.0L137.9 143.9L135.8 142.9L135.2 145.0M135.2 145.0L134.2 144.6L132.8 144.0M132.8 144.0L133.4 143.0M133.4 143.0L132.2 141.2M132.2 141.2L130.3 142.7L128.9 142.0L126.9 143.4L126.5 143.6M126.5 143.6L127.3 143.6L128.8 142.0L130.3 141.0L131.8 140.4L132.3 140.0L132.9 139.2L134.1 137.1L136.3 137.5L137.4 137.4L138.3 135.8M278.6 132.9L276.1 131.9L274.9 131.9L273.6 132.0M273.6 132.0L274.6 130.9L274.6 129.2M230.9 134.8L233.3 135.3L234.0 134.6L234.7 136.7M234.7 136.7L235.6 136.8L238.0 137.0L238.9 137.1L240.8 136.9L242.4 136.3M242.4 136.3L242.6 135.2L245.2 136.4L247.7 137.5L248.4 136.2M248.4 136.2L249.9 135.8L251.3 136.1L252.4 134.8L253.6 134.4M253.6 134.4L255.2 132.9L255.2 132.0M255.2 132.0L255.0 131.4L254.3 128.7M235.6 129.2L234.6 129.7L233.7 130.5L232.1 131.1M232.1 131.1L233.3 132.6M233.3 132.6L232.1 134.0L230.9 134.8M230.9 134.8L230.9 134.8M224.0 130.1L225.8 131.6M225.8 131.6L228.2 131.9L228.1 130.9L230.9 130.9M224.0 130.1L224.0 130.1M256.0 131.1L256.9 131.8L258.1 130.1L260.1 130.5L261.5 130.1L263.1 131.1M256.0 131.1L256.0 131.1M266.1 130.1L267.7 130.8L269.6 130.1M266.1 130.1L266.1 130.1M255.3 135.8L256.3 135.4L257.9 135.7L259.6 136.7M259.6 136.7L260.5 136.0L261.9 134.8M261.9 134.8L260.1 134.4L259.2 133.9M259.2 133.9L258.7 134.1L255.9 134.7L255.3 135.8M255.3 135.8L255.3 135.8M265.7 146.6L267.1 147.5L266.9 148.9L268.8 149.0M273.0 142.6L271.7 142.5L269.9 143.4L268.6 143.6M268.6 143.6L267.9 143.9L265.7 146.0L265.7 146.6M265.7 146.6L265.7 146.6M363.0 142.6L364.0 142.1L366.0 142.0L367.1 140.8M367.1 140.8L368.2 141.6L369.9 142.0M369.9 142.0L371.8 140.9L373.0 141.2M373.0 141.2L373.9 141.8L376.1 140.6M376.1 140.6L378.2 142.0M378.2 142.0L379.5 143.6M379.5 143.6L378.1 144.5L377.0 145.0M377.0 145.0L376.2 146.4L373.9 144.7L372.7 146.4L371.4 146.8M371.4 146.8L369.7 147.3L367.7 146.0M367.7 146.0L365.1 145.6M365.1 145.6L366.5 144.0M366.5 144.0L364.9 144.8L363.5 143.8M363.5 143.8L365.0 144.5L366.0 142.8M366.0 142.8L363.7 142.2L363.0 142.6M363.0 142.6L363.0 142.6M390.1 175.1L392.9 175.3L393.9 174.5M393.9 174.5L395.2 173.9L397.0 173.9L398.3 173.6M398.3 173.6L399.9 173.1L401.1 173.5L402.2 172.7M402.2 172.7L401.2 171.5L402.6 169.7M402.6 169.7L400.5 168.6M400.5 168.6L399.7 166.4M399.7 166.4L398.4 165.1L397.5 164.3M397.5 164.3L396.7 162.1M396.7 162.1L395.0 162.1M395.0 162.1L396.7 161.1L396.7 159.0M396.7 159.0L394.3 158.6M394.3 158.6L395.1 156.7M395.1 156.7L393.2 156.3L391.9 156.7M391.9 156.7L390.8 157.7L390.2 159.0M390.2 159.0L390.6 161.4L390.9 162.1M390.9 162.1L391.6 164.3M391.6 164.3L394.2 164.5M394.2 164.5L394.9 166.4M394.9 166.4L394.9 167.7M394.9 167.7L392.4 167.9M392.4 167.9L392.8 170.1M392.8 170.1L391.1 171.2M391.1 171.2L392.3 171.3L394.0 171.8M394.0 171.8L394.8 172.3M394.8 172.3L393.2 173.1L392.2 172.9M392.2 172.9L391.7 173.9L390.1 175.1M390.1 175.1L390.1 175.1M382.8 171.6L385.4 171.2L386.3 171.4M386.3 171.4L387.9 169.7L389.2 170.3M389.2 170.3L390.3 169.2L389.9 167.5M389.9 167.5L390.8 165.4M390.8 165.4L389.2 163.9M389.2 163.9L387.6 163.8L386.3 163.9M386.3 163.9L385.7 165.6M385.7 165.6L383.2 166.0M383.2 166.0L383.9 168.1M383.9 168.1L383.7 169.0L382.4 170.3M382.4 170.3L382.8 171.6M382.8 171.6L382.8 171.6M647.8 210.9L649.5 209.9L650.5 210.2M650.5 210.2L652.9 209.3M652.9 209.3L655.1 209.5L655.5 210.0M655.5 210.0L657.4 210.7L657.6 212.0M657.6 212.0L658.4 210.4L658.7 209.5M658.7 209.5L659.8 209.1L662.0 209.3M662.0 209.3L664.0 208.6M664.0 208.6L664.7 207.0M664.7 207.0L664.4 206.6L663.6 204.1M663.6 204.1L663.7 202.4L662.7 200.7M662.7 200.7L662.4 198.5M662.4 198.5L661.3 197.3L659.9 197.5L660.2 194.6L659.0 194.4M659.0 194.4L657.3 195.1M657.3 195.1L658.0 197.3M658.0 197.3L658.9 198.0L659.6 200.7M659.6 200.7L659.7 201.8L658.6 203.4M658.6 203.4L656.1 203.0M656.1 203.0L655.8 204.6M655.8 204.6L655.6 206.8M655.6 206.8L653.9 207.3M653.9 207.3L651.8 207.8L650.2 207.5M650.2 207.5L650.7 208.4L648.3 209.5M648.3 209.5L647.8 210.9M647.8 210.9L647.8 210.9M656.0 194.0L656.4 191.7M656.4 191.7L657.0 192.8L658.9 191.9L661.2 192.9M661.2 192.9L661.8 191.3L663.6 190.2M663.6 190.2L662.6 189.3L661.5 187.9M661.5 187.9L660.4 188.2L659.2 187.6L657.4 187.7M657.4 187.7L656.3 185.7L654.7 186.1L653.6 185.3M653.6 185.3L654.5 187.7L655.6 188.7L655.9 189.5M655.9 189.5L654.1 190.2M654.1 190.2L654.5 191.3L655.3 192.9M655.3 192.9L656.0 194.0M656.0 194.0L656.0 194.0M646.6 212.0L648.2 211.3M648.2 211.3L650.5 212.2L650.4 213.1M650.4 213.1L650.2 214.6L651.2 216.5M651.2 216.5L649.6 217.2M649.6 217.2L649.0 216.2L648.1 215.0M648.1 215.0L646.6 213.1M646.6 213.1L646.6 212.0M646.6 212.0L646.6 212.0M650.8 210.9L652.1 210.5L653.4 210.2M653.4 210.2L655.2 211.3M655.2 211.3L654.2 212.2M654.2 212.2L652.9 213.6M652.9 213.6L651.5 212.5M651.5 212.5L650.8 210.9M650.8 210.9L650.8 210.9M638.5 165.8L639.8 167.2L641.3 166.3L642.7 168.6M642.7 168.6L642.8 170.8L644.4 169.3L646.1 172.6L647.0 172.9M647.0 172.9L647.8 173.9L649.1 175.7L650.0 176.2M655.3 183.5L653.0 183.9M653.0 183.9L653.1 182.6L651.6 181.2L651.1 179.9L649.8 179.5M649.8 179.5L647.6 178.3L648.1 176.5L648.1 176.5L646.5 175.1M646.5 175.1L646.4 173.3L644.7 173.3L643.7 171.5L642.6 170.7M642.6 170.7L639.9 170.2L640.2 168.3L639.8 167.3L638.5 165.8M638.5 165.8L638.5 165.8M635.4 230.8L637.4 231.3M637.4 231.3L637.6 232.9L637.2 234.7M637.2 234.7L636.8 235.7L636.5 238.1M636.5 238.1L635.6 237.5L634.7 235.8M634.7 235.8L634.9 233.7L634.8 232.8M634.8 232.8L635.4 230.8M635.4 230.8L635.4 230.8M613.8 244.4L614.8 242.9L616.0 242.4M616.0 242.4L618.2 243.5M618.2 243.5L618.5 245.5L617.4 246.0M617.4 246.0L617.7 246.4L614.7 246.4M614.7 246.4L613.8 244.4M613.8 244.4L613.8 244.4M637.3 246.0L639.5 244.8L640.7 246.2M640.7 246.2L641.7 247.5L641.4 249.4M641.4 249.4L641.3 251.0L640.3 252.1M640.3 252.1L641.6 253.2L642.2 254.0L641.8 255.7M641.8 255.7L644.1 255.9L644.3 256.3L646.0 257.3M646.0 257.3L646.4 259.3M646.4 259.3L645.8 258.9L644.0 257.3M644.0 257.3L641.5 256.6M641.5 256.6L639.4 256.6M639.4 256.6L638.7 254.6M638.7 254.6L637.4 252.8M637.4 252.8L637.7 250.5M637.7 250.5L638.0 248.6L637.7 246.6L637.3 246.0M637.3 246.0L637.3 246.0M643.4 272.0L644.3 270.7L646.5 269.5L646.1 268.4M646.1 268.4L648.1 267.7L648.5 267.2L649.9 265.9M649.9 265.9L650.1 267.5L651.6 269.3L652.2 269.7M652.2 269.7L652.9 272.1L652.1 273.6M652.1 273.6L650.6 274.9M650.6 274.9L649.5 274.3M649.5 274.3L647.5 273.1M647.5 273.1L646.3 270.9M646.3 270.9L645.6 271.5L643.4 272.0M643.4 272.0L643.4 272.0M648.3 259.6L649.5 262.3L650.0 263.0M650.0 263.0L648.8 264.8M648.8 264.8L647.6 263.0M647.6 263.0L648.0 261.3L648.3 259.6M648.3 259.6L648.3 259.6M642.5 261.1L644.3 262.8L645.2 263.0M645.2 263.0L644.8 263.4L645.3 265.7L645.6 267.0M645.6 267.0L643.9 265.7M643.9 265.7L642.8 264.1M642.8 264.1L643.6 263.2L642.5 261.1M642.5 261.1L642.5 261.1M633.6 268.6L633.9 266.8L635.6 266.0L636.5 265.4L636.4 264.2L637.6 262.3M637.6 262.3L637.6 263.9L637.5 265.2M637.5 265.2L636.4 265.6L636.0 268.5L634.2 269.1M634.2 269.1L633.6 268.6M633.6 268.6L633.6 268.6M639.1 257.5L641.2 258.4M641.2 258.4L640.8 260.2M640.8 260.2L639.9 259.1M639.9 259.1L639.1 257.5M639.1 257.5L639.1 257.5M617.9 284.5L619.1 283.3M619.1 283.3L620.0 284.0L621.9 284.2M621.9 284.2L623.0 283.3L622.9 281.5M622.9 281.5L624.8 281.9L625.8 280.6M625.8 280.6L625.9 279.9L627.7 277.7M627.7 277.7L629.9 276.5L630.6 275.9M630.6 275.9L631.6 274.9L632.0 274.2L632.8 272.0M632.8 272.0L634.5 273.6M634.5 273.6L635.4 275.0L636.3 274.6L637.6 276.1M637.6 276.1L636.0 277.8L635.7 278.1M635.7 278.1L635.2 279.9M635.2 279.9L637.1 282.6L635.9 283.3M635.9 283.3L637.0 284.4L638.0 285.6M638.0 285.6L637.0 287.1L635.6 286.7M635.6 286.7L635.2 289.0L635.0 289.7M635.0 289.7L632.9 291.2M632.9 291.2L632.1 291.8L633.3 293.9L632.4 295.8M632.4 295.8L631.8 296.9M631.8 296.9L630.4 296.9L628.8 297.1M628.8 297.1L628.5 296.6L625.8 295.1M625.8 295.1L624.0 294.7L622.8 295.1M622.8 295.1L621.5 294.7L620.3 294.2M620.3 294.2L619.9 294.0L619.9 291.2M619.9 291.2L618.7 288.9L618.4 289.0M618.4 289.0L618.0 286.7M618.0 286.7L617.9 284.5M617.9 284.5L617.9 284.5M590.3 275.2L592.3 276.7L593.7 276.1M593.7 276.1L593.6 276.3L596.0 278.9L596.8 279.2M596.8 279.2L597.9 282.0L597.9 281.5L599.9 282.2M599.9 282.2L601.9 283.3M601.9 283.3L602.6 284.8L605.0 285.6M605.0 285.6L605.4 286.9L607.0 287.9M607.0 287.9L608.0 290.1M608.0 290.1L608.9 292.4M608.9 292.4L610.2 293.6L611.9 294.6M611.9 294.6L613.1 295.4L611.4 297.9L611.8 299.6L611.2 301.0M611.2 301.0L608.6 301.0M608.6 301.0L608.1 301.1L606.0 298.3L605.8 298.0M605.8 298.0L604.2 296.9L603.3 295.5L602.9 294.6M602.9 294.6L602.4 293.4L601.9 292.7L601.0 291.2M601.0 291.2L600.5 290.5L599.8 289.0L599.0 287.9M599.0 287.9L599.5 286.3L597.4 284.5M597.4 284.5L596.1 283.0L594.9 281.7M594.9 281.7L593.8 280.4L592.8 279.5M592.8 279.5L591.2 278.2L591.9 277.3L590.3 275.2M590.3 275.2L590.3 275.2M609.9 303.2L610.9 303.7L611.6 301.2M611.6 301.2L613.4 302.1L613.8 301.9L616.5 302.6M616.5 302.6L618.2 302.9L620.0 302.2L620.5 302.6M620.5 302.6L621.5 302.6M621.5 302.6L623.6 303.3L624.8 303.7M624.8 303.7L626.8 304.6L627.8 305.3L628.3 305.5M628.3 305.5L628.2 307.5M628.2 307.5L626.2 307.4L625.4 307.7L623.3 306.6M623.3 306.6L622.2 306.0L619.8 306.7L619.3 306.0M619.3 306.0L618.3 305.2L617.0 305.4L615.4 305.5M615.4 305.5L613.2 304.4L612.4 304.6M612.4 304.6L611.2 304.2L609.9 303.2M609.9 303.2L609.9 303.2M629.3 306.4L630.7 306.8L632.0 306.2L633.2 306.4M633.2 306.4L635.1 306.6L636.2 306.1L637.2 306.6M637.2 306.6L639.8 306.9L640.0 306.9L641.2 306.9M641.2 306.9L642.6 306.7L644.1 305.8L645.2 306.4M645.2 306.4L645.1 307.5M645.1 307.5L644.2 306.7L641.5 307.6L641.5 308.8L639.1 308.0M639.1 308.0L636.9 306.3L637.1 307.9L634.8 307.4L633.1 308.2M633.1 308.2L631.2 306.5L630.5 307.5L629.2 307.8M629.2 307.8L629.3 306.4M629.3 306.4L629.3 306.4M645.8 311.2L646.4 309.8L648.4 309.2L649.0 308.2M649.0 308.2L650.0 307.4L651.9 307.6L653.1 306.9M653.1 306.9L651.3 307.8L651.0 308.9M651.0 308.9L649.8 309.6L647.8 310.9M647.8 310.9L645.8 311.2M645.8 311.2L645.8 311.2M637.0 309.4L637.6 309.3L640.0 309.8M640.0 309.8L640.4 310.9M640.4 310.9L637.9 310.5M637.9 310.5L637.0 309.4M637.0 309.4L637.0 309.4M639.6 286.0L641.5 284.9M641.5 284.9L643.9 284.3L645.0 285.6M645.0 285.6L647.3 285.0L647.4 284.7L648.9 284.5M648.9 284.5L650.3 284.5M650.3 284.5L648.6 285.6L648.0 286.9M648.0 286.9L645.3 286.8L643.9 286.7L643.0 286.7M643.0 286.7L642.2 287.3L640.4 287.9M640.4 287.9L640.4 289.9M640.4 289.9L643.2 289.6L643.0 290.1M643.0 290.1L643.7 289.9L646.0 289.9M646.0 289.9L646.6 290.1M646.6 290.1L645.2 289.8L645.5 290.0L642.9 291.9M642.9 291.9L643.5 293.6L644.7 294.9L645.4 295.8M645.4 295.8L644.9 296.5L644.9 299.2L645.6 300.3M645.6 300.3L643.7 299.2M643.7 299.2L642.8 296.9M642.8 296.9L643.0 295.1L641.9 294.2M641.9 294.2L640.6 294.6M640.6 294.6L640.4 296.6L639.6 297.2L640.5 298.9L640.4 300.3M640.4 300.3L638.6 300.3M638.6 300.3L638.2 298.8L639.2 297.3L638.8 295.8M638.8 295.8L637.5 294.0M637.5 294.0L638.2 292.7L638.4 290.3L639.7 289.9L639.6 288.1M639.6 288.1L639.6 286.0M639.6 286.0L639.6 286.0M654.9 283.3L655.9 284.5M655.9 284.5L657.3 284.5M657.3 284.5L657.0 286.7M657.0 286.7L656.4 288.4L656.0 289.7M656.0 289.7L656.6 288.2L655.2 286.0M655.2 286.0L655.2 284.2L654.9 283.3M654.9 283.3L654.9 283.3M655.8 294.6L656.7 293.4L658.8 294.2M658.8 294.2L659.6 295.1L661.4 295.8M661.4 295.8L658.8 295.5M658.8 295.5L656.9 295.9L655.8 295.5M655.8 295.5L655.8 294.6M655.8 294.6L655.8 294.6M651.8 295.1L654.2 295.3M654.2 295.3L653.4 296.5M653.4 296.5L651.8 295.8M651.8 295.8L651.8 295.1M651.8 295.1L651.8 295.1M662.0 289.7L662.9 290.8L665.0 288.8M665.0 288.8L666.0 288.7L668.0 289.7M668.0 289.7L668.7 291.4L668.3 293.5M668.3 293.5L669.8 295.3M669.8 295.3L671.1 294.8L671.8 294.3L672.9 292.8M672.9 292.8L674.5 290.8L675.9 291.7M675.9 291.7L678.2 292.0L678.7 292.5L680.6 293.0L681.9 293.7M681.9 293.7L683.5 294.8L683.8 294.5L685.8 295.5M685.8 295.5L687.4 297.2L688.7 296.6L689.7 297.6M689.7 297.6L689.9 298.9L691.1 300.3M691.1 300.3L693.1 300.3L694.4 301.4M694.4 301.4L694.9 303.7M694.9 303.7L694.9 305.3L695.9 306.6L695.9 307.8M695.9 307.8L697.1 309.2L697.6 310.5M697.6 310.5L698.4 311.5L700.1 311.2M700.1 311.2L699.1 311.1L696.6 311.2M696.6 311.2L694.5 310.1L693.6 310.5M693.6 310.5L692.0 308.6L691.9 307.8M691.9 307.8L690.9 307.2L690.4 305.7L688.2 305.1M688.2 305.1L688.2 306.2L686.0 307.1M686.0 307.1L684.9 308.7M684.9 308.7L683.7 308.6L681.1 309.1L680.9 308.4M680.9 308.4L679.8 307.2L678.1 306.0M678.1 306.0L676.7 306.4L675.1 306.6M675.1 306.6L675.4 305.6L676.7 303.7M676.7 303.7L676.5 302.3L675.5 300.3M675.5 300.3L674.2 299.7L673.5 298.1L671.7 298.3M671.7 298.3L671.4 296.9L669.5 297.7L667.7 296.7M667.7 296.7L665.3 296.9M665.3 296.9L664.4 295.7L663.8 294.2M663.8 294.2L665.1 294.1L666.9 293.1M666.9 293.1L664.5 293.3L663.9 292.4M663.9 292.4L663.2 289.5L662.0 289.7M662.0 289.7L662.0 289.7M696.5 300.3L697.9 298.4L699.6 299.2M699.6 299.2L701.6 298.1L702.2 298.2L703.7 297.4M703.7 297.4L704.0 299.2M704.0 299.2L702.3 300.5L701.4 301.4M701.4 301.4L700.2 301.6L698.7 302.6L697.4 301.9M697.4 301.9L696.5 300.3M696.5 300.3L696.5 300.3M701.4 293.7L702.7 294.9L704.8 295.8M704.8 295.8L705.6 298.0M705.6 298.0L704.7 296.9M704.7 296.9L702.9 295.2L702.3 296.0L701.4 294.2M701.4 294.2L701.4 293.7M701.4 293.7L701.4 293.7M708.9 300.3L710.3 301.2L710.9 302.6M710.3 303.2L708.3 302.1L708.8 301.0M708.8 301.0L708.9 300.3M708.9 300.3L708.9 300.3M681.4 316.1L681.8 314.3L682.9 314.0L683.1 312.3M683.1 312.3L683.7 313.9L684.2 315.0M726.4 365.7L727.5 366.3L728.2 367.8M728.2 367.8L728.0 369.0L728.8 370.5M728.8 370.5L728.2 373.0M728.2 373.0L728.7 373.1L731.9 373.0M731.9 373.0L732.2 373.9M732.2 373.9L730.5 374.1L730.3 375.5L727.9 376.8M727.9 376.8L726.9 377.5M726.9 377.5L725.1 378.9L724.5 379.5M724.5 379.5L723.7 380.9L721.4 381.4L720.4 382.0M720.4 382.0L719.8 381.3M719.8 381.3L720.7 379.7L722.1 379.0M722.1 379.0L721.5 376.8M721.5 376.8L723.1 375.9L724.2 375.0M724.2 375.0L725.4 373.3L726.2 372.3M726.2 372.3L725.9 371.7L726.8 369.5L727.0 368.0L726.7 367.1M726.7 367.1L726.4 365.7M726.4 365.7L726.4 365.7M717.5 379.5L719.1 381.1M719.1 381.1L718.0 382.4M718.0 382.4L716.8 382.5L715.7 384.2L713.9 384.6L713.4 385.5M713.4 385.5L711.9 386.9M711.9 386.9L709.3 387.7L708.3 388.0M708.3 388.0L706.3 388.5L706.2 391.0L704.7 391.3M704.7 391.3L703.6 392.0L700.6 392.7L700.9 393.1M700.9 393.1L698.7 392.9M698.7 392.9L696.6 391.8M696.6 391.8L697.8 391.1L698.7 390.0L700.6 389.1M700.6 389.1L702.2 387.8L703.8 387.3M703.8 387.3L704.2 386.7L706.9 386.5L708.0 385.9L709.2 385.1M709.2 385.1L710.8 384.9L711.7 383.5L712.8 382.8M712.8 382.8L714.8 382.3L714.5 381.5L716.1 380.2M716.1 380.2L717.5 379.5M717.5 379.5L717.5 379.5M233.5 238.5L235.9 236.6L236.5 236.2L237.8 235.8M237.8 235.8L238.8 237.0L241.2 235.9L241.8 235.6M241.8 235.6L242.9 235.9L244.6 237.1L245.5 237.1M245.5 237.1L246.7 238.8L247.7 240.0L249.1 239.2M249.1 239.2L250.8 240.5L251.9 241.0M251.9 241.0L252.7 241.1L254.3 242.1M254.3 242.1L252.6 242.8M252.6 242.8L251.8 242.7L248.0 242.4L247.7 242.8M247.7 242.8L247.0 241.0M247.0 241.0L245.2 239.2M245.2 239.2L243.4 238.0L242.2 237.5L240.5 237.6M240.5 237.6L238.7 236.7M238.7 236.7L237.6 236.6L235.6 238.1M235.6 238.1L233.5 238.5M233.5 238.5L233.5 238.5M253.5 246.0L254.1 244.4L256.7 244.8L256.6 242.8M256.6 242.8L258.6 242.6L258.5 241.7L260.5 243.0M260.5 243.0L262.3 243.1L263.3 244.2M263.3 244.2L265.3 245.7M265.3 245.7L263.1 246.2M263.1 246.2L262.7 246.1L260.1 246.7M260.1 246.7L258.6 247.8M258.6 247.8L256.8 246.7L256.2 246.7M256.2 246.7L254.5 246.1L253.5 246.0M253.5 246.0L253.5 246.0M245.7 246.4L247.9 246.7L248.1 246.2L249.6 247.1M249.6 247.1L247.2 247.6M247.2 247.6L245.7 246.4M245.7 246.4L245.7 246.4M267.6 246.2L269.0 247.0L270.6 246.4M270.6 246.4L268.9 247.3M268.9 247.3L267.6 246.2M267.6 246.2L267.6 246.2M295.5 180.2L296.8 178.6L297.2 177.8L298.6 176.5L299.0 175.0L300.0 175.0L300.5 174.0M300.5 174.0L302.9 172.9L304.2 171.3L304.4 171.8M304.4 171.8L304.2 172.8L303.7 175.1M303.7 175.1L305.2 176.5L306.6 176.9M306.6 176.9L306.6 178.3L307.0 180.6M307.0 180.6L305.0 181.5L304.7 182.4M304.7 182.4L302.7 182.3L301.7 181.7M301.7 181.7L299.2 180.7L298.6 180.4M298.6 180.4L296.5 181.8L295.5 180.2M295.5 180.2L295.5 180.2M473.1 132.0L475.3 131.5L476.2 132.4M476.2 132.4L477.8 133.8L479.2 132.8L481.2 132.6M481.2 132.6L480.0 131.6L479.2 130.0L477.3 129.2M477.3 129.2L477.1 127.3L476.5 126.5M476.5 126.5L477.8 125.0L478.6 124.0L479.6 123.0M479.6 123.0L479.2 121.0L480.6 122.4L484.3 122.4L485.0 121.2L486.4 121.6M486.4 121.6L488.4 122.3L489.7 121.6M489.7 121.6L488.6 122.9L486.6 123.5M486.6 123.5L484.9 123.4L483.8 124.6L482.3 126.0L481.4 125.6M481.4 125.6L480.7 126.1L479.1 127.4M479.1 127.4L478.7 128.2L477.1 130.1M477.1 130.1L475.8 130.4L473.6 130.1M473.6 130.1L473.1 132.0M473.1 132.0L473.1 132.0M521.3 117.9L522.7 117.7L524.3 119.1L526.9 118.8L527.8 119.6L528.5 119.6M528.5 119.6L530.2 119.3L532.2 118.8L532.3 120.1L533.8 118.7M533.8 118.7L532.3 119.1L531.3 117.5L529.2 116.4M529.2 116.4L527.1 116.2L526.5 115.3L525.5 115.8L523.2 115.5L522.0 115.3L521.7 115.3L519.8 114.9M519.8 114.9L520.5 116.8L521.3 117.9M521.3 117.9L521.3 117.9M583.1 123.8L584.5 123.4L586.1 124.8L588.1 124.1L589.0 125.1M589.0 125.1L590.1 124.9L590.3 124.7L593.9 125.1L594.7 124.4M594.7 124.4L596.1 125.0L597.6 125.2L598.6 123.9L599.6 124.1L601.4 124.4M601.4 124.4L599.7 123.8L599.2 123.9L598.0 123.4L596.6 125.0L595.0 123.0M595.0 123.0L594.5 123.0L591.2 122.3L591.3 123.4L588.7 123.2L589.0 122.9L586.9 122.2L585.1 122.6M585.1 122.6L583.1 123.8M583.1 123.8L583.1 123.8M457.9 115.6L459.3 115.6L460.4 115.3L462.1 115.2L463.4 116.1L465.0 116.3L465.9 116.2L467.1 115.7L468.3 116.4M468.3 116.4L469.2 115.8L471.9 116.6L473.4 115.4L473.9 115.6L476.0 115.2M476.0 115.2L476.0 115.3L472.8 115.0L470.5 115.1L470.0 113.9M470.0 113.9L469.0 114.2L467.5 113.5L464.7 115.3L463.4 115.2L462.1 114.3L461.1 114.9M461.1 114.9L459.5 114.2L457.9 115.6M457.9 115.6L457.9 115.6M146.0 131.1L147.1 130.9L148.8 131.1M148.8 131.1L147.9 132.0M147.9 132.0L145.2 131.7L144.1 132.2M144.1 132.2L146.0 131.1M653.1 131.6L654.0 131.1M654.0 131.1L655.9 132.2M655.9 132.2L654.6 132.2L653.1 131.6M653.1 131.6L653.1 131.6M423.3 201.8L424.9 200.6L425.9 201.3L428.1 202.0L429.0 201.2M429.0 201.2L429.1 203.1L428.3 204.8M428.3 204.8L426.9 205.2L426.7 202.8L425.8 203.5L423.3 202.7M423.3 202.7L423.3 201.8M423.3 201.8L423.3 201.8M444.2 207.5L444.9 208.1L446.9 208.9L448.0 208.4L449.5 208.2M449.5 208.2L448.5 208.3L446.2 208.8M446.2 208.8L444.2 207.5M444.2 207.5L444.2 207.5M387.7 160.0L389.5 158.8L389.9 157.1M389.9 157.1L388.6 157.3M388.6 157.3L387.6 159.0M387.6 159.0L387.7 160.0M387.7 160.0L387.7 160.0M394.7 155.8L396.0 155.2M396.0 155.2L397.6 154.6L398.1 153.1M398.1 153.1L397.6 152.5M397.6 152.5L396.9 154.0L395.2 155.2M395.2 155.2L394.7 155.8M394.7 155.8L394.7 155.8M288.0 175.3L290.4 176.9L290.8 175.1L291.9 176.4M291.9 176.4L292.1 177.1M292.1 177.1L290.0 177.5L288.6 176.0M288.6 176.0L288.0 175.3M288.0 175.3L288.0 175.3M286.0 182.2L288.7 182.3L289.5 183.0M289.5 183.0L288.7 183.9M288.7 183.9L286.3 183.0M286.3 183.0L286.0 182.2M286.0 182.2L286.0 182.2M429.7 159.8L430.9 158.1M430.9 158.1L430.8 159.4M430.8 159.4L429.7 159.8M429.7 159.8L429.7 159.8M418.6 162.8L420.7 161.9M420.7 161.9L420.5 163.9M420.5 163.9L418.7 163.9M418.7 163.9L418.6 162.8M418.6 162.8L418.6 162.8M662.5 187.3L662.7 185.5L664.7 185.7L665.9 185.0M663.1 187.7L662.5 187.3M662.5 187.3L662.5 187.3M669.5 177.7L669.9 175.4L669.3 174.5M669.3 174.5L669.0 174.7M669.0 174.7L668.7 176.1L669.4 178.2M133.3 153.3L134.7 153.1L136.3 152.9M136.3 152.9L135.1 154.0M135.1 154.0L132.8 154.2M132.8 154.2L133.3 153.3M133.3 153.3L133.3 153.3M135.0 146.6L137.7 146.3L137.9 146.4M137.9 146.4L139.0 147.0M139.0 147.0L136.8 147.2L135.5 147.6M135.5 147.6L135.0 146.6M135.0 146.6L135.0 146.6M276.9 263.4L278.6 263.4M278.6 263.4L278.6 265.0M278.6 265.0L276.8 265.0M276.8 265.0L276.9 263.4M276.9 263.4L276.9 263.4M278.5 250.7L278.7 251.7L278.9 253.4M278.9 253.4L279.3 255.0M279.3 255.0L279.0 256.8M279.0 256.8L278.4 258.0M278.4 258.0L278.9 256.3L278.8 254.8M278.8 254.8L279.7 252.4L278.2 251.2M278.2 251.2L278.5 250.7M278.5 250.7L278.5 250.7M247.7 232.4L248.9 233.5M248.9 233.5L248.1 232.9L248.3 230.8M594.4 284.5L595.8 286.5M595.8 286.5L595.0 286.0M595.0 286.0L594.4 284.5M594.4 284.5L594.4 284.5M597.4 290.1L598.5 291.9M598.5 291.9L598.3 292.6L600.5 294.6M600.5 294.6L599.5 293.7M599.5 293.7L599.1 291.4L597.4 290.8M597.4 290.8L597.4 290.1M597.4 290.1L597.4 290.1M610.3 291.5L610.7 292.1L613.3 293.5M613.3 293.5L612.3 294.6M612.3 294.6L611.5 294.3L610.5 292.4M610.5 292.4L610.3 291.5M610.3 291.5L610.3 291.5M193.5 454.4L195.4 455.1L196.1 455.5L196.5 455.1L200.2 455.9L201.0 454.6L203.2 455.3L204.3 455.4L206.3 456.2L207.5 454.5L207.8 455.6L210.8 455.6L213.1 455.6L213.9 455.6L215.8 455.6L218.2 455.9L218.5 455.1L221.0 455.0M195.5 456.8L196.2 458.2L197.0 457.1L198.2 458.6L202.6 457.6L203.9 457.5L204.4 458.8L206.8 459.9L207.0 459.7L210.0 459.0M192.1 461.6L193.5 460.1L196.0 461.4L197.3 460.2L198.8 461.2L201.4 461.3L201.3 460.6L204.0 460.7L205.9 460.5L207.4 462.2L208.9 462.8L211.3 460.2L213.2 461.4L213.7 461.8L213.6 461.7L217.4 462.3L219.0 461.6M195.7 465.3L197.1 463.0L201.1 464.8L201.2 464.4L202.1 464.8L203.7 466.1L205.8 465.4L206.0 465.4L208.0 463.9L211.6 465.1L213.0 465.1L213.7 464.2L215.6 465.2L218.0 465.6L219.1 465.8L221.0 465.6M197.0 455.3L198.6 456.9L199.9 456.5L202.3 456.0L204.2 456.6L205.4 456.5L207.2 457.1L209.0 456.3L210.0 456.7L211.5 457.5L214.0 456.7L215.0 457.0M194.7 462.0L195.6 463.2L197.5 462.0L200.3 463.3L200.3 462.8L202.5 463.2L205.4 462.0L205.6 463.5L206.7 463.1L209.7 463.0L210.7 462.8L212.9 462.6L213.7 463.0L215.9 464.3L216.1 463.5L218.7 463.1L220.6 463.5L222.0 463.4M205.3 452.7L206.7 452.5L209.2 452.3L209.6 452.6L212.4 453.4L212.8 451.8L215.2 452.9L216.3 452.9L218.7 452.6L220.5 453.0L222.0 452.8M200.8 455.8L201.0 454.3L202.3 454.5L204.0 453.9L204.4 453.3L206.8 452.8L208.8 451.4L210.2 452.4L212.2 452.1L213.9 451.2L216.2 450.0L216.9 449.2L219.6 448.4L220.9 448.7L220.8 447.5L224.5 447.9L225.6 449.4L226.9 448.0L229.6 448.0L229.5 448.3L232.4 448.3L236.6 447.3L237.6 450.2L237.0 449.0L237.5 449.6L239.4 449.9L241.9 450.4L243.5 449.4L248.8 451.5L246.1 450.4L250.5 450.8L249.8 451.2L252.4 448.2L253.0 448.3L255.4 448.2L256.9 448.7L258.3 446.4L258.5 447.3L263.6 446.4L263.1 447.9L266.7 446.1L267.6 446.1L269.5 447.3L267.4 451.3L269.7 449.8L272.4 448.3L272.1 449.8L274.6 447.3L276.7 445.5L275.6 448.3L278.0 445.8L282.3 447.5L283.3 446.8L283.2 446.5L286.2 446.7L289.5 446.8L288.7 446.2L290.4 447.3L292.4 445.7L294.1 446.9L295.6 445.3L295.0 443.7L295.9 441.8L294.4 439.4L298.8 437.8L298.4 435.8L298.2 434.8L301.0 432.4L301.0 429.9L303.7 430.5L305.0 429.4L306.4 428.0L307.4 425.0L309.9 427.9L308.6 426.7L313.0 424.7L311.6 426.8L309.5 427.7L311.5 430.5L309.7 432.0L310.4 433.1L310.0 437.0L311.6 438.8L313.0 438.5L312.4 440.8L313.9 441.8L315.9 442.8L316.1 446.6L316.6 445.4L319.4 448.8L317.5 451.2L314.9 451.1L313.0 451.3L311.6 451.9L309.5 452.5L309.0 451.2L306.1 452.5L303.9 450.0L305.4 450.3L301.8 449.2L300.4 450.2L297.0 450.3L297.0 447.1L295.0 447.6L294.0 448.0M291.1 457.0L293.4 457.2L295.8 457.7L297.0 459.2L299.2 458.8L300.4 459.6L303.1 459.8L303.2 457.9L305.3 459.0L306.8 458.4L309.0 458.7L309.5 458.2L311.4 458.1L312.9 459.6L315.5 460.7L316.6 460.9L318.9 461.8L320.3 463.0L321.5 462.9L324.9 462.4L325.2 462.4L326.3 463.2L328.1 463.6L330.4 464.3L330.8 464.0L332.7 463.1L335.4 462.2L335.8 463.1L337.1 462.4L339.6 461.2L341.3 462.3L343.4 460.9L344.6 461.9L346.1 462.0L348.2 462.1L349.2 461.4L350.3 462.0L352.3 459.9L353.4 460.4L355.9 458.5L357.6 459.2L359.1 459.4L360.5 460.0L363.0 459.9L364.3 458.5L367.3 458.7L366.7 458.8L368.9 459.5L371.1 459.0L368.9 458.0L367.8 457.5L366.6 458.2L363.1 457.8L362.5 456.7L360.5 456.6L358.5 456.2L357.5 456.6L356.5 457.0L353.2 455.1L356.9 455.9L358.6 455.0L358.4 453.3L360.8 453.5L362.6 452.9L364.3 452.5L365.8 452.7L368.4 451.3L369.6 451.0L371.0 450.4L373.5 449.4L376.4 448.3L376.8 447.2L379.5 447.5L380.6 446.4L382.5 445.3L384.7 444.2L385.3 443.2L388.3 443.1L390.2 443.1L391.7 441.1L394.0 441.8L394.7 442.5L396.5 442.5L399.0 442.8L400.7 443.8L400.8 443.1L402.9 443.8L406.4 442.4L407.3 442.4L409.5 441.2L411.4 442.5L412.8 441.2L413.9 441.7L416.0 441.6L416.4 441.7L418.2 441.4L421.6 440.5L421.6 442.3L424.6 441.8L424.4 443.0L427.3 442.1L427.9 443.3L430.2 442.7L431.2 443.1L433.0 443.4L434.3 443.1L437.0 443.3L437.8 442.9L440.2 441.8L441.0 441.8L443.0 440.7L444.5 441.0L446.8 440.3L447.9 439.2L450.3 439.2L451.8 439.8L454.5 439.5L455.6 438.5L457.4 439.6L458.0 438.4L460.7 438.4L462.3 437.8L464.1 437.7L465.0 436.9L468.7 438.0L468.8 437.0L471.8 437.0L472.8 436.2L473.7 434.4L475.7 434.8L477.9 433.9L480.0 434.1L481.9 434.5L482.7 434.7L485.4 434.9L485.9 435.7L488.1 434.9L489.7 436.5L492.0 436.7L493.5 438.2L495.3 436.9L496.3 438.5L499.0 437.7L501.0 437.4L501.7 437.9L501.1 438.9L498.5 440.8L498.4 441.4L497.3 443.3L495.5 443.8L493.6 445.0L493.1 447.3L492.4 447.7L493.7 445.9L495.2 446.6L496.0 444.6L497.1 445.2L499.9 443.7L500.6 443.3L502.8 442.7L503.8 441.6L505.7 440.3L507.9 440.5L509.8 440.0L512.0 439.2L513.9 439.2L516.1 438.9L517.3 438.4L519.6 439.3L520.6 438.0L522.6 436.6L524.2 436.4L526.0 436.2L528.3 436.3L530.3 435.5L530.4 436.0L533.6 435.7L534.8 436.0L536.1 434.8L539.1 435.0L540.7 433.9L542.5 435.2L543.9 435.1L544.7 434.5L546.2 434.4L548.8 434.3L550.1 433.4L551.6 434.3L553.3 434.2L556.2 434.4L557.0 433.2L559.1 434.1L560.5 434.2L561.6 434.6L563.6 435.2L566.3 435.3L567.8 435.5L570.4 436.2L571.4 435.1L572.5 434.9L575.9 434.7L576.6 436.8L577.2 436.5L580.4 436.7L582.5 435.3L583.1 435.4L585.0 435.8L587.6 434.8L586.9 435.6L591.4 434.7L591.8 434.3L592.6 434.9L594.7 435.4L597.4 434.2L597.8 434.7L600.9 435.1L602.5 433.8L603.2 435.7L604.9 435.0L605.7 435.8L609.0 436.7L609.6 435.4L611.1 436.6L614.4 437.2L615.9 438.5L616.9 437.6L617.7 439.6L619.0 437.9L621.3 438.4L622.6 439.6L624.1 438.6L626.4 440.5L627.4 440.9L629.0 441.2L630.7 440.6L632.7 442.4L633.7 442.3L635.1 441.5L638.2 443.9L639.5 444.2L640.2 444.5L638.9 445.3L637.7 445.9L635.6 447.4L633.9 447.1L632.4 448.0L630.7 449.2L628.7 450.0L627.8 450.0L625.0 450.7L625.1 450.4L621.8 451.6L621.3 452.5L620.3 453.9L618.2 454.6L614.7 455.2L615.2 454.9L612.7 455.0L611.7 457.3L608.5 457.6L608.1 457.9L605.7 459.5L605.2 458.8L602.3 458.9L601.6 458.7L599.8 459.1L597.6 459.6L596.9 458.8L595.0 460.5L592.0 463.5L594.4 462.4L596.8 461.8L597.3 463.1L598.9 462.3L599.9 464.2L602.3 463.9L604.0 461.9L606.0 463.0M335.2 457.8L336.6 457.6L338.0 456.3L339.7 457.4L341.8 456.2L343.1 456.6L345.7 457.7L344.1 458.8L343.0 460.4L341.0 459.5L338.2 460.0L336.6 460.7ZM296.0 443.9L295.5 443.9L299.8 442.7L299.8 441.6L299.7 441.7L299.4 443.7L296.7 445.1L298.9 445.0L301.7 442.1L302.9 443.0L304.1 441.2L302.0 439.3L299.9 436.6L301.1 437.2L303.5 436.3L305.7 436.2L306.3 435.8L304.8 434.1L304.0 430.0L304.4 430.0L306.5 428.7L309.0 430.0" stroke-width="2.0"/><path d="M276.4 134.8L277.5 134.5L280.0 135.1L279.6 132.9L281.9 134.2M281.9 134.2L281.1 136.7M281.1 136.7L279.6 137.7L277.4 138.7L278.1 139.6M278.1 139.6L276.1 139.9L275.9 142.1L274.1 141.0M273.1 156.5L274.6 155.2L275.0 153.6L276.2 153.7M276.2 153.7L275.7 152.3L277.7 149.5L278.2 149.0M278.2 149.0L279.1 149.0L280.5 148.0L282.8 147.8L284.4 149.0M284.4 149.0L286.5 150.5L286.6 150.7M286.6 150.7L288.1 151.1L289.3 151.7M289.3 151.7L288.0 153.3L287.4 153.3L288.0 155.8M288.0 155.8L289.7 157.3M289.7 157.3L292.4 155.3L293.1 157.1L293.6 155.8M293.6 155.8L295.2 155.7L296.6 155.0L297.4 152.9M297.4 152.9L299.3 154.8L297.8 155.6L298.7 156.1L298.7 159.0M179.5 183.3L179.4 180.9L181.4 178.8L181.2 178.6M181.2 178.6L183.5 179.4L183.8 180.6M183.8 180.6L184.1 178.4L185.4 177.3M185.4 177.3L184.8 175.1M184.8 175.1L183.9 173.7L182.6 172.9L181.1 172.9M181.1 172.9L181.3 170.4L181.9 169.7M181.9 169.7L182.5 168.4L181.6 167.4L182.0 165.4M182.0 165.4L182.1 163.2M182.1 163.2L182.4 161.1M182.4 161.1L183.2 160.0L182.4 157.5M182.4 157.5L181.5 155.8M181.5 155.8L179.9 154.9L177.9 156.2M177.9 156.2L176.8 154.2M176.8 154.2L174.7 154.2L173.2 153.7M173.2 153.7L171.6 154.9L170.0 153.7M170.0 153.7L168.6 152.1M168.6 152.1L166.9 151.8L165.2 152.3M165.2 152.3L163.3 152.4L162.0 153.7M162.0 153.7L160.2 153.2L158.3 155.1L158.2 155.7L156.4 155.2M156.4 155.2L156.3 153.1L158.4 154.1L160.8 153.1L161.0 152.1L161.9 151.7M161.9 151.7L160.2 151.5L160.6 154.2L157.6 152.7M157.6 152.7L156.7 154.3L154.1 153.7L153.7 154.8M153.7 154.8L153.5 155.6L149.3 157.8L149.8 156.9M149.8 156.9L148.1 156.8L147.4 155.6L146.2 158.5L144.9 159.3L143.8 159.4M283.6 380.6L281.8 380.8L280.8 380.6M280.8 380.6L281.2 382.4L281.7 383.5M281.7 383.5L284.2 384.0M284.2 384.0L282.3 385.8M282.3 385.8L282.6 389.0L282.6 389.5M282.6 389.5L280.6 389.6L279.7 391.8M279.7 391.8L280.3 392.3L282.2 392.0L283.4 394.7M283.4 394.7L283.9 396.2M283.9 396.2L283.6 398.9L282.4 399.5M282.4 399.5L280.2 401.4L280.7 401.7M280.7 401.7L281.3 404.0L282.0 405.0M282.0 405.0L283.4 405.8M283.4 405.8L284.3 407.8M284.3 407.8L285.9 409.8L287.3 409.1L287.6 410.3M287.6 410.3L288.3 410.1L290.8 410.8M290.8 410.8L289.1 411.8M289.1 411.8L288.4 411.6L285.4 410.2L285.3 412.5M285.3 412.5L283.8 410.5L282.7 411.7L281.1 410.8M281.1 410.8L280.2 409.8L280.1 410.1L277.3 407.6L276.6 408.2M276.6 408.2L274.1 406.6L273.8 405.9L272.6 405.0M272.6 405.0L272.1 403.2L271.5 402.1L269.8 400.6M269.8 400.6L268.2 399.5L268.3 397.6L267.2 396.2M267.2 396.2L268.0 396.5L267.9 393.5M267.9 393.5L265.9 392.9M265.9 392.9L266.6 391.6L267.4 389.5M267.4 389.5L265.2 387.7L267.1 386.2M267.1 386.2L265.3 385.9L265.4 383.6L265.0 382.8M265.0 382.8L264.9 380.6M264.9 380.6L264.7 378.6L264.2 377.2M415.6 159.4L417.3 158.6M417.3 158.6L417.0 161.1M420.6 160.5L419.3 158.6M419.3 158.6L418.1 156.2M418.1 156.2L417.0 155.0M417.0 155.0L416.6 155.8M416.6 155.8L414.6 156.9M414.6 156.9L413.0 157.7M413.0 157.7L411.4 157.9M411.4 157.9L410.4 156.0L409.0 156.2M409.0 156.2L407.9 156.7L408.3 153.7M408.3 153.7L407.9 151.7M407.9 151.7L408.0 149.6M408.0 149.6L409.5 148.8L410.1 148.0M410.1 148.0L412.1 147.3L413.1 146.6M413.1 146.6L415.4 145.6M415.4 145.6L416.5 144.8L417.5 143.6M417.5 143.6L418.8 141.6M418.8 141.6L420.1 139.6M420.1 139.6L421.0 137.9L422.1 137.7M422.1 137.7L424.0 136.2M424.0 136.2L425.1 135.2L426.7 134.6M426.7 134.6L427.9 134.1L429.4 133.7M429.4 133.7L431.3 133.3L432.9 132.9M432.9 132.9L435.2 133.8L436.4 131.8M436.4 131.8L439.4 131.6L439.8 132.0M439.8 132.0L441.7 132.5L443.5 132.2L444.3 133.1M444.3 133.1L443.2 134.2M443.2 134.2L443.5 133.6L446.5 134.4L447.8 135.0M306.5 119.2L307.5 118.1L308.7 118.7L312.0 118.3L311.4 117.6L315.1 118.4L314.8 117.1M314.8 117.1L316.7 117.9L317.6 116.4L321.0 116.1L319.9 115.6M319.9 115.6L320.8 114.7L325.1 113.3L324.9 114.1M324.9 114.1L326.0 113.8L327.7 113.7L328.9 113.6L330.3 114.4L330.2 111.8L333.4 112.0L334.2 113.0M334.2 113.0L334.7 113.2L338.1 112.7L338.5 112.6L340.0 112.6L340.4 113.6L342.8 113.1L343.8 111.1L346.3 114.3L346.4 112.8M346.4 112.8L347.3 112.2L347.5 111.1L350.5 113.1L353.0 113.3L353.4 112.0L355.1 113.2L356.1 111.0L358.2 112.5L359.0 111.5M359.0 111.5L359.8 111.1L362.7 112.5L363.6 113.0L364.2 112.0L366.4 111.9L367.1 111.7M367.1 111.7L367.6 111.3L371.0 111.8L371.0 112.0L373.6 110.7L373.8 112.8M363.9 134.8L362.7 135.5L360.5 136.7M360.5 136.7L358.7 136.9L357.0 137.5L354.8 136.7L354.6 137.1L352.9 137.7M352.9 137.7L351.7 138.6L350.2 139.1L349.3 140.4L347.7 140.6M347.7 140.6L345.5 141.1L346.1 141.8L344.2 141.4L342.7 142.2M342.7 142.2L340.4 142.2L339.2 143.6M339.2 143.6L339.1 144.0L337.3 144.9L336.7 146.6M336.7 146.6L334.2 146.4L337.2 149.2L333.4 149.6M333.4 149.6L331.9 149.9L332.4 150.4L331.5 153.1M331.5 153.1L329.7 154.0M329.7 154.0L327.1 153.3L326.9 152.7M326.9 152.7L325.1 152.2L323.3 151.7M323.3 151.7L323.0 150.1L322.1 148.6M322.1 148.6L321.5 146.5L320.9 145.6M320.9 145.6L320.8 144.9L320.0 143.8L320.3 141.6M320.3 141.6L320.9 141.3L320.6 138.7M320.6 138.7L321.3 138.1L322.9 135.8M322.9 135.8L325.1 133.7L326.3 134.8M326.3 134.8L324.5 134.3L324.7 133.4L322.0 133.3M322.0 133.3L322.7 131.1M322.7 131.1L323.3 129.4L322.5 128.3M322.5 128.3L321.1 127.1L321.9 124.7M321.9 124.7L320.5 123.6L319.1 123.0M319.1 123.0L316.6 122.3L317.0 123.6L316.5 122.8L314.4 123.0L312.5 123.0M312.5 123.0L310.6 122.4L309.2 122.1M309.2 122.1L308.0 120.4M308.0 120.4L306.5 119.2M306.5 119.2L306.5 119.2M308.2 140.2L305.6 141.2L305.1 141.6L304.3 143.6M304.3 143.6L302.1 145.3L303.1 144.7L300.0 145.9L299.2 147.6M299.2 147.6L298.8 149.1L296.6 149.6M296.6 149.6L295.7 149.9L294.0 148.6M294.0 148.6L292.5 148.8L290.2 146.6L290.2 147.1L288.9 146.6M288.9 146.6L288.2 145.5L286.6 145.8L285.4 144.6M285.4 144.6L282.9 145.3L281.1 144.2L280.9 144.6M280.9 144.6L279.9 143.9L282.9 142.6M282.9 142.6L284.7 144.2L284.9 143.6L287.5 141.8L288.2 142.6M288.2 142.6L289.0 143.9L290.2 142.1L291.4 139.6M291.4 139.6L292.5 136.9L291.8 136.7M291.8 136.7L290.5 135.5L288.7 134.8M288.7 134.8L286.5 133.9M286.5 133.9L285.3 133.2L284.9 135.0L282.1 133.9M282.1 133.9L279.7 134.7L278.6 132.9M274.6 129.2L275.6 128.9L277.5 128.1L278.0 127.5L279.3 127.0M279.3 127.0L281.2 127.4L282.5 128.8L283.4 127.0M283.4 127.0L285.1 127.8L286.7 127.3L288.6 127.4M288.6 127.4L291.0 127.3L292.0 128.3M292.0 128.3L294.4 128.9M294.4 128.9L294.5 130.0L297.2 130.1L298.4 131.1M298.4 131.1L299.3 131.5L301.9 132.9L301.9 133.3M301.9 133.3L302.6 135.8M302.6 135.8L303.6 136.7L305.8 139.1L305.3 138.7M305.3 138.7L306.7 139.6L308.2 140.2M308.2 140.2L308.2 140.2M254.3 128.7L253.3 128.1L251.1 127.8M251.1 127.8L249.3 127.5L251.1 128.2L247.1 129.6L245.5 129.2L244.5 128.7M244.5 128.7L243.1 129.4L241.4 127.8M241.4 127.8L239.3 128.3L238.9 128.0L236.9 129.3L235.6 129.2M230.9 130.9L231.0 131.3L232.5 130.1L234.8 128.9L236.0 128.6L237.4 127.9L239.4 127.8M239.4 127.8L238.2 126.0M238.2 126.0L237.4 124.7L236.7 125.7L235.2 126.3L233.0 125.8M233.0 125.8L231.8 126.5L228.8 127.0L228.1 127.4M228.1 127.4L226.5 129.1L225.5 128.2L224.0 130.1M298.7 122.1L296.8 122.2L297.2 122.1L294.4 122.4M294.4 122.4L293.2 122.4L289.7 122.2L290.4 119.8L289.4 121.5L287.7 121.9L285.5 122.1M285.5 122.1L284.7 120.4M284.7 120.4L286.1 120.6L287.2 121.1L287.1 117.4L290.4 118.7M290.4 118.7L290.7 116.4M290.7 116.4L287.8 113.4L288.0 114.6M288.0 114.6L290.9 116.9L290.0 114.4L292.1 112.4L294.2 115.2L294.4 114.1L295.5 113.8L296.3 112.9L298.7 112.8M298.7 112.8L300.2 111.5L300.1 112.3L301.4 111.4L303.8 112.1L306.8 112.5L308.4 113.2L309.3 112.3L310.0 110.9L311.5 112.0M311.5 112.0L312.3 111.1L314.6 112.5L316.8 111.0L318.8 113.9L318.2 111.3L321.2 112.0L322.4 112.3L322.9 112.4M322.9 112.4L323.6 111.6L325.7 113.2M325.7 113.2L324.9 113.6L323.3 113.7L320.7 113.5L320.1 114.2L319.3 114.3L318.7 114.7L316.6 115.2M316.6 115.2L315.4 116.2L314.6 116.7L313.7 117.9L311.5 116.7M311.5 116.7L308.5 118.4L308.3 117.3L308.7 116.9L305.2 117.9M305.2 117.9L303.8 119.9L302.0 119.9M302.0 119.9L301.6 121.9L299.2 120.6L298.7 122.1M298.7 122.1L298.7 122.1M291.8 125.3L291.3 125.3L290.2 124.6L288.0 125.2L286.8 124.8L284.7 125.6M284.7 125.6L283.3 126.1L281.6 124.8L281.1 125.9L278.8 125.9L277.8 124.7L276.3 125.7L275.6 125.3M275.6 125.3L274.4 123.5L274.0 123.0M274.0 123.0L274.2 123.2L277.6 122.8L278.7 121.9L279.7 122.3L280.6 121.8M280.6 121.8L283.0 122.4L283.8 120.8L284.9 121.5L286.5 121.9L287.8 122.4M287.8 122.4L290.4 123.4L290.5 122.9L291.3 122.7L293.1 123.8M293.1 123.8L291.8 125.3M291.8 125.3L291.8 125.3M279.6 119.2L280.7 118.6L281.4 118.4L283.9 118.1L286.7 118.6L285.2 118.2L287.9 118.7M287.9 118.7L288.2 117.9L290.7 116.9L291.9 116.4M291.9 116.4L290.9 116.4L290.5 115.4L287.6 114.9M287.6 114.9L285.6 115.2L283.5 114.6L284.3 114.8L282.0 115.5L280.7 116.4M280.7 116.4L279.7 117.8L279.6 119.2M279.6 119.2L279.6 119.2M242.5 124.7L243.7 123.6L245.8 125.5L246.5 124.9L247.3 124.8L249.7 125.4L250.8 125.6M250.8 125.6L252.7 125.5L254.5 126.0L255.3 125.5L257.4 125.3L257.3 124.7M257.3 124.7L259.1 122.5L259.4 123.0M259.4 123.0L256.6 121.6L257.6 122.1L255.8 122.5L254.6 122.8L252.6 122.1M252.6 122.1L251.4 121.5L250.6 123.6L249.4 122.5L247.6 123.8L245.9 122.8L244.8 123.0M244.8 123.0L243.6 123.6L242.5 124.7M242.5 124.7L242.5 124.7M236.9 123.0L238.2 122.6L237.9 121.1L240.8 122.1L242.1 123.8L243.5 123.0M243.5 123.0L245.0 122.3L245.6 120.4L247.6 120.6L248.5 121.2M248.5 121.2L249.1 120.3L245.9 120.4M245.9 120.4L244.1 120.5L242.4 120.0L242.0 122.4L240.6 122.9L239.4 121.2M239.4 121.2L238.2 122.7L236.9 123.0M236.9 123.0L236.9 123.0M260.4 124.4L262.6 124.2L263.1 123.4L265.6 124.9L266.7 124.7M266.7 124.7L268.1 123.3L268.7 124.0L271.3 123.0M271.3 123.0L270.7 122.4L268.8 121.8M268.8 121.8L268.5 121.5L267.1 122.3L264.2 123.0L263.1 122.1M263.1 122.1L262.3 122.3L260.4 124.4M260.4 124.4L260.4 124.4M263.1 131.1L264.6 129.7L264.8 129.3L266.4 128.3M266.4 128.3L264.8 126.5M264.8 126.5L262.6 126.1L263.1 128.5L261.3 126.8L258.8 128.3M258.8 128.3L256.7 130.0L256.0 131.1M269.6 130.1L270.4 128.4L272.9 130.2L275.2 129.1L275.4 128.3M275.4 128.3L275.7 126.5M275.7 126.5L273.9 126.6L272.1 126.8L271.5 127.1L270.3 126.5M270.3 126.5L269.1 128.0L267.4 127.6L268.0 129.1L266.1 130.1M268.8 149.0L270.8 148.8L272.5 149.2L272.7 146.1L273.5 146.0L275.0 146.6M275.0 146.6L275.4 146.0L277.0 144.6M277.0 144.6L276.1 143.7L274.6 144.3L273.0 142.6M178.6 173.4L180.0 174.8L180.6 173.3L182.5 174.7M182.5 174.7L183.5 175.9L183.4 178.4M183.4 178.4L182.0 177.9L180.5 177.5M180.5 177.5L180.1 176.1L180.4 174.5L178.6 173.4M178.6 173.4L178.6 173.4M176.1 166.4L177.7 166.9M177.7 166.9L175.9 169.2L176.3 170.3M176.3 170.3L175.1 168.6M175.1 168.6L176.1 166.4M176.1 166.4L176.1 166.4M147.5 159.0L148.6 158.8L150.2 158.4L151.9 157.9M151.9 157.9L150.7 159.4M150.7 159.4L149.4 160.0L148.1 159.7L146.8 160.5M146.8 160.5L147.5 159.0M147.5 159.0L147.5 159.0M413.8 117.1L414.4 117.1L416.0 117.2L418.0 120.0L418.1 120.4M418.1 120.4L420.0 120.0L421.4 121.0L422.3 121.8M422.3 121.8L423.6 123.1L424.9 120.3L426.2 120.1L426.8 118.7M426.8 118.7L427.7 116.7L430.5 118.6L430.2 117.0L431.3 117.0L433.6 116.4M433.6 116.4L431.9 117.0L430.2 116.5L428.7 115.5L428.1 116.4L426.2 115.6L424.6 115.6M424.6 115.6L424.0 116.3L420.4 115.7L420.3 115.6L418.6 116.4M418.6 116.4L416.8 115.8L415.6 118.2L413.8 117.1M413.8 117.1L413.8 117.1M178.3 157.5L180.8 157.5M180.8 157.5L181.4 158.0L179.2 159.9L178.6 161.1M178.6 161.1L176.8 161.7M176.8 161.7L177.1 161.6L176.7 158.4L178.3 157.5M178.3 157.5L178.3 157.5M180.4 159.6L182.0 160.0M182.0 160.0L180.9 161.0L179.5 161.9L179.9 163.9M179.9 163.9L177.0 164.2L177.0 164.7M177.0 164.7L179.8 162.7L178.2 162.2L179.8 161.4L180.4 159.6M180.4 159.6L180.4 159.6M182.1 162.4L182.5 163.2M182.5 163.2L180.7 164.5M180.7 164.5L180.4 163.6M180.4 163.6L182.1 162.4M182.1 162.4L182.1 162.4M180.6 166.4L181.6 167.5M181.6 167.5L181.7 168.3L180.7 170.1M180.7 170.1L179.8 169.4M179.8 169.4L180.5 167.5L180.6 166.4M180.6 166.4L180.6 166.4M265.0 386.9L266.7 387.1M266.7 387.1L268.0 388.8L267.3 390.4L267.5 391.3M267.5 391.3L266.0 391.8M266.0 391.8L265.6 390.6L266.9 388.9L265.0 386.9M265.0 386.9L265.0 386.9M267.5 396.2L269.3 396.2M269.3 396.2L270.6 396.8L270.2 399.7L269.5 401.1L271.0 401.7M271.0 401.7L269.2 401.2M269.2 401.2L268.9 399.9L269.7 398.4L267.1 398.0L267.5 396.2M267.5 396.2L267.5 396.2M271.6 402.8L273.5 403.2M273.5 403.2L273.8 404.1L274.5 405.4L275.8 407.1M275.8 407.1L272.5 405.3L273.0 406.3M273.0 406.3L273.4 404.2L271.6 402.8M271.6 402.8L271.6 402.8M264.5 382.4L265.9 382.6M265.9 382.6L267.4 385.1L266.8 386.0M266.8 386.0L265.2 385.5M265.2 385.5L263.9 384.0L264.5 382.4M264.5 382.4L264.5 382.4M418.9 138.1L421.3 137.5M421.3 137.5L423.3 136.0M423.3 136.0L421.8 135.6M421.8 135.6L420.5 135.4L419.1 137.3M419.1 137.3L418.9 138.1M418.9 138.1L418.9 138.1M407.7 153.3L406.6 153.1L408.2 150.7M408.2 150.7L407.4 150.0M407.4 150.0L407.1 152.5M407.1 152.5L407.7 153.3M407.7 153.3L407.7 153.3M411.6 147.0L413.8 146.0M413.8 146.0L415.2 146.5L416.7 144.0M416.7 144.0L415.7 143.8M415.7 143.8L415.1 142.8L413.2 145.0L412.3 146.0M412.3 146.0L411.6 147.0M411.6 147.0L411.6 147.0" stroke-width="2.9"/><path d="M387.3 131.6l0.9 0.9M388.5 150.0l1.0 -1.0M121.9 309.6l1.4 -0.1M58.1 318.6l1.0 0.8M60.9 319.9l1.0 0.6M187.4 349.5l1.2 -0.1M80.6 387.3l1.6 -0.5M367.3 213.2l1.4 0.7M275.8 214.1l1.1 0.7M352.5 249.6l1.0 0.8M350.6 248.1l0.8 0.8M354.4 252.0l1.2 -1.0M370.6 305.8l0.9 -0.2M388.0 323.9l1.3 -0.4M335.4 409.0l1.2 0.4M337.1 409.7l0.8 0.7M466.5 394.1l0.9 -0.2M523.8 407.0l1.6 0.8M510.2 298.1l1.0 -0.3M508.0 335.9l1.4 -0.5M740.6 271.7l1.5 -0.1M702.0 270.6l1.1 0.7M715.6 272.2l0.8 -0.4M724.6 275.1l1.6 0.9M687.7 253.8l0.7 -0.4M686.7 257.6l0.7 0.1M687.3 401.4l0.7 -0.1M543.4 304.1l0.6 -0.1M544.3 268.4l1.5 0.7M610.3 311.8l0.9 -0.3M218.4 288.3l1.2 0.7M297.4 404.3l1.2 -0.6M298.7 403.9l1.6 0.9M667.7 271.0l0.6 0.1M674.7 227.0l0.6 -0.8M649.3 224.4l1.3 -0.9M104.4 327.2l1.1 0.7M99.2 325.1l1.5 -0.2M121.6 329.0l0.8 -0.7M127.3 337.1l1.3 -0.2M46.5 320.3l1.1 -0.3M56.9 329.7l1.0 -0.6M48.7 333.6l0.7 0.7M47.0 328.0l1.2 -0.0M55.8 335.6l1.6 0.1M81.0 279.3l0.7 -0.6M84.4 283.9l1.1 -0.6M56.5 294.1l1.0 -0.2M50.4 298.7l1.3 -0.3M56.5 297.8l1.1 0.5M89.3 296.5l1.4 1.0M88.2 300.2l1.5 0.8M56.5 307.3l0.9 -0.5M58.4 308.7l1.3 0.5M97.5 313.6l1.0 0.9M180.6 245.4l0.8 0.0M130.4 328.9l1.1 0.3M149.6 342.7l0.9 0.6M686.3 245.3l1.5 -0.6M739.3 272.1l1.3 -0.3M731.7 263.1l0.6 -0.1M745.2 281.4l1.5 -0.7M356.3 418.9l1.4 -0.6M642.4 436.1l1.2 -0.2M86.9 237.6l0.9 0.8M89.6 239.8l0.8 -0.5M92.0 241.5l0.9 -0.9M93.8 243.8l1.2 -0.9M94.7 244.8l1.5 -0.7M520.4 398.4l1.3 0.5M521.8 399.0l1.4 0.8M491.6 392.7l0.9 -0.2M381.1 378.8l1.1 0.4M341.6 198.2l1.6 0.8M347.3 200.1l1.4 -0.3M351.9 202.7l1.1 0.7M734.4 338.5l1.2 0.3M732.7 336.4l0.6 -0.8M730.6 334.0l0.8 -1.0M720.6 329.8l1.6 -0.7M722.2 331.0l1.5 0.9M710.9 332.9l1.0 -0.7M730.1 320.7l0.8 0.6M730.9 324.1l1.3 -0.3M731.7 327.4l1.6 -0.7M732.3 329.7l1.5 0.6M750.3 326.7l1.4 0.6M749.2 325.8l0.7 0.4M752.2 328.1l0.7 0.8M722.6 353.6l0.9 0.1M703.5 359.5l1.0 -0.1" stroke-width="1.2"/></g><path d="M272.27 470.40L267.82 468.55L262.67 466.04L256.98 462.94L250.89 459.34L244.58 455.30L238.43 450.98L232.78 446.48L227.54 441.83L222.52 437.04L217.67 432.12L212.94 427.09L208.34 421.95L203.88 416.73L199.60 411.42L195.52 406.04L191.70 400.59L188.20 395.09L184.91 389.55L181.76 383.97L178.82 378.36L176.16 372.73L173.75 367.08L171.56 361.42L169.60 355.76L167.90 350.10L166.48 344.44L165.30 338.78L164.27 333.12L163.29 327.46L162.40 321.80L161.68 316.15L161.10 310.49L160.66 304.83L160.34 299.17L160.12 293.51L160.00 287.85L160.12 282.19L160.34 276.53L160.66 270.87L161.10 265.21L161.68 259.55L162.40 253.90L163.29 248.24L164.27 242.58L165.30 236.92L166.48 231.26L167.90 225.60L169.60 219.94L171.56 214.28L173.75 208.62L176.16 202.97L178.82 197.34L181.76 191.73L184.91 186.15L188.20 180.61L191.70 175.11L195.52 169.66L199.60 164.28L203.88 158.97L208.34 153.75L212.94 148.61L217.67 143.58L222.52 138.66L227.54 133.87L232.78 129.22L238.43 124.72L244.58 120.40L250.89 116.36L256.98 112.76L262.67 109.66L267.82 107.15L272.27 105.30M336.14 470.40L333.91 468.55L331.34 466.04L328.49 462.94L325.44 459.34L322.29 455.30L319.22 450.98L316.39 446.48L313.77 441.83L311.26 437.04L308.84 432.12L306.47 427.09L304.17 421.95L301.94 416.73L299.80 411.42L297.76 406.04L295.85 400.59L294.10 395.09L292.46 389.55L290.88 383.97L289.41 378.36L288.08 372.73L286.88 367.08L285.78 361.42L284.80 355.76L283.95 350.10L283.24 344.44L282.65 338.78L282.14 333.12L281.64 327.46L281.20 321.80L280.84 316.15L280.55 310.49L280.33 304.83L280.17 299.17L280.06 293.51L280.00 287.85L280.06 282.19L280.17 276.53L280.33 270.87L280.55 265.21L280.84 259.55L281.20 253.90L281.64 248.24L282.14 242.58L282.65 236.92L283.24 231.26L283.95 225.60L284.80 219.94L285.78 214.28L286.88 208.62L288.08 202.97L289.41 197.34L290.88 191.73L292.46 186.15L294.10 180.61L295.85 175.11L297.76 169.66L299.80 164.28L301.94 158.97L304.17 153.75L306.47 148.61L308.84 143.58L311.26 138.66L313.77 133.87L316.39 129.22L319.22 124.72L322.29 120.40L325.44 116.36L328.49 112.76L331.34 109.66L333.91 107.15L336.14 105.30M400.50 470.40L400.50 468.55L400.50 466.04L400.50 462.94L400.50 459.34L400.50 455.30L400.50 450.98L400.50 446.48L400.50 441.83L400.50 437.04L400.50 432.12L400.50 427.09L400.50 421.95L400.50 416.73L400.50 411.42L400.50 406.04L400.50 400.59L400.50 395.09L400.50 389.55L400.50 383.97L400.50 378.36L400.50 372.73L400.50 367.08L400.50 361.42L400.50 355.76L400.50 350.10L400.50 344.44L400.50 338.78L400.50 333.12L400.50 327.46L400.50 321.80L400.50 316.15L400.50 310.49L400.50 304.83L400.50 299.17L400.50 293.51L400.50 287.85L400.50 282.19L400.50 276.53L400.50 270.87L400.50 265.21L400.50 259.55L400.50 253.90L400.50 248.24L400.50 242.58L400.50 236.92L400.50 231.26L400.50 225.60L400.50 219.94L400.50 214.28L400.50 208.62L400.50 202.97L400.50 197.34L400.50 191.73L400.50 186.15L400.50 180.61L400.50 175.11L400.50 169.66L400.50 164.28L400.50 158.97L400.50 153.75L400.50 148.61L400.50 143.58L400.50 138.66L400.50 133.87L400.50 129.22L400.50 124.72L400.50 120.40L400.50 116.36L400.50 112.76L400.50 109.66L400.50 107.15L400.50 105.30M463.86 470.40L466.09 468.55L468.66 466.04L471.51 462.94L474.56 459.34L477.71 455.30L480.78 450.98L483.61 446.48L486.23 441.83L488.74 437.04L491.16 432.12L493.53 427.09L495.83 421.95L498.06 416.73L500.20 411.42L502.24 406.04L504.15 400.59L505.90 395.09L507.54 389.55L509.12 383.97L510.59 378.36L511.92 372.73L513.12 367.08L514.22 361.42L515.20 355.76L516.05 350.10L516.76 344.44L517.35 338.78L517.86 333.12L518.36 327.46L518.80 321.80L519.16 316.15L519.45 310.49L519.67 304.83L519.83 299.17L519.94 293.51L520.00 287.85L519.94 282.19L519.83 276.53L519.67 270.87L519.45 265.21L519.16 259.55L518.80 253.90L518.36 248.24L517.86 242.58L517.35 236.92L516.76 231.26L516.05 225.60L515.20 219.94L514.22 214.28L513.12 208.62L511.92 202.97L510.59 197.34L509.12 191.73L507.54 186.15L505.90 180.61L504.15 175.11L502.24 169.66L500.20 164.28L498.06 158.97L495.83 153.75L493.53 148.61L491.16 143.58L488.74 138.66L486.23 133.87L483.61 129.22L480.78 124.72L477.71 120.40L474.56 116.36L471.51 112.76L468.66 109.66L466.09 107.15L463.86 105.30M527.73 470.40L532.18 468.55L537.33 466.04L543.02 462.94L549.11 459.34L555.42 455.30L561.57 450.98L567.22 446.48L572.46 441.83L577.48 437.04L582.33 432.12L587.06 427.09L591.66 421.95L596.12 416.73L600.40 411.42L604.48 406.04L608.30 400.59L611.80 395.09L615.09 389.55L618.24 383.97L621.18 378.36L623.84 372.73L626.25 367.08L628.44 361.42L630.40 355.76L632.10 350.10L633.52 344.44L634.70 338.78L635.73 333.12L636.71 327.46L637.60 321.80L638.32 316.15L638.90 310.49L639.34 304.83L639.66 299.17L639.88 293.51L640.00 287.85L639.88 282.19L639.66 276.53L639.34 270.87L638.90 265.21L638.32 259.55L637.60 253.90L636.71 248.24L635.73 242.58L634.70 236.92L633.52 231.26L632.10 225.60L630.40 219.94L628.44 214.28L626.25 208.62L623.84 202.97L621.18 197.34L618.24 191.73L615.09 186.15L611.80 180.61L608.30 175.11L604.48 169.66L600.40 164.28L596.12 158.97L591.66 153.75L587.06 148.61L582.33 143.58L577.48 138.66L572.46 133.87L567.22 129.22L561.57 124.72L555.42 120.40L549.11 116.36L543.02 112.76L537.33 109.66L532.18 107.15L527.73 105.30M112.50 422.50L687.50 422.50M54.40 356.50L745.60 356.50M40.00 288.50L760.00 288.50M54.40 220.50L745.60 220.50M112.50 154.50L687.50 154.50" fill="none" stroke="#b0b0b0" stroke-width="1.1"/><path d="M591.59 470.40L598.28 468.55L605.99 466.04L614.53 462.94L623.67 459.34L633.14 455.30L642.35 450.98L650.83 446.48L658.70 441.83L666.21 437.04L673.49 432.12L680.59 427.09L687.50 421.95L694.18 416.73L700.60 411.42L706.72 406.04L712.44 400.59L717.70 395.09L722.63 389.55L727.36 383.97L731.78 378.36L735.77 372.73L739.37 367.08L742.66 361.42L745.60 355.76L748.14 350.10L750.28 344.44L752.04 338.78L753.59 333.12L755.07 327.46L756.40 321.80L757.49 316.15L758.34 310.49L759.01 304.83L759.50 299.17L759.82 293.51L760.00 287.85L759.82 282.19L759.50 276.53L759.01 270.87L758.34 265.21L757.49 259.55L756.40 253.90L755.07 248.24L753.59 242.58L752.04 236.92L750.28 231.26L748.14 225.60L745.60 219.94L742.66 214.28L739.37 208.62L735.77 202.97L731.78 197.34L727.36 191.73L722.63 186.15L717.70 180.61L712.44 175.11L706.72 169.66L700.60 164.28L694.18 158.97L687.50 153.75L680.59 148.61L673.49 143.58L666.21 138.66L658.70 133.87L650.83 129.22L642.35 124.72L633.14 120.40L623.67 116.36L614.53 112.76L605.99 109.66L598.28 107.15L591.59 105.30L208.41 105.30L201.72 107.15L194.01 109.66L185.47 112.76L176.33 116.36L166.86 120.40L157.65 124.72L149.17 129.22L141.30 133.87L133.79 138.66L126.51 143.58L119.41 148.61L112.50 153.75L105.82 158.97L99.40 164.28L93.28 169.66L87.56 175.11L82.30 180.61L77.37 186.15L72.64 191.73L68.22 197.34L64.23 202.97L60.63 208.62L57.34 214.28L54.40 219.94L51.86 225.60L49.72 231.26L47.96 236.92L46.41 242.58L44.93 248.24L43.60 253.90L42.51 259.55L41.66 265.21L40.99 270.87L40.50 276.53L40.18 282.19L40.00 287.85L40.18 293.51L40.50 299.17L40.99 304.83L41.66 310.49L42.51 316.15L43.60 321.80L44.93 327.46L46.41 333.12L47.96 338.78L49.72 344.44L51.86 350.10L54.40 355.76L57.34 361.42L60.63 367.08L64.23 372.73L68.22 378.36L72.64 383.97L77.37 389.55L82.30 395.09L87.56 400.59L93.28 406.04L99.40 411.42L105.82 416.73L112.50 421.95L119.41 427.09L126.51 432.12L133.79 437.04L141.30 441.83L149.17 446.48L157.65 450.98L166.86 455.30L176.33 459.34L185.47 462.94L194.01 466.04L201.72 468.55L208.41 470.40Z" fill="none" stroke="#000" stroke-width="1.3"/><text x="319.6" y="24.2" font-size="17" textLength="160.7" lengthAdjust="spacingAndGlyphs">Ws Straight Strings</text><text x="186.5" y="97.5" font-size="14.1" textLength="33.4" lengthAdjust="spacingAndGlyphs">180°</text><text x="186.5" y="487.0" font-size="14.1" textLength="33.4" lengthAdjust="spacingAndGlyphs">180°</text><text x="248.7" y="95.1" font-size="14.1" textLength="47.2" lengthAdjust="spacingAndGlyphs">120°W</text><text x="248.7" y="489.3" font-size="14.1" textLength="47.2" lengthAdjust="spacingAndGlyphs">120°W</text><text x="317.0" y="95.1" font-size="14.1" textLength="38.4" lengthAdjust="spacingAndGlyphs">60°W</text><text x="317.0" y="489.3" font-size="14.1" textLength="38.4" lengthAdjust="spacingAndGlyphs">60°W</text><text x="392.4" y="95.1" font-size="14.1" textLength="15.8" lengthAdjust="spacingAndGlyphs">0°</text><text x="392.4" y="489.3" font-size="14.1" textLength="15.8" lengthAdjust="spacingAndGlyphs">0°</text><text x="447.0" y="95.1" font-size="14.1" textLength="33.4" lengthAdjust="spacingAndGlyphs">60°E</text><text x="447.0" y="489.3" font-size="14.1" textLength="33.4" lengthAdjust="spacingAndGlyphs">60°E</text><text x="506.7" y="95.1" font-size="14.1" textLength="42.2" lengthAdjust="spacingAndGlyphs">120°E</text><text x="506.7" y="489.3" font-size="14.1" textLength="42.2" lengthAdjust="spacingAndGlyphs">120°E</text><text x="579.5" y="97.5" font-size="14.1" textLength="33.4" lengthAdjust="spacingAndGlyphs">180°</text><text x="579.5" y="487.0" font-size="14.1" textLength="33.4" lengthAdjust="spacingAndGlyphs">180°</text><text x="67.8" y="158.1" font-size="14.1" textLength="35.0" lengthAdjust="spacingAndGlyphs">60°N</text><text x="696.6" y="158.1" font-size="14.1" textLength="35.0" lengthAdjust="spacingAndGlyphs">60°N</text><text x="10.6" y="224.0" font-size="14.1" textLength="35.0" lengthAdjust="spacingAndGlyphs">30°N</text><text x="752.8" y="224.0" font-size="14.1" textLength="35.0" lengthAdjust="spacingAndGlyphs">30°N</text><text x="16.4" y="292.2" font-size="14.1" textLength="15.8" lengthAdjust="spacingAndGlyphs">0°</text><text x="767.6" y="292.2" font-size="14.1" textLength="15.8" lengthAdjust="spacingAndGlyphs">0°</text><text x="12.2" y="359.5" font-size="14.1" textLength="33.4" lengthAdjust="spacingAndGlyphs">30°S</text><text x="752.8" y="359.5" font-size="14.1" textLength="33.4" lengthAdjust="spacingAndGlyphs">30°S</text><text x="69.4" y="425.6" font-size="14.1" textLength="33.4" lengthAdjust="spacingAndGlyphs">60°S</text><text x="696.6" y="425.6" font-size="14.1" textLength="33.4" lengthAdjust="spacingAndGlyphs">60°S</text><circle cx="32.5" cy="505.5" r="2.75" fill="#999999"/><text x="60.1" y="510.0" font-size="15.5" textLength="87.7" lengthAdjust="spacingAndGlyphs">0.0%: 7494</text><circle cx="32.5" cy="522.5" r="2.75" fill="#2a00d9"/><text x="60.1" y="527.0" font-size="15.5" textLength="149.9" lengthAdjust="spacingAndGlyphs">&gt;0.0 to 0.1%: 1370</text><circle cx="233" cy="505.5" r="2.75" fill="#3894ff"/><text x="260.9" y="510.0" font-size="15.5" textLength="140.1" lengthAdjust="spacingAndGlyphs">&gt;0.1 to 0.2%: 364</text><circle cx="233" cy="522.5" r="2.75" fill="#aaf7ff"/><text x="260.9" y="527.0" font-size="15.5" textLength="140.1" lengthAdjust="spacingAndGlyphs">&gt;0.2 to 0.5%: 420</text><circle cx="424" cy="505.5" r="2.75" fill="#ffda8e"/><text x="451.9" y="510.0" font-size="15.5" textLength="140.1" lengthAdjust="spacingAndGlyphs">&gt;0.5 to 1.0%: 304</text><circle cx="424" cy="522.5" r="2.75" fill="#f8675f"/><text x="451.9" y="527.0" font-size="15.5" textLength="140.1" lengthAdjust="spacingAndGlyphs">&gt;1.0 to 2.0%: 231</text><circle cx="615" cy="505.5" r="2.75" fill="#a50021"/><text x="642.9" y="510.0" font-size="15.5" textLength="140.1" lengthAdjust="spacingAndGlyphs">&gt;2.0 to 5.0%: 162</text><circle cx="615" cy="522.5" r="2.75" fill="#000000"/><text x="642.9" y="527.0" font-size="15.5" textLength="81.1" lengthAdjust="spacingAndGlyphs">&gt;5.0%: 60</text><text xml:space="preserve" x="8.0" y="594.7" font-size="5.6" textLength="210.0" lengthAdjust="spacingAndGlyphs">git_repos/hadisd3/plot_fail_rate_map.py   06-Oct-2025 22:30</text></svg></body></html>
